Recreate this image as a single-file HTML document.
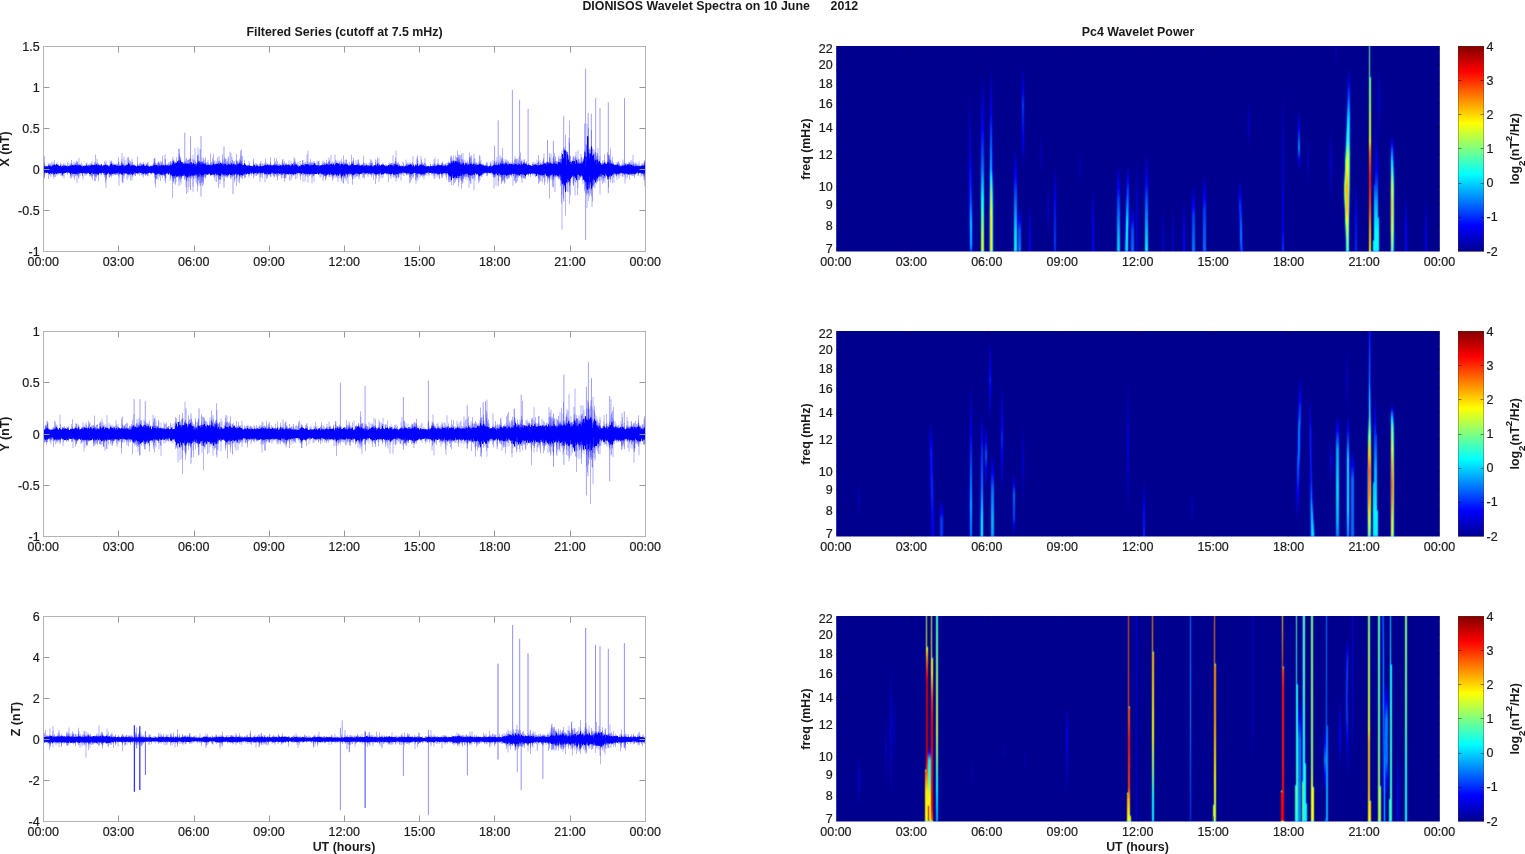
<!DOCTYPE html>
<html><head><meta charset="utf-8"><title>DIONISOS Wavelet Spectra</title>
<style>html,body{margin:0;padding:0;background:#fff;overflow:hidden}svg{display:block;opacity:0.999}text{font-family:"Liberation Sans", sans-serif;font-size:12.5px;fill:#1a1a1a;stroke:#1a1a1a;stroke-width:0.2px}.b{font-weight:bold;font-size:12.4px;stroke:none}</style>
</head><body>
<svg width="1525" height="854" viewBox="0 0 1525 854">
<defs>
<filter id="jet" x="0" y="0" width="1" height="1" color-interpolation-filters="sRGB"><feGaussianBlur stdDeviation="0 1.0"/><feComponentTransfer><feFuncR type="table" tableValues="0 0 0 0 0.5 1 1 1 0.5 0.5 0.5 0.5 0.5"/><feFuncG type="table" tableValues="0 0 0.5 1 1 1 0.5 0 0 0 0 0 0"/><feFuncB type="table" tableValues="0.56 1 1 1 0.5 0 0 0 0 0 0 0 0"/><feFuncA type="linear" slope="0" intercept="1"/></feComponentTransfer><feConvolveMatrix order="3 3" kernelMatrix="0.0200 0.0600 0.0200 0.1600 0.4800 0.1600 0.0200 0.0600 0.0200" divisor="1" edgeMode="duplicate" preserveAlpha="true"/></filter>
<linearGradient id="cb" x1="0" y1="0" x2="0" y2="1"><stop offset="0" stop-color="#800000"/><stop offset="0.125" stop-color="#ff0000"/><stop offset="0.375" stop-color="#ffff00"/><stop offset="0.625" stop-color="#00ffff"/><stop offset="0.875" stop-color="#0000ff"/><stop offset="1" stop-color="#00008f"/></linearGradient>
<clipPath id="cl0"><rect x="43.5" y="46.5" width="602.0" height="205.0"/></clipPath>
<clipPath id="cr0"><rect x="836.2" y="46.0" width="603.5999999999999" height="205.5"/></clipPath>
<clipPath id="cl1"><rect x="43.5" y="331.5" width="602.0" height="205.0"/></clipPath>
<clipPath id="cr1"><rect x="836.2" y="331.0" width="603.5999999999999" height="205.5"/></clipPath>
<clipPath id="cl2"><rect x="43.5" y="616.5" width="602.0" height="205.0"/></clipPath>
<clipPath id="cr2"><rect x="836.2" y="616.0" width="603.5999999999999" height="205.5"/></clipPath>
<linearGradient id="g0_0o" gradientUnits="userSpaceOnUse" x1="0" y1="92" x2="0" y2="252"><stop offset="0" stop-color="#fff" stop-opacity="0"/><stop offset="0.36" stop-color="#fff" stop-opacity="0"/><stop offset="0.68" stop-color="#fff" stop-opacity="0.022"/><stop offset="0.83" stop-color="#fff" stop-opacity="0.089"/><stop offset="0.96" stop-color="#fff" stop-opacity="0.067"/><stop offset="1" stop-color="#fff" stop-opacity="0"/></linearGradient><linearGradient id="g0_0" gradientUnits="userSpaceOnUse" x1="0" y1="92" x2="0" y2="252"><stop offset="0" stop-color="#fff" stop-opacity="0"/><stop offset="0.36" stop-color="#fff" stop-opacity="0.056"/><stop offset="0.68" stop-color="#fff" stop-opacity="0.136"/><stop offset="0.83" stop-color="#fff" stop-opacity="0.146"/><stop offset="0.96" stop-color="#fff" stop-opacity="0.143"/><stop offset="1" stop-color="#fff" stop-opacity="0.133"/></linearGradient><linearGradient id="g0_1" gradientUnits="userSpaceOnUse" x1="0" y1="74" x2="0" y2="252"><stop offset="0" stop-color="#fff" stop-opacity="0"/><stop offset="0.26" stop-color="#fff" stop-opacity="0.067"/><stop offset="0.53" stop-color="#fff" stop-opacity="0.156"/><stop offset="0.71" stop-color="#fff" stop-opacity="0.256"/><stop offset="0.9" stop-color="#fff" stop-opacity="0.356"/><stop offset="1" stop-color="#fff" stop-opacity="0.378"/></linearGradient><linearGradient id="g0_2o" gradientUnits="userSpaceOnUse" x1="0" y1="66" x2="0" y2="252"><stop offset="0" stop-color="#fff" stop-opacity="0"/><stop offset="0.24" stop-color="#fff" stop-opacity="0"/><stop offset="0.55" stop-color="#fff" stop-opacity="0.067"/><stop offset="0.66" stop-color="#fff" stop-opacity="0.2"/><stop offset="0.8" stop-color="#fff" stop-opacity="0.289"/><stop offset="1" stop-color="#fff" stop-opacity="0.289"/></linearGradient><linearGradient id="g0_2" gradientUnits="userSpaceOnUse" x1="0" y1="66" x2="0" y2="252"><stop offset="0" stop-color="#fff" stop-opacity="0"/><stop offset="0.24" stop-color="#fff" stop-opacity="0.078"/><stop offset="0.55" stop-color="#fff" stop-opacity="0.143"/><stop offset="0.66" stop-color="#fff" stop-opacity="0.167"/><stop offset="0.8" stop-color="#fff" stop-opacity="0.187"/><stop offset="1" stop-color="#fff" stop-opacity="0.187"/></linearGradient><linearGradient id="g0_3" gradientUnits="userSpaceOnUse" x1="0" y1="148" x2="0" y2="252"><stop offset="0" stop-color="#fff" stop-opacity="0"/><stop offset="0.4" stop-color="#fff" stop-opacity="0.122"/><stop offset="0.79" stop-color="#fff" stop-opacity="0.222"/><stop offset="1" stop-color="#fff" stop-opacity="0.244"/></linearGradient><linearGradient id="g0_4" gradientUnits="userSpaceOnUse" x1="0" y1="205" x2="0" y2="252"><stop offset="0" stop-color="#fff" stop-opacity="0"/><stop offset="0.53" stop-color="#fff" stop-opacity="0.133"/><stop offset="1" stop-color="#fff" stop-opacity="0.167"/></linearGradient><linearGradient id="g0_5" gradientUnits="userSpaceOnUse" x1="0" y1="66" x2="0" y2="169"><stop offset="0" stop-color="#fff" stop-opacity="0"/><stop offset="0.37" stop-color="#fff" stop-opacity="0.122"/><stop offset="0.72" stop-color="#fff" stop-opacity="0.078"/><stop offset="1" stop-color="#fff" stop-opacity="0"/></linearGradient><linearGradient id="g0_6" gradientUnits="userSpaceOnUse" x1="0" y1="200" x2="0" y2="252"><stop offset="0" stop-color="#fff" stop-opacity="0"/><stop offset="0.58" stop-color="#fff" stop-opacity="0.067"/><stop offset="1" stop-color="#fff" stop-opacity="0.078"/></linearGradient><linearGradient id="g0_7" gradientUnits="userSpaceOnUse" x1="0" y1="184" x2="0" y2="235"><stop offset="0" stop-color="#fff" stop-opacity="0"/><stop offset="0.51" stop-color="#fff" stop-opacity="0.044"/><stop offset="1" stop-color="#fff" stop-opacity="0"/></linearGradient><linearGradient id="g0_8" gradientUnits="userSpaceOnUse" x1="0" y1="166" x2="0" y2="252"><stop offset="0" stop-color="#fff" stop-opacity="0"/><stop offset="0.4" stop-color="#fff" stop-opacity="0.089"/><stop offset="0.86" stop-color="#fff" stop-opacity="0.122"/><stop offset="1" stop-color="#fff" stop-opacity="0.111"/></linearGradient><linearGradient id="g0_9" gradientUnits="userSpaceOnUse" x1="0" y1="130" x2="0" y2="179"><stop offset="0" stop-color="#fff" stop-opacity="0"/><stop offset="0.51" stop-color="#fff" stop-opacity="0.033"/><stop offset="1" stop-color="#fff" stop-opacity="0"/></linearGradient><linearGradient id="g0_10" gradientUnits="userSpaceOnUse" x1="0" y1="151" x2="0" y2="184"><stop offset="0" stop-color="#fff" stop-opacity="0"/><stop offset="0.52" stop-color="#fff" stop-opacity="0.033"/><stop offset="1" stop-color="#fff" stop-opacity="0"/></linearGradient><linearGradient id="g0_11" gradientUnits="userSpaceOnUse" x1="0" y1="189" x2="0" y2="252"><stop offset="0" stop-color="#fff" stop-opacity="0"/><stop offset="0.49" stop-color="#fff" stop-opacity="0.078"/><stop offset="1" stop-color="#fff" stop-opacity="0.089"/></linearGradient><linearGradient id="g0_12" gradientUnits="userSpaceOnUse" x1="0" y1="164" x2="0" y2="252"><stop offset="0" stop-color="#fff" stop-opacity="0"/><stop offset="0.41" stop-color="#fff" stop-opacity="0.122"/><stop offset="0.81" stop-color="#fff" stop-opacity="0.2"/><stop offset="1" stop-color="#fff" stop-opacity="0.222"/></linearGradient><linearGradient id="g0_13o" gradientUnits="userSpaceOnUse" x1="0" y1="164" x2="0" y2="252"><stop offset="0" stop-color="#fff" stop-opacity="0"/><stop offset="0.35" stop-color="#fff" stop-opacity="0.022"/><stop offset="0.69" stop-color="#fff" stop-opacity="0.122"/><stop offset="1" stop-color="#fff" stop-opacity="0.122"/></linearGradient><linearGradient id="g0_13" gradientUnits="userSpaceOnUse" x1="0" y1="164" x2="0" y2="252"><stop offset="0" stop-color="#fff" stop-opacity="0"/><stop offset="0.35" stop-color="#fff" stop-opacity="0.136"/><stop offset="0.69" stop-color="#fff" stop-opacity="0.152"/><stop offset="1" stop-color="#fff" stop-opacity="0.152"/></linearGradient><linearGradient id="g0_14" gradientUnits="userSpaceOnUse" x1="0" y1="205" x2="0" y2="252"><stop offset="0" stop-color="#fff" stop-opacity="0"/><stop offset="0.53" stop-color="#fff" stop-opacity="0.133"/><stop offset="1" stop-color="#fff" stop-opacity="0.156"/></linearGradient><linearGradient id="g0_15" gradientUnits="userSpaceOnUse" x1="0" y1="160" x2="0" y2="252"><stop offset="0" stop-color="#fff" stop-opacity="0"/><stop offset="0.43" stop-color="#fff" stop-opacity="0.056"/><stop offset="1" stop-color="#fff" stop-opacity="0.056"/></linearGradient><linearGradient id="g0_16" gradientUnits="userSpaceOnUse" x1="0" y1="153" x2="0" y2="252"><stop offset="0" stop-color="#fff" stop-opacity="0"/><stop offset="0.47" stop-color="#fff" stop-opacity="0.133"/><stop offset="0.83" stop-color="#fff" stop-opacity="0.211"/><stop offset="1" stop-color="#fff" stop-opacity="0.244"/></linearGradient><linearGradient id="g0_17" gradientUnits="userSpaceOnUse" x1="0" y1="205" x2="0" y2="252"><stop offset="0" stop-color="#fff" stop-opacity="0"/><stop offset="0.64" stop-color="#fff" stop-opacity="0.044"/><stop offset="1" stop-color="#fff" stop-opacity="0.044"/></linearGradient><linearGradient id="g0_18" gradientUnits="userSpaceOnUse" x1="0" y1="205" x2="0" y2="252"><stop offset="0" stop-color="#fff" stop-opacity="0"/><stop offset="0.64" stop-color="#fff" stop-opacity="0.044"/><stop offset="1" stop-color="#fff" stop-opacity="0.044"/></linearGradient><linearGradient id="g0_19" gradientUnits="userSpaceOnUse" x1="0" y1="200" x2="0" y2="252"><stop offset="0" stop-color="#fff" stop-opacity="0"/><stop offset="0.58" stop-color="#fff" stop-opacity="0.078"/><stop offset="1" stop-color="#fff" stop-opacity="0.089"/></linearGradient><linearGradient id="g0_20" gradientUnits="userSpaceOnUse" x1="0" y1="184" x2="0" y2="252"><stop offset="0" stop-color="#fff" stop-opacity="0"/><stop offset="0.46" stop-color="#fff" stop-opacity="0.122"/><stop offset="1" stop-color="#fff" stop-opacity="0.167"/></linearGradient><linearGradient id="g0_21" gradientUnits="userSpaceOnUse" x1="0" y1="174" x2="0" y2="252"><stop offset="0" stop-color="#fff" stop-opacity="0"/><stop offset="0.46" stop-color="#fff" stop-opacity="0.122"/><stop offset="1" stop-color="#fff" stop-opacity="0.156"/></linearGradient><linearGradient id="g0_22" gradientUnits="userSpaceOnUse" x1="0" y1="179" x2="0" y2="252"><stop offset="0" stop-color="#fff" stop-opacity="0"/><stop offset="0.36" stop-color="#fff" stop-opacity="0.122"/><stop offset="0.77" stop-color="#fff" stop-opacity="0.167"/><stop offset="1" stop-color="#fff" stop-opacity="0.144"/></linearGradient><linearGradient id="g0_23" gradientUnits="userSpaceOnUse" x1="0" y1="97" x2="0" y2="153"><stop offset="0" stop-color="#fff" stop-opacity="0"/><stop offset="0.5" stop-color="#fff" stop-opacity="0.044"/><stop offset="1" stop-color="#fff" stop-opacity="0"/></linearGradient><linearGradient id="g0_24" gradientUnits="userSpaceOnUse" x1="0" y1="86" x2="0" y2="252"><stop offset="0" stop-color="#fff" stop-opacity="0"/><stop offset="0.39" stop-color="#fff" stop-opacity="0.044"/><stop offset="0.81" stop-color="#fff" stop-opacity="0.067"/><stop offset="1" stop-color="#fff" stop-opacity="0.122"/></linearGradient><linearGradient id="g0_25" gradientUnits="userSpaceOnUse" x1="0" y1="110" x2="0" y2="171"><stop offset="0" stop-color="#fff" stop-opacity="0"/><stop offset="0.62" stop-color="#fff" stop-opacity="0.178"/><stop offset="1" stop-color="#fff" stop-opacity="0"/></linearGradient><linearGradient id="g0_26" gradientUnits="userSpaceOnUse" x1="0" y1="138" x2="0" y2="184"><stop offset="0" stop-color="#fff" stop-opacity="0"/><stop offset="0.48" stop-color="#fff" stop-opacity="0.044"/><stop offset="1" stop-color="#fff" stop-opacity="0"/></linearGradient><linearGradient id="g0_27" gradientUnits="userSpaceOnUse" x1="0" y1="125" x2="0" y2="205"><stop offset="0" stop-color="#fff" stop-opacity="0"/><stop offset="0.5" stop-color="#fff" stop-opacity="0.056"/><stop offset="1" stop-color="#fff" stop-opacity="0"/></linearGradient><linearGradient id="g0_28o" gradientUnits="userSpaceOnUse" x1="0" y1="66" x2="0" y2="252"><stop offset="0" stop-color="#fff" stop-opacity="0"/><stop offset="0.18" stop-color="#fff" stop-opacity="0.033"/><stop offset="0.27" stop-color="#fff" stop-opacity="0.1"/><stop offset="0.4" stop-color="#fff" stop-opacity="0.156"/><stop offset="0.49" stop-color="#fff" stop-opacity="0.256"/><stop offset="0.64" stop-color="#fff" stop-opacity="0.333"/><stop offset="0.77" stop-color="#fff" stop-opacity="0.322"/><stop offset="0.85" stop-color="#fff" stop-opacity="0.267"/><stop offset="0.94" stop-color="#fff" stop-opacity="0.222"/><stop offset="1" stop-color="#fff" stop-opacity="0.2"/></linearGradient><linearGradient id="g0_28" gradientUnits="userSpaceOnUse" x1="0" y1="66" x2="0" y2="252"><stop offset="0" stop-color="#fff" stop-opacity="0"/><stop offset="0.18" stop-color="#fff" stop-opacity="0.138"/><stop offset="0.27" stop-color="#fff" stop-opacity="0.148"/><stop offset="0.4" stop-color="#fff" stop-opacity="0.158"/><stop offset="0.49" stop-color="#fff" stop-opacity="0.179"/><stop offset="0.64" stop-color="#fff" stop-opacity="0.2"/><stop offset="0.77" stop-color="#fff" stop-opacity="0.197"/><stop offset="0.85" stop-color="#fff" stop-opacity="0.182"/><stop offset="0.94" stop-color="#fff" stop-opacity="0.171"/><stop offset="1" stop-color="#fff" stop-opacity="0.167"/></linearGradient><linearGradient id="g0_29" gradientUnits="userSpaceOnUse" x1="0" y1="184" x2="0" y2="252"><stop offset="0" stop-color="#fff" stop-opacity="0"/><stop offset="0.46" stop-color="#fff" stop-opacity="0.089"/><stop offset="1" stop-color="#fff" stop-opacity="0.111"/></linearGradient><linearGradient id="g0_30" gradientUnits="userSpaceOnUse" x1="0" y1="125" x2="0" y2="252"><stop offset="0" stop-color="#fff" stop-opacity="0"/><stop offset="0.35" stop-color="#fff" stop-opacity="0.078"/><stop offset="0.63" stop-color="#fff" stop-opacity="0.2"/><stop offset="0.87" stop-color="#fff" stop-opacity="0.256"/><stop offset="1" stop-color="#fff" stop-opacity="0.256"/></linearGradient><linearGradient id="g0_31" gradientUnits="userSpaceOnUse" x1="0" y1="44" x2="0" y2="252"><stop offset="0" stop-color="#fff" stop-opacity="0.311"/><stop offset="0.27" stop-color="#fff" stop-opacity="0.344"/><stop offset="0.46" stop-color="#fff" stop-opacity="0.4"/><stop offset="0.52" stop-color="#fff" stop-opacity="0.5"/><stop offset="0.65" stop-color="#fff" stop-opacity="0.567"/><stop offset="0.77" stop-color="#fff" stop-opacity="0.533"/><stop offset="0.89" stop-color="#fff" stop-opacity="0.467"/><stop offset="1" stop-color="#fff" stop-opacity="0.433"/></linearGradient><linearGradient id="g0_32o" gradientUnits="userSpaceOnUse" x1="0" y1="135" x2="0" y2="252"><stop offset="0" stop-color="#fff" stop-opacity="0"/><stop offset="0.18" stop-color="#fff" stop-opacity="0.067"/><stop offset="0.42" stop-color="#fff" stop-opacity="0.267"/><stop offset="0.6" stop-color="#fff" stop-opacity="0.311"/><stop offset="0.78" stop-color="#fff" stop-opacity="0.289"/><stop offset="1" stop-color="#fff" stop-opacity="0.211"/></linearGradient><linearGradient id="g0_32" gradientUnits="userSpaceOnUse" x1="0" y1="135" x2="0" y2="252"><stop offset="0" stop-color="#fff" stop-opacity="0"/><stop offset="0.18" stop-color="#fff" stop-opacity="0.143"/><stop offset="0.42" stop-color="#fff" stop-opacity="0.182"/><stop offset="0.6" stop-color="#fff" stop-opacity="0.194"/><stop offset="0.78" stop-color="#fff" stop-opacity="0.187"/><stop offset="1" stop-color="#fff" stop-opacity="0.169"/></linearGradient><linearGradient id="g0_33" gradientUnits="userSpaceOnUse" x1="0" y1="195" x2="0" y2="252"><stop offset="0" stop-color="#fff" stop-opacity="0"/><stop offset="0.53" stop-color="#fff" stop-opacity="0.078"/><stop offset="1" stop-color="#fff" stop-opacity="0.078"/></linearGradient><linearGradient id="g0_34" gradientUnits="userSpaceOnUse" x1="0" y1="200" x2="0" y2="252"><stop offset="0" stop-color="#fff" stop-opacity="0"/><stop offset="0.58" stop-color="#fff" stop-opacity="0.067"/><stop offset="1" stop-color="#fff" stop-opacity="0.067"/></linearGradient><linearGradient id="g0_35" gradientUnits="userSpaceOnUse" x1="0" y1="66" x2="0" y2="143"><stop offset="0" stop-color="#fff" stop-opacity="0"/><stop offset="0.44" stop-color="#fff" stop-opacity="0.056"/><stop offset="1" stop-color="#fff" stop-opacity="0"/></linearGradient><linearGradient id="g0_36" gradientUnits="userSpaceOnUse" x1="0" y1="44" x2="0" y2="70"><stop offset="0" stop-color="#fff" stop-opacity="0.033"/><stop offset="1" stop-color="#fff" stop-opacity="0"/></linearGradient><linearGradient id="g1_0" gradientUnits="userSpaceOnUse" x1="0" y1="480" x2="0" y2="518"><stop offset="0" stop-color="#fff" stop-opacity="0"/><stop offset="0.53" stop-color="#fff" stop-opacity="0.033"/><stop offset="1" stop-color="#fff" stop-opacity="0"/></linearGradient><linearGradient id="g1_1" gradientUnits="userSpaceOnUse" x1="0" y1="420" x2="0" y2="537"><stop offset="0" stop-color="#fff" stop-opacity="0"/><stop offset="0.26" stop-color="#fff" stop-opacity="0.1"/><stop offset="0.6" stop-color="#fff" stop-opacity="0.111"/><stop offset="1" stop-color="#fff" stop-opacity="0.078"/></linearGradient><linearGradient id="g1_2" gradientUnits="userSpaceOnUse" x1="0" y1="500" x2="0" y2="537"><stop offset="0" stop-color="#fff" stop-opacity="0"/><stop offset="0.54" stop-color="#fff" stop-opacity="0.122"/><stop offset="1" stop-color="#fff" stop-opacity="0.122"/></linearGradient><linearGradient id="g1_3o" gradientUnits="userSpaceOnUse" x1="0" y1="384" x2="0" y2="537"><stop offset="0" stop-color="#fff" stop-opacity="0"/><stop offset="0.3" stop-color="#fff" stop-opacity="0"/><stop offset="0.56" stop-color="#fff" stop-opacity="0.011"/><stop offset="0.79" stop-color="#fff" stop-opacity="0.067"/><stop offset="1" stop-color="#fff" stop-opacity="0.033"/></linearGradient><linearGradient id="g1_3" gradientUnits="userSpaceOnUse" x1="0" y1="384" x2="0" y2="537"><stop offset="0" stop-color="#fff" stop-opacity="0"/><stop offset="0.3" stop-color="#fff" stop-opacity="0.078"/><stop offset="0.56" stop-color="#fff" stop-opacity="0.135"/><stop offset="0.79" stop-color="#fff" stop-opacity="0.143"/><stop offset="1" stop-color="#fff" stop-opacity="0.138"/></linearGradient><linearGradient id="g1_4o" gradientUnits="userSpaceOnUse" x1="0" y1="410" x2="0" y2="537"><stop offset="0" stop-color="#fff" stop-opacity="0"/><stop offset="0.31" stop-color="#fff" stop-opacity="0"/><stop offset="0.63" stop-color="#fff" stop-opacity="0.033"/><stop offset="0.83" stop-color="#fff" stop-opacity="0.111"/><stop offset="1" stop-color="#fff" stop-opacity="0.133"/></linearGradient><linearGradient id="g1_4" gradientUnits="userSpaceOnUse" x1="0" y1="410" x2="0" y2="537"><stop offset="0" stop-color="#fff" stop-opacity="0"/><stop offset="0.31" stop-color="#fff" stop-opacity="0.111"/><stop offset="0.63" stop-color="#fff" stop-opacity="0.138"/><stop offset="0.83" stop-color="#fff" stop-opacity="0.15"/><stop offset="1" stop-color="#fff" stop-opacity="0.154"/></linearGradient><linearGradient id="g1_5" gradientUnits="userSpaceOnUse" x1="0" y1="425" x2="0" y2="490"><stop offset="0" stop-color="#fff" stop-opacity="0"/><stop offset="0.46" stop-color="#fff" stop-opacity="0.144"/><stop offset="1" stop-color="#fff" stop-opacity="0"/></linearGradient><linearGradient id="g1_6" gradientUnits="userSpaceOnUse" x1="0" y1="340" x2="0" y2="423"><stop offset="0" stop-color="#fff" stop-opacity="0"/><stop offset="0.48" stop-color="#fff" stop-opacity="0.1"/><stop offset="1" stop-color="#fff" stop-opacity="0"/></linearGradient><linearGradient id="g1_7" gradientUnits="userSpaceOnUse" x1="0" y1="454" x2="0" y2="537"><stop offset="0" stop-color="#fff" stop-opacity="0"/><stop offset="0.43" stop-color="#fff" stop-opacity="0.156"/><stop offset="0.8" stop-color="#fff" stop-opacity="0.2"/><stop offset="1" stop-color="#fff" stop-opacity="0.189"/></linearGradient><linearGradient id="g1_8" gradientUnits="userSpaceOnUse" x1="0" y1="384" x2="0" y2="495"><stop offset="0" stop-color="#fff" stop-opacity="0"/><stop offset="0.5" stop-color="#fff" stop-opacity="0.111"/><stop offset="1" stop-color="#fff" stop-opacity="0"/></linearGradient><linearGradient id="g1_9" gradientUnits="userSpaceOnUse" x1="0" y1="472" x2="0" y2="534"><stop offset="0" stop-color="#fff" stop-opacity="0"/><stop offset="0.37" stop-color="#fff" stop-opacity="0.156"/><stop offset="0.77" stop-color="#fff" stop-opacity="0.122"/><stop offset="1" stop-color="#fff" stop-opacity="0"/></linearGradient><linearGradient id="g1_10" gradientUnits="userSpaceOnUse" x1="0" y1="423" x2="0" y2="505"><stop offset="0" stop-color="#fff" stop-opacity="0"/><stop offset="0.45" stop-color="#fff" stop-opacity="0.056"/><stop offset="1" stop-color="#fff" stop-opacity="0"/></linearGradient><linearGradient id="g1_11" gradientUnits="userSpaceOnUse" x1="0" y1="376" x2="0" y2="518"><stop offset="0" stop-color="#fff" stop-opacity="0"/><stop offset="0.52" stop-color="#fff" stop-opacity="0.067"/><stop offset="1" stop-color="#fff" stop-opacity="0"/></linearGradient><linearGradient id="g1_12" gradientUnits="userSpaceOnUse" x1="0" y1="480" x2="0" y2="537"><stop offset="0" stop-color="#fff" stop-opacity="0"/><stop offset="0.53" stop-color="#fff" stop-opacity="0.089"/><stop offset="1" stop-color="#fff" stop-opacity="0.111"/></linearGradient><linearGradient id="g1_13" gradientUnits="userSpaceOnUse" x1="0" y1="490" x2="0" y2="526"><stop offset="0" stop-color="#fff" stop-opacity="0"/><stop offset="0.5" stop-color="#fff" stop-opacity="0.044"/><stop offset="1" stop-color="#fff" stop-opacity="0"/></linearGradient><linearGradient id="g1_14" gradientUnits="userSpaceOnUse" x1="0" y1="376" x2="0" y2="521"><stop offset="0" stop-color="#fff" stop-opacity="0"/><stop offset="0.32" stop-color="#fff" stop-opacity="0.167"/><stop offset="0.57" stop-color="#fff" stop-opacity="0.167"/><stop offset="0.79" stop-color="#fff" stop-opacity="0.089"/><stop offset="1" stop-color="#fff" stop-opacity="0"/></linearGradient><linearGradient id="g1_15o" gradientUnits="userSpaceOnUse" x1="0" y1="397" x2="0" y2="537"><stop offset="0" stop-color="#fff" stop-opacity="0"/><stop offset="0.24" stop-color="#fff" stop-opacity="0"/><stop offset="0.59" stop-color="#fff" stop-opacity="0"/><stop offset="0.77" stop-color="#fff" stop-opacity="0.067"/><stop offset="1" stop-color="#fff" stop-opacity="0.111"/></linearGradient><linearGradient id="g1_15" gradientUnits="userSpaceOnUse" x1="0" y1="397" x2="0" y2="537"><stop offset="0" stop-color="#fff" stop-opacity="0"/><stop offset="0.24" stop-color="#fff" stop-opacity="0.111"/><stop offset="0.59" stop-color="#fff" stop-opacity="0.111"/><stop offset="0.77" stop-color="#fff" stop-opacity="0.143"/><stop offset="1" stop-color="#fff" stop-opacity="0.15"/></linearGradient><linearGradient id="g1_16" gradientUnits="userSpaceOnUse" x1="0" y1="415" x2="0" y2="537"><stop offset="0" stop-color="#fff" stop-opacity="0"/><stop offset="0.28" stop-color="#fff" stop-opacity="0.189"/><stop offset="0.61" stop-color="#fff" stop-opacity="0.222"/><stop offset="0.86" stop-color="#fff" stop-opacity="0.2"/><stop offset="1" stop-color="#fff" stop-opacity="0.167"/></linearGradient><linearGradient id="g1_17o" gradientUnits="userSpaceOnUse" x1="0" y1="413" x2="0" y2="537"><stop offset="0" stop-color="#fff" stop-opacity="0"/><stop offset="0.22" stop-color="#fff" stop-opacity="0"/><stop offset="0.37" stop-color="#fff" stop-opacity="0.1"/><stop offset="0.78" stop-color="#fff" stop-opacity="0.111"/><stop offset="1" stop-color="#fff" stop-opacity="0.044"/></linearGradient><linearGradient id="g1_17" gradientUnits="userSpaceOnUse" x1="0" y1="413" x2="0" y2="537"><stop offset="0" stop-color="#fff" stop-opacity="0"/><stop offset="0.22" stop-color="#fff" stop-opacity="0.133"/><stop offset="0.37" stop-color="#fff" stop-opacity="0.148"/><stop offset="0.78" stop-color="#fff" stop-opacity="0.15"/><stop offset="1" stop-color="#fff" stop-opacity="0.14"/></linearGradient><linearGradient id="g1_18" gradientUnits="userSpaceOnUse" x1="0" y1="449" x2="0" y2="537"><stop offset="0" stop-color="#fff" stop-opacity="0"/><stop offset="0.35" stop-color="#fff" stop-opacity="0.156"/><stop offset="1" stop-color="#fff" stop-opacity="0.156"/></linearGradient><linearGradient id="g1_19" gradientUnits="userSpaceOnUse" x1="0" y1="395" x2="0" y2="537"><stop offset="0" stop-color="#fff" stop-opacity="0"/><stop offset="0.25" stop-color="#fff" stop-opacity="0.111"/><stop offset="0.52" stop-color="#fff" stop-opacity="0.2"/><stop offset="0.81" stop-color="#fff" stop-opacity="0.244"/><stop offset="1" stop-color="#fff" stop-opacity="0.244"/></linearGradient><linearGradient id="g1_20o" gradientUnits="userSpaceOnUse" x1="0" y1="329" x2="0" y2="537"><stop offset="0" stop-color="#fff" stop-opacity="0.033"/><stop offset="0.25" stop-color="#fff" stop-opacity="0.078"/><stop offset="0.41" stop-color="#fff" stop-opacity="0.189"/><stop offset="0.58" stop-color="#fff" stop-opacity="0.333"/><stop offset="0.68" stop-color="#fff" stop-opacity="0.4"/><stop offset="0.8" stop-color="#fff" stop-opacity="0.378"/><stop offset="0.89" stop-color="#fff" stop-opacity="0.311"/><stop offset="1" stop-color="#fff" stop-opacity="0.233"/></linearGradient><linearGradient id="g1_20" gradientUnits="userSpaceOnUse" x1="0" y1="329" x2="0" y2="537"><stop offset="0" stop-color="#fff" stop-opacity="0.138"/><stop offset="0.25" stop-color="#fff" stop-opacity="0.145"/><stop offset="0.41" stop-color="#fff" stop-opacity="0.164"/><stop offset="0.58" stop-color="#fff" stop-opacity="0.2"/><stop offset="0.68" stop-color="#fff" stop-opacity="0.222"/><stop offset="0.8" stop-color="#fff" stop-opacity="0.214"/><stop offset="0.89" stop-color="#fff" stop-opacity="0.194"/><stop offset="1" stop-color="#fff" stop-opacity="0.174"/></linearGradient><linearGradient id="g1_21o" gradientUnits="userSpaceOnUse" x1="0" y1="405" x2="0" y2="537"><stop offset="0" stop-color="#fff" stop-opacity="0"/><stop offset="0.08" stop-color="#fff" stop-opacity="0.067"/><stop offset="0.17" stop-color="#fff" stop-opacity="0.211"/><stop offset="0.45" stop-color="#fff" stop-opacity="0.333"/><stop offset="0.61" stop-color="#fff" stop-opacity="0.378"/><stop offset="0.72" stop-color="#fff" stop-opacity="0.356"/><stop offset="0.87" stop-color="#fff" stop-opacity="0.3"/><stop offset="1" stop-color="#fff" stop-opacity="0.278"/></linearGradient><linearGradient id="g1_21" gradientUnits="userSpaceOnUse" x1="0" y1="405" x2="0" y2="537"><stop offset="0" stop-color="#fff" stop-opacity="0"/><stop offset="0.08" stop-color="#fff" stop-opacity="0.143"/><stop offset="0.17" stop-color="#fff" stop-opacity="0.169"/><stop offset="0.45" stop-color="#fff" stop-opacity="0.2"/><stop offset="0.61" stop-color="#fff" stop-opacity="0.214"/><stop offset="0.72" stop-color="#fff" stop-opacity="0.207"/><stop offset="0.87" stop-color="#fff" stop-opacity="0.19"/><stop offset="1" stop-color="#fff" stop-opacity="0.185"/></linearGradient><linearGradient id="g1_22" gradientUnits="userSpaceOnUse" x1="0" y1="346" x2="0" y2="412"><stop offset="0" stop-color="#fff" stop-opacity="0"/><stop offset="0.52" stop-color="#fff" stop-opacity="0.044"/><stop offset="1" stop-color="#fff" stop-opacity="0"/></linearGradient><linearGradient id="g1_23" gradientUnits="userSpaceOnUse" x1="0" y1="438" x2="0" y2="485"><stop offset="0" stop-color="#fff" stop-opacity="0"/><stop offset="0.47" stop-color="#fff" stop-opacity="0.056"/><stop offset="1" stop-color="#fff" stop-opacity="0"/></linearGradient><linearGradient id="g2_0" gradientUnits="userSpaceOnUse" x1="0" y1="754" x2="0" y2="806"><stop offset="0" stop-color="#fff" stop-opacity="0"/><stop offset="0.5" stop-color="#fff" stop-opacity="0.056"/><stop offset="1" stop-color="#fff" stop-opacity="0"/></linearGradient><linearGradient id="g2_1" gradientUnits="userSpaceOnUse" x1="0" y1="713" x2="0" y2="790"><stop offset="0" stop-color="#fff" stop-opacity="0"/><stop offset="0.48" stop-color="#fff" stop-opacity="0.033"/><stop offset="1" stop-color="#fff" stop-opacity="0"/></linearGradient><linearGradient id="g2_2" gradientUnits="userSpaceOnUse" x1="0" y1="661" x2="0" y2="803"><stop offset="0" stop-color="#fff" stop-opacity="0"/><stop offset="0.49" stop-color="#fff" stop-opacity="0.056"/><stop offset="1" stop-color="#fff" stop-opacity="0"/></linearGradient><linearGradient id="g2_3" gradientUnits="userSpaceOnUse" x1="0" y1="692" x2="0" y2="765"><stop offset="0" stop-color="#fff" stop-opacity="0"/><stop offset="0.52" stop-color="#fff" stop-opacity="0.033"/><stop offset="1" stop-color="#fff" stop-opacity="0"/></linearGradient><linearGradient id="g2_4" gradientUnits="userSpaceOnUse" x1="0" y1="748" x2="0" y2="822"><stop offset="0" stop-color="#fff" stop-opacity="0"/><stop offset="0.16" stop-color="#fff" stop-opacity="0.244"/><stop offset="0.41" stop-color="#fff" stop-opacity="0.289"/><stop offset="0.66" stop-color="#fff" stop-opacity="0.4"/><stop offset="1" stop-color="#fff" stop-opacity="0.411"/></linearGradient><linearGradient id="g2_5" gradientUnits="userSpaceOnUse" x1="0" y1="614" x2="0" y2="822"><stop offset="0" stop-color="#fff" stop-opacity="0.356"/><stop offset="0.17" stop-color="#fff" stop-opacity="0.422"/><stop offset="0.22" stop-color="#fff" stop-opacity="0.5"/><stop offset="0.33" stop-color="#fff" stop-opacity="0.611"/><stop offset="0.66" stop-color="#fff" stop-opacity="0.622"/><stop offset="0.77" stop-color="#fff" stop-opacity="0.511"/><stop offset="0.85" stop-color="#fff" stop-opacity="0.433"/><stop offset="1" stop-color="#fff" stop-opacity="0.422"/></linearGradient><linearGradient id="g2_6" gradientUnits="userSpaceOnUse" x1="0" y1="614" x2="0" y2="822"><stop offset="0" stop-color="#fff" stop-opacity="0.4"/><stop offset="0.29" stop-color="#fff" stop-opacity="0.422"/><stop offset="0.41" stop-color="#fff" stop-opacity="0.544"/><stop offset="0.53" stop-color="#fff" stop-opacity="0.589"/><stop offset="0.93" stop-color="#fff" stop-opacity="0.589"/><stop offset="1" stop-color="#fff" stop-opacity="0.511"/></linearGradient><linearGradient id="g2_7" gradientUnits="userSpaceOnUse" x1="0" y1="614" x2="0" y2="822"><stop offset="0" stop-color="#fff" stop-opacity="0.289"/><stop offset="0.35" stop-color="#fff" stop-opacity="0.356"/><stop offset="0.57" stop-color="#fff" stop-opacity="0.378"/><stop offset="0.71" stop-color="#fff" stop-opacity="0.322"/><stop offset="0.83" stop-color="#fff" stop-opacity="0.256"/><stop offset="1" stop-color="#fff" stop-opacity="0.189"/></linearGradient><linearGradient id="g2_8" gradientUnits="userSpaceOnUse" x1="0" y1="759" x2="0" y2="790"><stop offset="0" stop-color="#fff" stop-opacity="0"/><stop offset="0.52" stop-color="#fff" stop-opacity="0.022"/><stop offset="1" stop-color="#fff" stop-opacity="0"/></linearGradient><linearGradient id="g2_9" gradientUnits="userSpaceOnUse" x1="0" y1="744" x2="0" y2="759"><stop offset="0" stop-color="#fff" stop-opacity="0"/><stop offset="0.53" stop-color="#fff" stop-opacity="0.022"/><stop offset="1" stop-color="#fff" stop-opacity="0"/></linearGradient><linearGradient id="g2_10" gradientUnits="userSpaceOnUse" x1="0" y1="744" x2="0" y2="777"><stop offset="0" stop-color="#fff" stop-opacity="0"/><stop offset="0.48" stop-color="#fff" stop-opacity="0.022"/><stop offset="1" stop-color="#fff" stop-opacity="0"/></linearGradient><linearGradient id="g2_11" gradientUnits="userSpaceOnUse" x1="0" y1="705" x2="0" y2="796"><stop offset="0" stop-color="#fff" stop-opacity="0"/><stop offset="0.32" stop-color="#fff" stop-opacity="0.078"/><stop offset="1" stop-color="#fff" stop-opacity="0"/></linearGradient><linearGradient id="g2_12" gradientUnits="userSpaceOnUse" x1="0" y1="614" x2="0" y2="822"><stop offset="0" stop-color="#fff" stop-opacity="0.522"/><stop offset="0.51" stop-color="#fff" stop-opacity="0.533"/><stop offset="0.61" stop-color="#fff" stop-opacity="0.567"/><stop offset="0.83" stop-color="#fff" stop-opacity="0.544"/><stop offset="0.89" stop-color="#fff" stop-opacity="0.467"/><stop offset="1" stop-color="#fff" stop-opacity="0.411"/></linearGradient><linearGradient id="g2_13" gradientUnits="userSpaceOnUse" x1="0" y1="614" x2="0" y2="822"><stop offset="0" stop-color="#fff" stop-opacity="0.078"/><stop offset="1" stop-color="#fff" stop-opacity="0.067"/></linearGradient><linearGradient id="g2_14" gradientUnits="userSpaceOnUse" x1="0" y1="614" x2="0" y2="822"><stop offset="0" stop-color="#fff" stop-opacity="0.489"/><stop offset="0.35" stop-color="#fff" stop-opacity="0.444"/><stop offset="0.59" stop-color="#fff" stop-opacity="0.411"/><stop offset="0.77" stop-color="#fff" stop-opacity="0.333"/><stop offset="0.89" stop-color="#fff" stop-opacity="0.256"/><stop offset="1" stop-color="#fff" stop-opacity="0.244"/></linearGradient><linearGradient id="g2_15" gradientUnits="userSpaceOnUse" x1="0" y1="614" x2="0" y2="822"><stop offset="0" stop-color="#fff" stop-opacity="0.167"/><stop offset="0.51" stop-color="#fff" stop-opacity="0.178"/><stop offset="0.8" stop-color="#fff" stop-opacity="0.144"/><stop offset="1" stop-color="#fff" stop-opacity="0.122"/></linearGradient><linearGradient id="g2_16" gradientUnits="userSpaceOnUse" x1="0" y1="614" x2="0" y2="822"><stop offset="0" stop-color="#fff" stop-opacity="0.5"/><stop offset="0.51" stop-color="#fff" stop-opacity="0.478"/><stop offset="0.77" stop-color="#fff" stop-opacity="0.422"/><stop offset="1" stop-color="#fff" stop-opacity="0.378"/></linearGradient><linearGradient id="g2_17" gradientUnits="userSpaceOnUse" x1="0" y1="614" x2="0" y2="770"><stop offset="0" stop-color="#fff" stop-opacity="0.056"/><stop offset="0.68" stop-color="#fff" stop-opacity="0.056"/><stop offset="1" stop-color="#fff" stop-opacity="0"/></linearGradient><linearGradient id="g2_18" gradientUnits="userSpaceOnUse" x1="0" y1="614" x2="0" y2="822"><stop offset="0" stop-color="#fff" stop-opacity="0.433"/><stop offset="0.17" stop-color="#fff" stop-opacity="0.489"/><stop offset="0.35" stop-color="#fff" stop-opacity="0.567"/><stop offset="0.7" stop-color="#fff" stop-opacity="0.567"/><stop offset="1" stop-color="#fff" stop-opacity="0.589"/></linearGradient><linearGradient id="g2_19" gradientUnits="userSpaceOnUse" x1="0" y1="697" x2="0" y2="822"><stop offset="0" stop-color="#fff" stop-opacity="0"/><stop offset="0.34" stop-color="#fff" stop-opacity="0.156"/><stop offset="1" stop-color="#fff" stop-opacity="0.178"/></linearGradient><linearGradient id="g2_20" gradientUnits="userSpaceOnUse" x1="0" y1="614" x2="0" y2="822"><stop offset="0" stop-color="#fff" stop-opacity="0.322"/><stop offset="0.22" stop-color="#fff" stop-opacity="0.289"/><stop offset="0.35" stop-color="#fff" stop-opacity="0.267"/><stop offset="0.71" stop-color="#fff" stop-opacity="0.278"/><stop offset="0.85" stop-color="#fff" stop-opacity="0.3"/><stop offset="1" stop-color="#fff" stop-opacity="0.278"/></linearGradient><linearGradient id="g2_21" gradientUnits="userSpaceOnUse" x1="0" y1="614" x2="0" y2="822"><stop offset="0" stop-color="#fff" stop-opacity="0.111"/><stop offset="1" stop-color="#fff" stop-opacity="0.122"/></linearGradient><linearGradient id="g2_22" gradientUnits="userSpaceOnUse" x1="0" y1="614" x2="0" y2="822"><stop offset="0" stop-color="#fff" stop-opacity="0.322"/><stop offset="0.41" stop-color="#fff" stop-opacity="0.3"/><stop offset="0.66" stop-color="#fff" stop-opacity="0.267"/><stop offset="1" stop-color="#fff" stop-opacity="0.256"/></linearGradient><linearGradient id="g2_23" gradientUnits="userSpaceOnUse" x1="0" y1="614" x2="0" y2="822"><stop offset="0" stop-color="#fff" stop-opacity="0.333"/><stop offset="0.75" stop-color="#fff" stop-opacity="0.356"/><stop offset="0.85" stop-color="#fff" stop-opacity="0.411"/><stop offset="1" stop-color="#fff" stop-opacity="0.411"/></linearGradient><linearGradient id="g2_24" gradientUnits="userSpaceOnUse" x1="0" y1="725" x2="0" y2="790"><stop offset="0" stop-color="#fff" stop-opacity="0"/><stop offset="0.54" stop-color="#fff" stop-opacity="0.167"/><stop offset="1" stop-color="#fff" stop-opacity="0"/></linearGradient><linearGradient id="g2_25" gradientUnits="userSpaceOnUse" x1="0" y1="614" x2="0" y2="822"><stop offset="0" stop-color="#fff" stop-opacity="0.167"/><stop offset="0.51" stop-color="#fff" stop-opacity="0.156"/><stop offset="0.77" stop-color="#fff" stop-opacity="0.189"/><stop offset="1" stop-color="#fff" stop-opacity="0.2"/></linearGradient><linearGradient id="g2_26" gradientUnits="userSpaceOnUse" x1="0" y1="695" x2="0" y2="772"><stop offset="0" stop-color="#fff" stop-opacity="0"/><stop offset="0.52" stop-color="#fff" stop-opacity="0.078"/><stop offset="1" stop-color="#fff" stop-opacity="0"/></linearGradient><linearGradient id="g2_27" gradientUnits="userSpaceOnUse" x1="0" y1="637" x2="0" y2="775"><stop offset="0" stop-color="#fff" stop-opacity="0"/><stop offset="0.17" stop-color="#fff" stop-opacity="0.133"/><stop offset="0.6" stop-color="#fff" stop-opacity="0.133"/><stop offset="1" stop-color="#fff" stop-opacity="0"/></linearGradient><linearGradient id="g2_28" gradientUnits="userSpaceOnUse" x1="0" y1="614" x2="0" y2="762"><stop offset="0" stop-color="#fff" stop-opacity="0.067"/><stop offset="0.72" stop-color="#fff" stop-opacity="0.056"/><stop offset="1" stop-color="#fff" stop-opacity="0"/></linearGradient><linearGradient id="g2_29" gradientUnits="userSpaceOnUse" x1="0" y1="614" x2="0" y2="822"><stop offset="0" stop-color="#fff" stop-opacity="0.333"/><stop offset="0.53" stop-color="#fff" stop-opacity="0.4"/><stop offset="0.62" stop-color="#fff" stop-opacity="0.456"/><stop offset="0.83" stop-color="#fff" stop-opacity="0.456"/><stop offset="1" stop-color="#fff" stop-opacity="0.422"/></linearGradient><linearGradient id="g2_30" gradientUnits="userSpaceOnUse" x1="0" y1="614" x2="0" y2="822"><stop offset="0" stop-color="#fff" stop-opacity="0.311"/><stop offset="0.51" stop-color="#fff" stop-opacity="0.311"/><stop offset="0.77" stop-color="#fff" stop-opacity="0.344"/><stop offset="1" stop-color="#fff" stop-opacity="0.367"/></linearGradient><linearGradient id="g2_31" gradientUnits="userSpaceOnUse" x1="0" y1="682" x2="0" y2="800"><stop offset="0" stop-color="#fff" stop-opacity="0"/><stop offset="0.32" stop-color="#fff" stop-opacity="0.167"/><stop offset="0.68" stop-color="#fff" stop-opacity="0.156"/><stop offset="1" stop-color="#fff" stop-opacity="0"/></linearGradient><linearGradient id="g2_32" gradientUnits="userSpaceOnUse" x1="0" y1="614" x2="0" y2="822"><stop offset="0" stop-color="#fff" stop-opacity="0.189"/><stop offset="0.51" stop-color="#fff" stop-opacity="0.2"/><stop offset="1" stop-color="#fff" stop-opacity="0.244"/></linearGradient><linearGradient id="g2_33" gradientUnits="userSpaceOnUse" x1="0" y1="614" x2="0" y2="822"><stop offset="0" stop-color="#fff" stop-opacity="0.222"/><stop offset="0.51" stop-color="#fff" stop-opacity="0.278"/><stop offset="1" stop-color="#fff" stop-opacity="0.289"/></linearGradient><linearGradient id="g2_34" gradientUnits="userSpaceOnUse" x1="0" y1="752" x2="0" y2="822"><stop offset="0" stop-color="#fff" stop-opacity="0"/><stop offset="0.54" stop-color="#fff" stop-opacity="0.067"/><stop offset="1" stop-color="#fff" stop-opacity="0.067"/></linearGradient><linearGradient id="g2_35" gradientUnits="userSpaceOnUse" x1="0" y1="614" x2="0" y2="822"><stop offset="0" stop-color="#fff" stop-opacity="0.344"/><stop offset="0.51" stop-color="#fff" stop-opacity="0.311"/><stop offset="0.77" stop-color="#fff" stop-opacity="0.267"/><stop offset="1" stop-color="#fff" stop-opacity="0.256"/></linearGradient>
</defs>
<text class="b" x="582.4" y="9.6" xml:space="preserve">DIONISOS Wavelet Spectra on 10 June</text>
<text class="b" x="830.6" y="9.6">2012</text>
<text class="b" x="344.5" y="36" text-anchor="middle">Filtered Series (cutoff at 7.5 mHz)</text>
<text class="b" x="1138" y="36" text-anchor="middle">Pc4 Wavelet Power</text>
<text class="b" x="344" y="851" text-anchor="middle">UT (hours)</text>
<text class="b" x="1137.5" y="851" text-anchor="middle">UT (hours)</text>
<g clip-path="url(#cl0)">
<path d="M44.5 156.1V178.6M45 169.5V173.9M45.5 165.4V169.5M48.5 169.5V178.9M50 169.5V175.7M52 161.6V169.5M54 169.5V178.8M54.5 160.2V169.5M55.5 169.5V177.0M56.5 164.7V169.5M60.5 162.7V169.5M61 169.5V175.9M61.5 164.2V174.7M62 169.5V176.2M62.5 169.5V176.5M64 169.5V178.4M64.5 165.1V169.5M65 163.4V169.5M65.5 165.2V169.5M66 165.9V169.5M66.5 165.2V169.5M67.5 162.6V169.5M68 165.9V169.5M69 163.2V169.5M70.5 169.5V178.0M71 163.4V169.5M71.5 159.8V178.6M73 169.5V177.5M74 161.7V169.5M74.5 169.5V179.5M76.5 160.6V169.5M77 162.0V183.1M77.5 161.5V169.5M78.5 169.5V178.6M79 157.8V169.5M80 169.5V175.7M81.5 162.8V169.5M82.5 169.5V176.2M83 169.5V179.6M85 169.5V175.9M87.5 169.5V174.1M88 165.5V169.5M88.5 164.8V169.5M89.5 169.5V176.3M91.5 169.5V177.6M92 161.1V169.5M92.5 169.5V179.9M94.5 169.5V181.0M95 163.7V169.5M95.5 154.6V181.1M96.5 169.5V177.7M97 158.7V169.5M97.5 162.5V169.5M98.5 169.5V181.2M100.5 169.5V174.3M101.5 169.5V174.9M102 169.5V173.5M103 165.4V169.5M103.5 169.5V174.6M104 169.5V173.4M105 164.8V169.5M105.5 169.5V182.6M106 169.5V188.1M106.5 169.5V178.5M109 169.5V177.0M109.5 169.5V178.0M112 161.6V169.5M116.5 163.5V174.6M118.5 157.1V169.5M119 169.5V185.6M121.5 161.3V169.5M122 152.9V169.5M122.5 169.5V182.8M123 169.5V182.7M124 156.9V178.4M124.5 169.5V174.9M125 160.2V169.5M126 164.5V169.5M128 156.6V178.2M128.5 157.9V169.5M129.5 160.3V169.5M130 169.5V174.3M130.5 161.0V180.4M131 163.4V169.5M132 158.6V180.6M133 169.5V176.4M135 169.5V175.9M135.5 169.5V175.8M137.5 156.6V169.5M141 163.3V169.5M145 169.5V174.6M145.5 169.5V176.0M148 162.0V176.0M148.5 169.5V174.2M151 169.5V174.5M153 164.3V169.5M153.5 163.0V169.5M154 158.8V169.5M154.5 158.3V169.5M155.5 169.5V187.2M156.5 169.5V179.2M157 169.5V178.4M158 161.5V179.8M158.5 162.3V169.5M159 161.4V169.5M162 161.2V169.5M162.5 155.7V177.8M163 169.5V175.1M164 169.5V176.5M164.5 169.5V176.2M165 154.1V181.0M165.5 169.5V183.3M167 164.9V169.5M167.5 165.0V169.5M168 162.5V169.5M169 162.3V169.5M170 161.4V181.1M170.5 161.0V178.4M172.5 169.5V198.1M173 156.5V169.5M173.5 169.5V182.2M174 169.5V183.8M174.5 169.5V178.4M175 169.5V178.9M175.5 169.5V184.7M176.5 157.4V169.5M178.5 160.1V169.5M179 148.5V169.5M179.5 154.2V169.5M180 157.1V169.5M181 159.5V184.6M181.5 169.5V179.0M184 169.5V175.7M184.5 162.1V179.8M185 160.7V169.5M186 169.5V187.6M186.5 169.5V194.0M188 169.5V192.4M189 169.5V186.9M189.5 158.6V169.5M190 159.2V169.5M190.5 157.7V178.0M191.5 169.5V178.8M192 158.9V169.5M193 169.5V191.8M195 148.0V169.5M196 169.5V182.3M197 169.5V183.7M197.5 155.6V191.4M198 147.3V185.5M198.5 154.7V181.0M199.5 169.5V183.2M201 169.5V183.2M201.5 169.5V182.9M202.5 169.5V186.2M203 169.5V182.6M203.5 157.6V184.8M205 159.5V169.5M205.5 157.3V178.6M206 163.3V177.0M208 160.0V169.5M210.5 153.3V169.5M212.5 157.9V169.5M213.5 153.8V169.5M214 160.5V169.5M215 160.6V181.1M216.5 169.5V181.9M217 169.5V174.9M217.5 157.5V169.5M218.5 169.5V188.3M219 156.0V169.5M220 169.5V184.3M221 169.5V179.8M222.5 154.0V169.5M223 159.4V169.5M224 169.5V181.0M224.5 157.5V169.5M225 159.7V169.5M226 158.8V169.5M228 158.5V169.5M228.5 156.4V169.5M230 151.7V169.5M230.5 169.5V178.5M231 153.1V169.5M232 156.7V169.5M233 169.5V176.2M234.5 169.5V182.4M236.5 153.9V186.2M237.5 160.8V169.5M238 169.5V181.8M238.5 164.0V169.5M239 160.4V169.5M239.5 169.5V183.1M240.5 150.6V169.5M241 155.6V169.5M241.5 149.5V169.5M244.5 159.8V169.5M245 163.5V177.8M245.5 169.5V177.2M246.5 169.5V174.9M251 165.4V174.3M251.5 169.5V175.6M253.5 158.6V169.5M256.5 163.6V176.1M258.5 169.5V173.8M259.5 163.9V169.5M260 169.5V182.0M260.5 162.7V174.4M261 160.9V177.5M262.5 169.5V178.4M263 163.6V169.5M263.5 169.5V173.5M264.5 163.2V169.5M265 169.5V182.2M265.5 158.7V169.5M266.5 169.5V178.9M267.5 169.5V178.2M270.5 157.4V169.5M271 164.0V176.8M272 164.5V169.5M273 169.5V175.9M274 169.5V177.3M274.5 157.8V169.5M275.5 161.4V169.5M276.5 158.3V169.5M277 163.8V177.3M277.5 161.2V180.1M278.5 163.8V176.0M279 165.9V169.5M279.5 163.6V174.0M281.5 169.5V178.0M282.5 159.6V169.5M283 158.9V169.5M284.5 169.5V181.9M285.5 169.5V178.5M286 169.5V177.9M287 169.5V175.6M289 160.3V169.5M289.5 169.5V180.6M293 163.4V169.5M294 157.2V169.5M294.5 160.6V169.5M295 158.7V169.5M297 169.5V178.6M298 162.1V169.5M300 161.0V176.5M300.5 169.5V179.6M302.5 160.0V169.5M303 160.0V181.6M305 169.5V181.5M307 154.3V169.5M308 150.7V182.9M310.5 158.9V169.5M311.5 162.0V169.5M312 169.5V183.4M314 161.0V181.5M317 160.9V169.5M318 161.9V169.5M318.5 161.1V169.5M319 160.7V169.5M320 169.5V177.6M320.5 166.4V169.5M321 169.5V177.0M322 163.5V169.5M323 160.4V181.2M323.5 169.5V177.3M325 162.6V169.5M325.5 169.5V180.4M326 169.5V179.0M328 162.1V169.5M328.5 161.3V169.5M329 157.5V169.5M329.5 159.8V169.5M331 155.1V169.5M332.5 169.5V180.9M334 161.8V169.5M335 154.5V177.8M335.5 159.7V169.5M336 162.3V169.5M338 169.5V181.6M339.5 161.9V169.5M340 160.4V178.4M340.5 169.5V175.6M341 169.5V178.6M341.5 169.5V181.4M343 169.5V183.0M343.5 155.3V183.5M345 169.5V178.8M346 159.2V181.1M346.5 159.9V169.5M347 163.0V178.7M347.5 169.5V177.2M348 169.5V183.8M349.5 162.2V176.4M350 169.5V174.8M351.5 154.9V169.5M352.5 169.5V184.7M353 159.9V179.3M353.5 157.9V169.5M355 169.5V178.6M356 160.1V177.1M357 169.5V176.6M358 159.5V169.5M358.5 159.7V169.5M359 169.5V179.2M359.5 169.5V175.8M360 164.2V169.5M363 169.5V177.9M363.5 156.1V169.5M364 169.5V173.4M364.5 163.5V178.6M368 169.5V176.9M369.5 162.3V174.3M370.5 159.2V169.5M371 162.9V169.5M371.5 160.1V177.1M372 163.3V169.5M373.5 169.5V179.8M374 169.5V175.5M375 169.5V175.0M375.5 159.4V184.0M376.5 169.5V178.5M377 159.8V169.5M377.5 157.8V169.5M379 158.0V182.0M380 169.5V178.1M382 169.5V178.3M383 169.5V177.5M386.5 169.5V174.4M388.5 169.5V181.8M389 162.7V169.5M391 169.5V179.0M392 163.2V169.5M393 155.2V169.5M394 163.4V177.8M395.5 157.6V169.5M396 150.6V181.6M397 169.5V178.9M398.5 169.5V178.2M399 169.5V177.0M399.5 163.9V172.7M400.5 169.5V174.2M401 169.5V180.5M403 161.7V175.5M403.5 163.7V169.5M404 169.5V176.0M406 159.6V169.5M406.5 163.5V175.4M407.5 162.8V169.5M408 165.1V174.7M409.5 169.5V183.5M410 164.2V169.5M410.5 169.5V182.0M411.5 169.5V179.7M413 156.3V169.5M413.5 164.0V177.7M415 164.6V169.5M415.5 169.5V179.9M416 169.5V183.7M416.5 169.5V176.7M417 157.4V180.7M417.5 155.1V169.5M418 160.4V179.5M420 169.5V177.8M421 156.0V169.5M421.5 159.5V169.5M424 169.5V179.3M425 158.0V169.5M425.5 169.5V175.4M426 163.3V169.5M427 169.5V175.5M428.5 169.5V174.2M429 169.5V176.3M430.5 163.8V169.5M431 169.5V172.6M431.5 169.5V174.1M432 169.5V175.5M434 159.4V178.7M435 157.5V178.6M435.5 163.9V169.5M437 169.5V176.8M438 159.0V169.5M439 169.5V177.9M439.5 169.5V179.3M441.5 169.5V177.9M442.5 161.5V177.9M443 169.5V175.5M443.5 163.9V174.0M444 164.7V169.5M445.5 163.7V169.5M446 169.5V176.7M446.5 169.5V179.4M447.5 162.7V169.5M448.5 169.5V181.9M449 169.5V180.4M449.5 169.5V182.5M450.5 157.2V181.9M451.5 169.5V185.3M453.5 169.5V185.2M454.5 169.5V183.2M456 169.5V180.4M456.5 157.2V169.5M457 158.1V169.5M457.5 150.6V169.5M458 157.8V169.5M458.5 154.6V186.7M459 157.0V182.5M459.5 154.7V169.5M460.5 155.1V180.3M461.5 153.6V188.4M462 169.5V180.7M462.5 169.5V183.9M463 153.1V169.5M463.5 161.2V179.4M465 159.8V179.1M467 169.5V180.4M467.5 160.6V169.5M468.5 169.5V178.2M469 169.5V187.8M469.5 152.7V169.5M470 157.8V180.0M471.5 155.3V169.5M472 163.6V177.7M472.5 169.5V179.2M473.5 163.4V169.5M474 153.7V190.4M475 158.7V180.5M476 162.8V169.5M478.5 169.5V182.9M481 159.8V169.5M481.5 169.5V176.7M482 169.5V177.0M484.5 165.5V169.5M485 169.5V174.1M486 163.5V169.5M487.5 162.5V176.5M489 169.5V173.7M490.5 163.6V169.5M491 161.4V169.5M492 169.5V174.4M494 169.5V188.4M494.5 162.0V169.5M496 169.5V185.5M496.5 161.8V169.5M497 157.0V169.5M498.5 169.5V181.1M499 160.4V169.5M499.5 169.5V175.8M500 155.1V169.5M501 157.3V169.5M501.5 169.5V183.9M502 157.6V169.5M502.5 148.1V182.3M503.5 161.3V180.3M504 169.5V181.3M504.5 169.5V183.8M506 159.3V169.5M506.5 161.8V169.5M507 159.8V179.4M508.5 161.1V178.6M509.5 169.5V178.2M513 169.5V185.8M515.5 169.5V183.5M516 158.6V169.5M517.5 159.0V181.5M518.5 160.4V177.8M519 156.5V169.5M519.5 169.5V176.1M520.5 152.5V169.5M521 161.8V177.3M521.5 159.6V169.5M522 169.5V182.9M523 160.7V178.1M523.5 163.3V177.9M524 159.6V169.5M525.5 169.5V179.0M526 163.2V169.5M526.5 161.3V169.5M528.5 163.6V176.3M529 163.3V169.5M529.5 165.0V169.5M530.5 169.5V176.9M531.5 169.5V173.7M532.5 169.5V175.3M533 161.9V169.5M534 169.5V175.4M535.5 169.5V177.0M538.5 155.0V183.8M539 162.1V179.0M539.5 169.5V182.4M541 169.5V181.3M543.5 158.1V169.5M544 153.3V169.5M544.5 169.5V185.1M545 169.5V181.8M547 162.9V169.5M547.5 169.5V183.3M548 169.5V179.7M549.5 153.0V198.5M551 153.8V169.5M552 169.5V179.1M552.5 169.5V186.7M553.5 156.5V169.5M554.5 153.2V169.5M555 169.5V192.1M555.5 156.2V169.5M558 161.5V169.5M559 155.7V169.5M560.5 169.5V186.0M561 155.8V169.5M561.5 169.5V203.5M562 169.5V229.6M562.5 169.5V183.4M563.5 169.5V198.3M565.5 134.7V215.7M567.5 169.5V191.9M569 138.0V192.1M569.5 120.8V204.0M570.5 169.5V195.3M573 156.5V183.3M573.5 169.5V186.1M574 155.7V169.5M575 169.5V195.5M575.5 156.4V169.5M576 151.6V169.5M577.5 169.5V195.0M578 150.3V169.5M579.5 169.5V179.8M581 154.0V169.5M581.5 157.0V169.5M582.5 169.5V180.6M583 169.5V184.4M583.5 157.7V169.5M584.5 123.5V169.5M586.5 144.9V195.8M587 123.9V208.0M588.5 128.2V169.5M589.5 169.5V196.5M590 147.6V169.5M591.5 130.0V169.5M592 169.5V207.0M592.5 169.5V201.4M598 148.1V169.5M600 169.5V194.6M601.5 169.5V180.3M602.5 169.5V183.7M603.5 169.5V182.3M604 169.5V180.1M604.5 154.4V169.5M605 169.5V182.9M607 169.5V177.1M607.5 152.3V169.5M609 156.0V169.5M609.5 154.8V169.5M610 159.7V169.5M610.5 148.5V182.6M613 162.0V169.5M613.5 169.5V177.6M614 169.5V182.7M616.5 169.5V176.4M617.5 162.6V169.5M619 161.3V178.5M620.5 165.2V169.5M621 169.5V176.2M622 163.7V169.5M622.5 169.5V176.6M623 159.6V176.7M623.5 164.3V169.5M625 169.5V183.6M626 163.3V179.3M626.5 163.3V169.5M627.5 169.5V177.2M629 162.0V169.5M631 160.0V169.5M631.5 169.5V175.2M633 154.8V175.8M633.5 163.2V169.5M634.5 169.5V177.8M636 162.0V169.5M637 163.7V169.5M637.5 164.9V169.5M638 169.5V175.8M638.5 169.5V175.8M639 161.4V169.5M639.5 165.9V169.5M641 169.5V176.8M642 169.5V176.1M642.5 164.2V169.5M644 169.5V179.9M644.5 160.2V169.5M645 161.8V181.7" fill="none" stroke="#0000ff" stroke-width="0.6" stroke-opacity="0.5"/>
<path d="M43.5 165.8V173.2M44 164.8V175.2M44.5 162.4V177.1M45 166.7V172.6M45.5 165.9V172.7M46 166.1V172.7M46.5 165.9V172.5M47 166.0V173.2M47.5 165.8V172.4M48 166.4V173.1M48.5 163.8V174.3M49 162.7V173.9M49.5 164.6V173.6M50 165.0V173.4M50.5 164.0V174.3M51 162.9V177.5M51.5 166.2V173.0M52 164.9V173.4M52.5 165.5V174.7M53 164.7V173.8M53.5 162.5V176.8M54 164.4V176.6M54.5 164.8V174.4M55 164.3V174.6M55.5 165.7V173.8M56 166.5V172.7M56.5 166.0V173.4M57 161.9V175.7M57.5 164.3V173.3M58 164.2V174.9M58.5 164.4V173.6M59 166.5V173.2M59.5 165.8V172.5M60 167.0V173.1M60.5 164.9V173.5M61 166.5V173.8M61.5 166.3V172.0M62 166.6V173.4M62.5 166.6V174.3M63 164.4V173.3M63.5 163.4V175.6M64 165.7V173.8M64.5 166.0V172.5M65 165.5V173.3M65.5 166.3V172.3M66 167.1V171.7M66.5 167.7V171.7M67 166.1V173.7M67.5 164.7V174.8M68 167.6V172.3M68.5 167.2V171.8M69 166.7V172.5M69.5 166.3V171.8M70 164.4V174.5M70.5 164.5V175.9M71 165.4V173.5M71.5 163.5V174.6M72 163.0V176.2M72.5 165.3V174.2M73 164.3V175.2M73.5 165.9V172.4M74 165.4V174.3M74.5 165.3V173.4M75 163.6V176.4M75.5 162.6V176.3M76 166.1V173.2M76.5 165.6V175.5M77 162.6V175.0M77.5 164.4V175.3M78 163.9V176.1M78.5 165.3V173.4M79 163.8V177.7M79.5 164.4V173.9M80 165.4V173.1M80.5 163.9V173.5M81 167.0V173.6M81.5 165.7V173.4M82 165.4V173.4M82.5 164.5V175.3M83 165.8V172.8M83.5 166.3V172.4M84 166.0V172.3M84.5 167.0V171.6M85 165.1V173.7M85.5 166.3V172.5M86 163.8V173.7M86.5 163.1V175.5M87 162.5V174.4M87.5 166.0V173.1M88 166.6V172.3M88.5 165.7V172.9M89 163.9V173.9M89.5 166.4V173.4M90 165.3V172.0M90.5 163.5V176.3M91 163.4V175.1M91.5 163.5V175.9M92 166.2V173.2M92.5 164.0V176.1M93 166.5V173.6M93.5 165.4V174.5M94 163.6V176.3M94.5 161.9V175.5M95 165.1V173.3M95.5 163.5V176.3M96 162.4V176.8M96.5 163.6V174.6M97 165.0V176.0M97.5 164.3V174.7M98 164.2V175.5M98.5 163.4V175.0M99 164.9V174.1M99.5 166.1V172.9M100 165.6V173.1M100.5 166.9V172.6M101 164.0V175.6M101.5 165.6V172.8M102 166.2V172.7M102.5 167.4V171.8M103 166.4V172.4M103.5 166.7V172.1M104 166.4V172.9M104.5 161.2V177.2M105 166.5V173.1M105.5 162.5V176.0M106 160.3V179.8M106.5 164.3V175.0M107 164.5V174.5M107.5 164.6V174.4M108 165.8V173.1M108.5 165.5V173.8M109 165.0V174.0M109.5 166.2V172.9M110 160.2V175.9M110.5 162.1V176.6M111 161.7V175.7M111.5 160.5V177.4M112 163.7V172.6M112.5 165.0V172.9M113 163.6V175.9M113.5 163.3V174.4M114 164.6V173.6M114.5 165.0V173.9M115 163.6V174.1M115.5 165.1V174.9M116 165.1V173.2M116.5 165.9V173.3M117 164.1V174.5M117.5 163.8V175.0M118 166.1V173.3M118.5 161.9V175.8M119 161.7V177.4M119.5 164.8V174.5M120 164.5V173.0M120.5 165.1V173.2M121 163.3V175.2M121.5 163.2V174.4M122 159.0V181.1M122.5 162.9V175.2M123 162.8V175.2M123.5 165.6V175.0M124 163.5V175.8M124.5 166.4V174.0M125 165.6V173.7M125.5 166.6V172.8M126 166.3V173.3M126.5 166.5V172.5M127 158.2V180.2M127.5 164.4V174.5M128 164.8V175.4M128.5 163.7V173.9M129 162.4V176.5M129.5 163.5V175.2M130 165.6V172.2M130.5 164.4V175.4M131 164.9V173.9M131.5 164.8V173.5M132 161.7V176.8M132.5 162.0V175.1M133 165.6V173.5M133.5 164.5V174.4M134 164.4V175.2M134.5 164.6V173.4M135 164.7V174.6M135.5 166.6V172.0M136 165.5V173.4M136.5 166.4V172.2M137 166.5V173.3M137.5 164.3V174.5M138 163.3V173.4M138.5 166.1V174.2M139 164.7V173.7M139.5 163.1V175.6M140 167.7V172.3M140.5 162.4V173.1M141 164.5V174.7M141.5 164.3V173.7M142 163.3V176.4M142.5 163.9V174.6M143 164.1V173.9M143.5 162.1V177.5M144 164.1V174.6M144.5 164.3V174.0M145 165.7V172.8M145.5 165.7V173.9M146 163.4V175.0M146.5 164.1V174.8M147 163.3V174.8M147.5 162.9V176.5M148 165.1V173.4M148.5 166.4V171.7M149 164.2V173.0M149.5 166.8V172.1M150 167.8V171.3M150.5 166.6V172.2M151 165.7V172.8M151.5 165.9V171.6M152 166.4V172.6M152.5 165.5V172.8M153 166.5V173.4M153.5 164.8V172.9M154 163.9V173.6M154.5 161.1V177.4M155 157.7V183.6M155.5 162.8V177.9M156 163.0V179.4M156.5 165.2V174.2M157 164.3V175.1M157.5 164.1V174.7M158 163.1V174.2M158.5 165.4V173.6M159 163.4V175.8M159.5 163.2V177.1M160 163.6V175.5M160.5 161.2V181.2M161 166.5V174.8M161.5 162.2V175.7M162 163.4V175.2M162.5 165.0V175.3M163 165.7V174.3M163.5 163.7V174.5M164 164.5V175.4M164.5 165.0V175.0M165 159.1V176.0M165.5 159.1V178.4M166 163.8V178.1M166.5 166.4V173.4M167 166.4V172.5M167.5 166.7V172.0M168 164.2V175.2M168.5 164.4V174.5M169 164.8V174.2M169.5 165.1V172.4M170 164.2V173.7M170.5 164.3V175.3M171 162.5V176.1M171.5 162.7V175.7M172 160.9V178.5M172.5 159.1V180.5M173 161.2V177.1M173.5 160.0V180.8M174 160.3V178.5M174.5 161.6V174.6M175 161.9V176.2M175.5 161.9V178.3M176 161.8V182.2M176.5 163.6V176.7M177 163.0V175.5M177.5 162.8V176.2M178 160.5V175.7M178.5 161.1V176.2M179 156.2V180.5M179.5 162.8V178.1M180 159.4V179.2M180.5 157.1V181.7M181 162.1V177.6M181.5 162.6V176.6M182 161.3V178.2M182.5 162.3V175.8M183 162.1V175.3M183.5 162.8V176.2M184 164.8V174.6M184.5 163.5V174.6M185 163.0V174.3M185.5 161.4V178.2M186 159.2V180.1M186.5 157.7V181.3M187 162.7V180.8M187.5 159.8V178.3M188 159.9V176.0M188.5 159.9V177.7M189 159.6V181.0M189.5 163.3V177.8M190 162.7V176.0M190.5 163.5V175.0M191 162.0V177.3M191.5 162.1V175.6M192 162.6V175.8M192.5 163.9V177.0M193 154.9V186.6M193.5 159.9V178.4M194 159.3V179.7M194.5 164.1V174.7M195 159.9V177.9M195.5 161.7V174.5M196 161.9V178.2M196.5 164.2V175.1M197 165.5V174.4M197.5 155.2V179.0M198 159.7V177.9M198.5 161.5V174.4M199 160.3V179.7M199.5 162.8V177.0M200 161.2V178.3M200.5 161.9V174.8M201 161.6V177.4M201.5 164.4V175.4M202 157.8V181.2M202.5 162.1V175.5M203 161.0V181.0M203.5 162.9V177.7M204 160.4V178.0M204.5 163.2V176.4M205 163.1V177.5M205.5 162.2V175.7M206 165.8V173.6M206.5 162.6V175.1M207 165.3V173.5M207.5 162.3V174.3M208 165.9V173.5M208.5 163.1V174.8M209 164.7V173.6M209.5 164.7V174.1M210 164.0V175.0M210.5 163.9V174.6M211 161.9V176.2M211.5 162.8V174.7M212 161.8V175.7M212.5 164.3V174.9M213 163.6V174.1M213.5 161.1V174.0M214 163.7V177.6M214.5 163.6V177.3M215 164.4V175.8M215.5 166.1V172.9M216 163.7V176.3M216.5 161.3V174.7M217 166.4V174.5M217.5 164.0V175.1M218 162.7V177.5M218.5 160.7V180.3M219 161.6V178.8M219.5 161.4V179.6M220 160.5V179.5M220.5 162.1V179.3M221 165.3V175.7M221.5 163.6V173.8M222 161.8V176.9M222.5 162.9V177.3M223 162.1V175.6M223.5 163.9V174.5M224 162.6V173.5M224.5 164.6V173.8M225 163.8V176.3M225.5 158.7V177.0M226 162.9V176.7M226.5 161.7V177.2M227 163.5V175.4M227.5 161.1V178.2M228 162.8V177.5M228.5 164.2V174.9M229 166.0V172.7M229.5 163.1V175.3M230 162.3V176.6M230.5 164.7V175.0M231 161.4V179.5M231.5 162.8V177.2M232 162.9V176.7M232.5 159.9V176.6M233 165.4V173.3M233.5 164.6V174.8M234 161.0V176.0M234.5 161.6V179.8M235 163.7V174.6M235.5 164.5V174.0M236 159.8V179.5M236.5 160.7V177.8M237 161.3V178.0M237.5 164.5V173.6M238 162.1V176.2M238.5 165.5V174.6M239 162.2V174.4M239.5 159.0V179.7M240 161.5V177.9M240.5 159.8V176.7M241 160.9V176.5M241.5 161.9V178.2M242 160.4V176.9M242.5 156.3V179.2M243 163.2V176.1M243.5 165.5V173.7M244 164.4V175.5M244.5 163.4V178.4M245 164.6V174.9M245.5 164.2V174.1M246 165.9V172.6M246.5 165.5V173.2M247 165.1V173.6M247.5 165.7V173.0M248 166.6V173.9M248.5 165.6V175.7M249 161.1V177.8M249.5 162.7V175.5M250 165.4V174.0M250.5 166.2V172.5M251 166.1V173.0M251.5 165.7V173.9M252 166.3V173.4M252.5 165.7V173.5M253 166.0V172.1M253.5 161.3V178.4M254 164.4V176.6M254.5 163.6V174.5M255 165.3V173.1M255.5 163.2V175.7M256 167.2V172.2M256.5 165.3V174.2M257 163.6V174.5M257.5 164.6V173.8M258 164.6V175.1M258.5 166.1V172.0M259 165.8V174.2M259.5 165.9V173.3M260 163.6V177.2M260.5 166.0V172.7M261 164.6V175.2M261.5 166.0V173.3M262 165.8V173.4M262.5 163.8V174.4M263 165.8V172.7M263.5 166.3V172.9M264 164.3V173.6M264.5 165.0V173.1M265 166.2V175.5M265.5 162.7V174.6M266 165.2V174.4M266.5 162.8V175.3M267 165.8V172.6M267.5 163.7V176.1M268 164.4V174.3M268.5 165.9V173.0M269 163.0V175.1M269.5 166.5V173.2M270 164.2V176.4M270.5 162.1V177.0M271 166.5V173.3M271.5 165.2V173.4M272 165.8V173.3M272.5 166.6V172.4M273 165.7V173.8M273.5 164.5V175.1M274 164.5V175.2M274.5 163.3V176.9M275 163.8V173.8M275.5 164.3V174.4M276 164.5V176.2M276.5 164.2V175.1M277 165.7V174.3M277.5 165.8V174.5M278 165.6V173.1M278.5 165.0V174.5M279 167.3V172.6M279.5 165.9V172.2M280 163.4V176.1M280.5 165.9V174.7M281 165.9V174.2M281.5 164.8V173.8M282 161.8V178.7M282.5 164.0V175.1M283 164.1V175.3M283.5 164.9V174.0M284 162.9V178.0M284.5 161.0V178.0M285 164.9V175.8M285.5 163.5V174.1M286 163.9V175.0M286.5 163.1V174.4M287 164.4V173.4M287.5 164.3V174.0M288 164.6V174.0M288.5 166.4V174.9M289 164.3V174.2M289.5 164.7V173.2M290 165.6V173.4M290.5 164.3V173.2M291 160.9V180.4M291.5 163.0V176.0M292 164.0V177.8M292.5 164.2V174.7M293 164.8V173.1M293.5 162.4V175.8M294 162.7V175.2M294.5 163.8V175.2M295 163.1V174.9M295.5 161.8V179.1M296 163.6V174.2M296.5 165.0V174.1M297 162.9V172.9M297.5 164.7V175.0M298 166.2V173.3M298.5 165.1V173.5M299 165.1V173.3M299.5 166.8V172.2M300 165.9V174.6M300.5 165.6V173.4M301 163.4V175.5M301.5 165.4V173.1M302 163.5V174.9M302.5 165.0V173.6M303 163.9V176.2M303.5 162.8V174.6M304 165.1V173.5M304.5 162.6V174.6M305 165.2V174.2M305.5 162.2V176.7M306 164.1V175.4M306.5 165.8V174.5M307 161.3V176.3M307.5 164.3V174.6M308 162.1V176.9M308.5 164.1V174.4M309 164.0V173.3M309.5 161.8V175.8M310 162.9V175.5M310.5 163.4V174.7M311 164.7V174.3M311.5 163.9V174.6M312 163.0V177.8M312.5 163.0V174.4M313 161.5V176.3M313.5 164.7V175.8M314 161.8V176.1M314.5 164.8V174.4M315 163.1V174.7M315.5 163.2V173.0M316 166.7V172.6M316.5 166.0V173.1M317 164.9V173.2M317.5 165.3V172.5M318 165.1V174.3M318.5 165.2V174.7M319 163.5V174.2M319.5 166.4V172.7M320 166.6V172.7M320.5 167.0V171.9M321 165.0V173.1M321.5 165.0V174.9M322 166.6V173.4M322.5 165.6V173.0M323 162.3V174.8M323.5 166.2V174.2M324 162.7V176.2M324.5 162.0V174.9M325 166.0V173.1M325.5 163.1V176.5M326 163.7V176.2M326.5 159.6V177.1M327 162.8V175.4M327.5 164.5V173.2M328 164.1V175.5M328.5 164.4V174.0M329 162.3V177.5M329.5 162.6V175.8M330 161.7V177.0M330.5 164.8V174.5M331 164.2V175.3M331.5 162.9V176.6M332 164.4V174.8M332.5 161.4V177.4M333 165.1V175.2M333.5 163.2V178.8M334 165.3V175.2M334.5 164.5V175.6M335 163.6V175.0M335.5 163.6V174.6M336 164.2V176.8M336.5 160.6V176.5M337 165.1V178.1M337.5 164.6V175.3M338 160.3V178.1M338.5 165.2V173.4M339 163.7V176.2M339.5 164.6V174.6M340 164.8V174.1M340.5 166.3V173.8M341 162.6V175.0M341.5 158.7V179.0M342 161.5V178.0M342.5 164.5V176.1M343 163.7V175.5M343.5 162.6V176.5M344 162.2V176.7M344.5 163.0V178.3M345 160.1V176.4M345.5 162.9V177.0M346 164.1V174.8M346.5 164.8V174.8M347 164.6V174.2M347.5 164.1V175.2M348 163.1V176.6M348.5 164.9V173.4M349 166.5V172.3M349.5 165.9V173.6M350 166.2V172.2M350.5 164.1V174.5M351 164.6V172.7M351.5 162.2V176.7M352 163.0V175.9M352.5 161.7V179.1M353 163.5V174.3M353.5 161.0V176.4M354 162.7V176.6M354.5 165.3V174.2M355 165.1V173.6M355.5 165.1V174.6M356 164.7V173.6M356.5 163.8V175.6M357 165.9V172.8M357.5 163.6V176.0M358 163.4V173.6M358.5 164.6V174.4M359 162.5V177.3M359.5 163.7V173.6M360 166.3V174.4M360.5 166.9V172.1M361 167.0V171.4M361.5 165.2V172.4M362 163.7V175.1M362.5 164.6V174.4M363 165.1V173.8M363.5 162.3V177.2M364 166.6V172.1M364.5 165.0V174.0M365 162.8V174.9M365.5 165.3V173.5M366 163.0V175.1M366.5 166.0V174.0M367 165.2V173.1M367.5 167.2V173.2M368 163.2V174.9M368.5 164.9V174.2M369 165.0V173.9M369.5 166.7V173.7M370 165.1V174.5M370.5 163.7V175.4M371 165.6V173.2M371.5 163.3V175.1M372 164.6V174.1M372.5 161.8V175.2M373 166.0V172.9M373.5 164.8V173.9M374 166.3V172.5M374.5 166.1V172.7M375 166.0V172.6M375.5 162.0V176.0M376 163.7V175.5M376.5 165.2V175.5M377 165.8V174.5M377.5 163.6V174.3M378 162.3V174.8M378.5 162.9V175.7M379 163.6V175.6M379.5 163.7V175.3M380 164.9V173.9M380.5 164.8V174.3M381 166.2V173.9M381.5 165.2V173.7M382 166.3V174.2M382.5 163.6V174.6M383 162.9V174.3M383.5 164.7V174.9M384 165.0V174.2M384.5 166.7V172.7M385 165.0V173.8M385.5 165.9V172.8M386 164.2V173.9M386.5 165.6V174.3M387 166.1V173.7M387.5 165.0V175.2M388 166.2V173.3M388.5 165.1V174.7M389 165.6V173.7M389.5 163.8V173.3M390 164.5V175.0M390.5 163.0V176.4M391 163.6V175.9M391.5 163.0V174.7M392 164.9V173.7M392.5 165.2V173.0M393 163.1V177.2M393.5 166.9V172.1M394 165.7V174.1M394.5 164.3V175.4M395 161.0V176.8M395.5 163.2V176.1M396 160.9V178.3M396.5 165.8V173.7M397 162.4V177.3M397.5 162.9V174.4M398 164.0V174.5M398.5 161.8V177.0M399 164.7V175.3M399.5 167.2V171.7M400 165.5V173.3M400.5 166.0V173.5M401 165.4V175.0M401.5 165.0V173.3M402 166.3V174.0M402.5 166.1V172.5M403 165.8V174.0M403.5 166.8V173.0M404 166.6V172.4M404.5 166.4V172.9M405 165.6V172.6M405.5 165.0V173.8M406 166.0V173.7M406.5 164.1V173.3M407 165.1V175.4M407.5 164.5V174.2M408 165.5V173.1M408.5 163.6V174.6M409 162.3V174.4M409.5 163.8V176.9M410 166.2V173.1M410.5 162.4V177.6M411 164.1V174.6M411.5 163.4V175.9M412 164.7V174.1M412.5 161.8V177.8M413 163.6V176.0M413.5 167.0V173.3M414 166.8V173.6M414.5 166.7V172.8M415 166.0V172.7M415.5 163.9V174.8M416 163.7V175.4M416.5 164.9V173.7M417 159.3V178.1M417.5 163.2V177.0M418 166.2V173.6M418.5 167.1V174.6M419 163.9V174.1M419.5 166.3V172.6M420 162.5V175.4M420.5 164.4V175.1M421 164.0V175.9M421.5 163.5V175.9M422 163.4V175.2M422.5 162.3V177.2M423 164.7V173.9M423.5 164.1V175.9M424 162.4V176.3M424.5 163.2V175.5M425 163.5V175.0M425.5 164.8V173.5M426 165.9V173.2M426.5 166.8V172.8M427 165.8V172.4M427.5 166.4V173.3M428 166.5V173.6M428.5 166.8V172.4M429 166.9V171.6M429.5 167.0V173.6M430 167.2V171.3M430.5 164.2V172.2M431 167.4V170.8M431.5 167.4V172.3M432 167.0V172.9M432.5 164.3V172.7M433 166.1V172.4M433.5 165.4V173.6M434 162.9V176.1M434.5 163.5V174.8M435 165.9V174.0M435.5 166.4V173.4M436 165.0V173.4M436.5 165.9V172.9M437 164.5V174.9M437.5 163.6V175.1M438 163.0V175.2M438.5 164.5V174.7M439 163.9V175.4M439.5 166.0V174.0M440 164.5V173.7M440.5 165.4V173.6M441 164.9V174.2M441.5 162.8V174.2M442 162.9V175.7M442.5 163.3V174.4M443 165.7V173.4M443.5 166.0V172.6M444 165.7V173.1M444.5 164.4V173.6M445 165.0V175.4M445.5 164.5V174.5M446 165.3V173.0M446.5 163.0V174.3M447 165.9V172.9M447.5 165.3V173.3M448 165.4V175.3M448.5 161.4V176.5M449 162.4V173.8M449.5 163.0V175.2M450 162.5V178.2M450.5 162.1V176.6M451 155.1V179.7M451.5 156.5V178.5M452 158.4V177.8M452.5 162.6V176.0M453 160.4V176.3M453.5 155.1V178.0M454 162.3V178.3M454.5 162.3V179.4M455 161.3V176.7M455.5 155.7V181.8M456 161.5V176.7M456.5 161.0V178.2M457 161.3V175.6M457.5 157.4V179.8M458 162.0V176.4M458.5 159.7V178.0M459 160.8V178.1M459.5 159.2V178.4M460 162.2V178.0M460.5 162.0V176.3M461 162.8V178.0M461.5 159.4V180.9M462 163.0V176.1M462.5 159.2V178.8M463 159.4V182.4M463.5 163.4V177.6M464 164.2V177.0M464.5 164.3V174.2M465 162.9V177.1M465.5 162.6V176.9M466 162.6V176.6M466.5 161.9V176.8M467 162.9V175.4M467.5 163.8V176.8M468 162.7V175.7M468.5 164.0V177.2M469 162.1V177.7M469.5 157.3V181.0M470 160.6V176.3M470.5 156.0V183.6M471 157.8V183.7M471.5 162.1V176.4M472 165.3V174.7M472.5 163.6V174.6M473 161.4V179.1M473.5 164.7V174.4M474 157.9V178.0M474.5 164.5V174.6M475 162.3V176.8M475.5 163.6V174.0M476 164.5V173.2M476.5 162.5V175.5M477 165.6V174.1M477.5 163.5V174.7M478 164.7V174.8M478.5 161.6V179.0M479 162.9V176.0M479.5 155.1V181.6M480 156.0V180.0M480.5 162.4V175.3M481 165.1V173.3M481.5 164.4V175.7M482 164.4V174.9M482.5 163.6V174.5M483 164.6V175.2M483.5 163.9V174.4M484 165.4V173.1M484.5 166.8V173.1M485 166.2V172.8M485.5 165.8V173.5M486 165.8V172.1M486.5 161.9V176.0M487 166.5V172.7M487.5 165.4V174.2M488 165.5V173.1M488.5 166.7V172.1M489 167.0V172.1M489.5 166.2V173.2M490 162.6V172.8M490.5 165.4V172.5M491 164.1V174.4M491.5 166.6V172.1M492 165.7V173.2M492.5 165.6V172.9M493 159.7V177.1M493.5 163.9V176.9M494 161.0V176.6M494.5 164.1V175.1M495 162.5V177.4M495.5 163.5V175.4M496 160.3V176.5M496.5 165.5V173.9M497 162.5V174.6M497.5 165.1V174.4M498 164.0V173.7M498.5 163.2V175.8M499 162.8V175.6M499.5 165.4V173.4M500 161.8V177.0M500.5 162.6V177.0M501 162.3V176.6M501.5 159.4V181.0M502 159.8V177.6M502.5 161.3V180.2M503 158.6V178.6M503.5 163.0V175.6M504 164.4V174.3M504.5 162.7V178.2M505 159.4V182.3M505.5 161.6V177.3M506 163.2V175.2M506.5 164.4V177.8M507 163.4V174.8M507.5 161.3V178.9M508 164.3V176.1M508.5 163.2V177.3M509 162.4V175.1M509.5 163.0V174.9M510 163.9V175.3M510.5 162.3V174.9M511 163.7V174.3M511.5 162.4V177.0M512 164.7V173.1M512.5 164.0V174.0M513 161.4V175.4M513.5 163.1V176.2M514 164.1V176.5M514.5 159.5V180.7M515 156.2V180.9M515.5 159.5V177.6M516 164.1V177.8M516.5 158.6V182.9M517 161.8V176.6M517.5 164.6V175.7M518 163.3V175.9M518.5 163.1V174.0M519 163.7V175.8M519.5 165.4V175.5M520 164.4V175.4M520.5 161.5V175.5M521 164.7V173.6M521.5 162.3V178.8M522 161.0V177.0M522.5 164.9V175.6M523 162.8V174.6M523.5 165.4V174.4M524 162.4V177.9M524.5 159.2V178.8M525 162.2V178.3M525.5 164.1V177.0M526 164.9V173.2M526.5 163.2V174.6M527 165.9V172.7M527.5 164.6V174.0M528 164.9V174.1M528.5 166.2V173.7M529 165.2V174.0M529.5 166.6V172.0M530 165.9V174.1M530.5 165.1V175.2M531 167.0V172.3M531.5 166.7V172.5M532 166.9V173.2M532.5 164.5V173.6M533 162.7V174.7M533.5 166.2V172.2M534 165.4V174.1M534.5 166.0V172.4M535 162.6V176.3M535.5 164.7V173.7M536 163.5V175.8M536.5 163.8V174.0M537 159.9V176.8M537.5 162.7V175.6M538 163.1V175.1M538.5 161.3V178.0M539 165.3V175.4M539.5 165.0V174.5M540 160.1V180.9M540.5 163.5V175.4M541 162.5V176.8M541.5 163.5V173.8M542 164.3V175.8M542.5 162.2V182.6M543 160.5V177.1M543.5 160.5V178.4M544 162.8V177.4M544.5 163.1V175.2M545 162.8V176.9M545.5 163.4V174.9M546 164.5V173.5M546.5 163.4V176.5M547 164.9V174.4M547.5 161.9V176.6M548 163.5V176.7M548.5 162.9V178.4M549 163.6V175.4M549.5 157.7V181.5M550 157.5V178.4M550.5 162.1V173.7M551 160.7V180.2M551.5 164.3V175.2M552 165.2V174.6M552.5 162.4V176.9M553 157.7V180.8M553.5 161.7V178.6M554 161.0V179.4M554.5 161.6V176.9M555 158.2V177.4M555.5 162.1V177.1M556 160.7V175.4M556.5 161.2V176.9M557 160.9V176.4M557.5 162.1V177.9M558 162.5V175.2M558.5 158.1V179.4M559 163.1V175.3M559.5 158.9V179.4M560 163.1V176.8M560.5 162.1V177.0M561 162.4V180.2M561.5 153.0V184.2M562 150.7V194.7M562.5 160.3V183.5M563 154.4V185.7M563.5 147.8V190.3M564 149.5V186.0M564.5 148.5V187.7M565 146.7V188.9M565.5 154.8V188.7M566 154.6V181.8M566.5 149.8V190.8M567 151.3V183.3M567.5 154.3V184.1M568 154.6V181.1M568.5 156.5V182.2M569 154.8V183.1M569.5 142.6V186.5M570 155.8V185.0M570.5 156.0V183.2M571 161.2V179.3M571.5 163.7V176.6M572 160.3V178.2M572.5 162.6V177.1M573 161.4V176.8M573.5 157.3V184.9M574 159.0V181.3M574.5 162.8V179.2M575 158.3V182.0M575.5 160.2V177.3M576 157.2V182.6M576.5 160.8V177.9M577 158.2V177.3M577.5 160.7V180.9M578 160.1V188.1M578.5 158.9V180.0M579 159.7V179.9M579.5 161.9V176.8M580 159.1V178.8M580.5 163.3V177.6M581 162.2V177.3M581.5 163.8V174.9M582 157.4V177.2M582.5 162.1V177.1M583 160.0V178.3M583.5 161.7V176.5M584 160.6V179.0M584.5 151.3V191.4M585 149.8V189.2M585.5 156.4V185.6M586 144.1V192.7M586.5 157.3V185.1M587 145.7V193.6M587.5 146.0V188.4M588 138.2V193.0M588.5 136.3V201.0M589 151.6V183.8M589.5 149.3V187.5M590 154.0V186.7M590.5 149.8V194.1M591 149.2V191.2M591.5 146.8V196.2M592 147.0V188.3M592.5 148.6V186.8M593 149.4V184.5M593.5 155.8V182.8M594 149.6V188.2M594.5 153.5V184.1M595 152.3V187.9M595.5 151.7V181.9M596 155.3V177.7M596.5 156.4V184.2M597 152.6V182.7M597.5 153.4V181.7M598 155.8V180.4M598.5 162.8V177.3M599 159.3V181.1M599.5 162.5V175.5M600 156.3V180.8M600.5 162.5V175.7M601 162.7V176.1M601.5 164.7V176.7M602 163.6V174.1M602.5 160.5V178.2M603 163.3V175.0M603.5 162.9V178.4M604 160.1V175.1M604.5 162.1V178.0M605 161.4V177.5M605.5 163.1V178.1M606 162.2V175.7M606.5 164.4V175.2M607 163.6V175.5M607.5 161.3V179.8M608 153.9V179.3M608.5 155.3V187.5M609 158.3V177.7M609.5 159.8V179.6M610 162.9V175.7M610.5 160.1V178.9M611 159.4V179.9M611.5 165.6V174.2M612 160.7V174.6M612.5 156.7V183.4M613 164.7V173.9M613.5 162.8V173.8M614 165.4V174.9M614.5 164.4V175.2M615 164.9V173.8M615.5 164.6V174.5M616 163.5V176.5M616.5 165.0V175.8M617 161.7V180.0M617.5 165.0V174.2M618 163.7V175.0M618.5 161.5V175.2M619 163.5V176.1M619.5 163.9V174.4M620 166.6V173.4M620.5 166.6V172.2M621 166.0V174.2M621.5 166.8V172.1M622 165.4V172.9M622.5 165.3V173.4M623 165.7V174.3M623.5 165.4V174.1M624 162.7V174.6M624.5 165.2V174.9M625 162.5V176.6M625.5 165.5V173.5M626 166.6V174.6M626.5 165.8V173.5M627 164.1V174.3M627.5 166.3V173.7M628 163.3V175.0M628.5 164.6V173.6M629 164.8V174.5M629.5 162.7V179.7M630 162.2V175.1M630.5 163.4V174.3M631 163.8V175.3M631.5 166.4V173.1M632 161.2V175.8M632.5 164.8V173.6M633 164.0V176.2M633.5 164.9V174.4M634 162.6V173.9M634.5 164.4V175.5M635 164.8V175.0M635.5 163.6V174.4M636 164.0V174.6M636.5 165.4V173.6M637 166.0V173.4M637.5 165.9V172.5M638 165.7V174.1M638.5 165.0V173.0M639 164.1V174.1M639.5 166.9V172.7M640 165.8V172.8M640.5 166.5V171.9M641 165.5V173.4M641.5 165.1V174.0M642 163.2V174.6M642.5 165.7V174.0M643 164.5V174.6M643.5 162.6V176.0M644 164.1V177.8M644.5 162.6V175.8M645 163.3V175.7M645.5 166.9V172.1" fill="none" stroke="#0000ff" stroke-width="0.5" stroke-opacity="0.55"/>
<path d="M43.5 166.1V172.6M44 166.4V172.8M44.5 166.4V172.3M45 166.8V172.5M45.5 166.9V172.0M46 167.0V172.6M46.5 166.3V173.0M47 167.0V172.2M47.5 166.4V172.4M48 167.1V172.7M48.5 165.7V173.0M49 165.6V173.0M49.5 165.7V174.1M50 166.0V172.4M50.5 166.5V172.7M51 166.2V173.2M51.5 166.8V173.7M52 166.5V172.9M52.5 166.2V172.8M53 164.6V173.8M53.5 165.7V172.8M54 164.9V174.4M54.5 165.3V173.7M55 164.5V173.4M55.5 165.5V172.5M56 166.4V172.9M56.5 164.2V174.1M57 166.0V172.2M57.5 164.9V172.8M58 166.3V173.7M58.5 165.5V172.5M59 165.9V173.1M59.5 166.1V173.3M60 166.5V172.6M60.5 165.6V172.9M61 167.4V172.7M61.5 167.0V172.4M62 165.9V172.9M62.5 165.8V174.5M63 165.6V172.7M63.5 166.4V173.1M64 165.7V173.2M64.5 166.4V172.9M65 165.7V172.9M65.5 166.2V173.0M66 166.4V171.8M66.5 166.1V172.4M67 167.1V172.4M67.5 166.9V172.0M68 166.8V172.6M68.5 166.0V172.2M69 166.8V172.3M69.5 165.8V172.9M70 166.3V172.8M70.5 166.0V174.2M71 165.2V173.2M71.5 166.1V172.6M72 166.3V173.1M72.5 165.0V173.3M73 165.4V173.6M73.5 165.5V173.9M74 165.8V173.4M74.5 166.0V173.4M75 164.4V173.9M75.5 165.3V173.9M76 165.0V173.8M76.5 165.3V173.3M77 166.2V174.1M77.5 166.3V172.9M78 165.0V173.6M78.5 165.9V172.5M79 165.5V173.6M79.5 165.5V172.9M80 165.2V172.6M80.5 165.5V172.5M81 166.2V173.1M81.5 166.1V173.0M82 166.3V172.4M82.5 166.9V173.2M83 166.9V173.1M83.5 165.9V172.9M84 165.9V173.3M84.5 165.8V172.8M85 166.1V173.4M85.5 165.7V172.2M86 167.1V173.9M86.5 165.4V172.7M87 165.3V172.8M87.5 166.0V172.5M88 166.3V173.1M88.5 166.8V172.6M89 165.3V172.4M89.5 165.8V173.9M90 165.7V173.0M90.5 165.8V174.4M91 165.9V172.4M91.5 164.9V172.9M92 166.4V172.6M92.5 165.2V172.5M93 165.0V173.5M93.5 165.3V173.7M94 165.1V173.6M94.5 165.3V173.4M95 165.0V173.8M95.5 165.7V173.5M96 165.0V173.1M96.5 164.3V173.4M97 165.7V174.0M97.5 166.2V174.2M98 165.1V174.0M98.5 164.9V174.6M99 164.7V173.2M99.5 165.8V172.9M100 165.8V173.3M100.5 165.4V172.6M101 165.6V172.6M101.5 164.4V173.1M102 166.6V172.4M102.5 166.5V172.7M103 165.6V172.3M103.5 165.4V173.3M104 165.3V172.6M104.5 165.3V172.9M105 165.8V174.9M105.5 164.6V173.8M106 165.7V173.0M106.5 165.4V174.6M107 165.9V173.7M107.5 165.4V173.5M108 165.9V172.3M108.5 166.4V172.5M109 167.2V173.0M109.5 166.3V173.9M110 165.3V173.6M110.5 164.4V174.2M111 165.3V174.6M111.5 163.6V173.6M112 164.3V174.3M112.5 165.7V173.9M113 165.2V173.3M113.5 166.2V173.4M114 165.3V173.4M114.5 164.7V173.1M115 165.9V174.6M115.5 164.8V172.9M116 165.9V172.4M116.5 166.0V173.5M117 165.5V172.9M117.5 165.8V173.2M118 165.8V172.0M118.5 166.1V172.2M119 165.8V173.7M119.5 165.9V172.8M120 165.9V174.0M120.5 165.9V172.9M121 166.3V173.2M121.5 165.5V174.4M122 164.8V173.6M122.5 164.8V174.2M123 164.8V172.9M123.5 165.9V173.1M124 165.8V172.7M124.5 166.9V173.0M125 165.7V171.9M125.5 165.7V173.4M126 166.1V172.6M126.5 165.2V173.6M127 164.6V173.4M127.5 165.2V173.4M128 164.9V174.3M128.5 163.1V173.9M129 164.0V174.6M129.5 165.0V174.1M130 165.6V173.1M130.5 166.4V173.2M131 166.2V173.2M131.5 165.8V174.0M132 165.3V174.3M132.5 165.2V174.8M133 166.0V173.4M133.5 165.8V173.6M134 165.0V172.6M134.5 165.9V172.2M135 166.5V173.4M135.5 165.9V172.7M136 166.9V172.3M136.5 166.6V173.0M137 166.9V173.4M137.5 165.6V173.4M138 166.0V172.4M138.5 165.9V172.7M139 165.6V172.6M139.5 166.3V172.4M140 166.1V172.1M140.5 166.2V172.8M141 165.7V173.0M141.5 166.1V172.6M142 165.3V173.2M142.5 165.7V172.5M143 165.5V174.1M143.5 164.3V173.6M144 165.5V173.0M144.5 166.2V173.0M145 166.4V172.4M145.5 166.3V173.6M146 165.8V173.8M146.5 165.3V173.4M147 165.5V173.0M147.5 166.0V173.3M148 166.5V172.8M148.5 166.8V172.8M149 166.4V171.4M149.5 167.2V172.7M150 166.5V172.3M150.5 166.6V173.2M151 165.8V172.7M151.5 166.5V173.3M152 165.7V173.3M152.5 166.9V171.7M153 166.0V172.4M153.5 165.5V172.9M154 165.3V173.0M154.5 165.5V173.5M155 165.0V174.1M155.5 165.5V174.4M156 164.9V173.8M156.5 165.2V174.5M157 165.6V174.0M157.5 166.2V172.8M158 165.7V173.1M158.5 166.7V173.6M159 166.7V173.2M159.5 165.4V173.8M160 166.2V172.7M160.5 165.9V174.3M161 165.3V174.4M161.5 165.2V174.9M162 165.4V173.4M162.5 166.6V174.4M163 165.2V173.6M163.5 165.4V172.2M164 165.8V174.7M164.5 165.8V173.7M165 166.0V173.3M165.5 164.9V173.9M166 165.4V174.1M166.5 165.4V173.0M167 166.2V173.3M167.5 165.8V172.5M168 165.3V173.6M168.5 166.1V174.3M169 166.0V172.6M169.5 165.8V173.3M170 166.4V173.2M170.5 164.9V174.8M171 165.5V174.9M171.5 165.2V174.4M172 165.2V175.5M172.5 163.5V176.4M173 164.1V174.6M173.5 161.5V176.2M174 163.7V175.9M174.5 164.2V176.4M175 163.1V175.3M175.5 163.5V174.8M176 164.5V175.6M176.5 163.1V176.4M177 162.7V177.2M177.5 161.3V175.9M178 162.2V174.6M178.5 163.5V175.7M179 160.5V176.8M179.5 163.1V174.8M180 165.0V176.0M180.5 160.5V175.3M181 162.3V176.7M181.5 162.5V175.7M182 162.0V174.8M182.5 163.7V175.8M183 163.7V176.1M183.5 163.6V174.5M184 166.0V173.6M184.5 164.0V174.1M185 164.5V175.6M185.5 163.5V176.1M186 164.8V174.6M186.5 163.9V175.8M187 163.3V177.4M187.5 163.7V177.0M188 165.6V175.8M188.5 163.9V174.8M189 163.5V176.7M189.5 164.2V173.7M190 165.0V175.8M190.5 165.2V176.1M191 162.1V174.5M191.5 163.8V175.2M192 163.4V175.5M192.5 164.8V174.9M193 164.7V175.9M193.5 163.0V175.2M194 164.2V174.9M194.5 164.5V175.5M195 164.2V173.7M195.5 165.8V173.8M196 164.5V175.7M196.5 166.5V174.1M197 163.3V174.7M197.5 164.0V174.3M198 162.2V176.8M198.5 164.5V174.4M199 161.2V176.0M199.5 162.8V173.3M200 164.3V173.2M200.5 164.8V174.3M201 162.8V174.9M201.5 164.6V175.2M202 161.7V176.7M202.5 164.7V175.1M203 163.4V174.6M203.5 163.9V174.8M204 164.2V174.6M204.5 164.3V174.0M205 163.8V173.8M205.5 164.6V173.5M206 165.1V173.5M206.5 165.3V174.4M207 164.9V173.0M207.5 165.0V174.6M208 164.8V174.6M208.5 164.9V173.6M209 165.4V172.6M209.5 165.2V173.1M210 165.3V173.9M210.5 165.8V175.2M211 165.3V173.1M211.5 165.5V174.7M212 165.4V174.8M212.5 164.8V173.8M213 164.9V174.3M213.5 163.7V174.6M214 165.4V173.5M214.5 164.6V174.7M215 166.4V173.9M215.5 164.6V173.5M216 163.8V173.4M216.5 164.1V173.9M217 166.3V175.3M217.5 163.8V173.6M218 164.4V173.3M218.5 163.4V175.0M219 164.5V173.8M219.5 164.3V175.8M220 164.2V172.7M220.5 163.0V175.6M221 163.7V175.1M221.5 163.6V173.3M222 164.8V172.6M222.5 164.6V173.9M223 165.5V174.4M223.5 165.5V174.6M224 164.1V175.4M224.5 164.1V174.1M225 165.2V175.4M225.5 164.1V174.0M226 166.1V174.2M226.5 165.3V175.0M227 164.8V175.6M227.5 165.0V174.9M228 165.5V175.6M228.5 164.1V174.6M229 166.0V173.7M229.5 164.7V174.0M230 164.8V173.7M230.5 165.0V174.9M231 164.7V173.1M231.5 163.6V175.0M232 165.4V175.1M232.5 164.8V173.1M233 164.6V174.4M233.5 163.7V174.0M234 164.3V174.6M234.5 165.1V174.8M235 164.5V174.3M235.5 164.9V174.0M236 165.1V173.1M236.5 166.2V173.4M237 164.2V175.2M237.5 164.7V174.4M238 163.5V173.6M238.5 164.6V174.2M239 164.9V173.4M239.5 163.2V175.6M240 163.3V174.4M240.5 164.3V174.8M241 165.1V174.9M241.5 163.8V175.1M242 164.9V174.5M242.5 165.4V175.3M243 165.1V175.4M243.5 165.0V174.0M244 165.5V174.2M244.5 163.5V173.8M245 165.0V173.5M245.5 164.9V173.1M246 165.8V173.7M246.5 166.0V174.3M247 165.7V172.4M247.5 166.1V173.6M248 165.4V171.8M248.5 166.0V173.9M249 165.5V173.2M249.5 165.8V173.7M250 166.4V173.5M250.5 166.0V171.6M251 166.8V172.6M251.5 166.2V173.0M252 166.7V172.5M252.5 166.6V171.9M253 166.2V173.5M253.5 165.6V173.6M254 165.7V173.6M254.5 165.0V173.2M255 166.4V172.9M255.5 166.9V173.0M256 165.9V172.7M256.5 165.8V172.2M257 166.4V172.7M257.5 165.7V173.5M258 166.9V172.8M258.5 166.5V172.6M259 166.9V172.7M259.5 166.9V172.4M260 166.0V171.8M260.5 165.7V172.7M261 166.3V173.1M261.5 166.7V173.0M262 166.5V172.9M262.5 166.2V172.9M263 166.9V172.5M263.5 165.9V171.8M264 166.8V172.6M264.5 165.5V173.7M265 166.2V174.1M265.5 165.1V173.7M266 165.0V172.9M266.5 165.4V173.4M267 165.8V173.9M267.5 164.5V172.7M268 166.0V173.1M268.5 165.3V174.4M269 165.5V173.0M269.5 165.3V173.8M270 165.3V174.2M270.5 165.0V174.1M271 165.4V173.6M271.5 166.0V172.4M272 165.6V172.9M272.5 166.2V171.9M273 165.1V173.6M273.5 165.1V172.7M274 165.2V172.6M274.5 165.1V173.3M275 166.1V173.7M275.5 165.6V173.5M276 165.7V173.2M276.5 165.4V173.0M277 166.7V173.5M277.5 165.6V173.6M278 165.8V172.7M278.5 166.1V173.0M279 166.0V172.4M279.5 165.8V173.9M280 166.3V173.4M280.5 165.1V173.2M281 166.0V173.7M281.5 165.6V172.7M282 166.1V174.7M282.5 165.3V173.1M283 165.6V173.7M283.5 164.6V173.3M284 165.7V172.7M284.5 166.1V173.1M285 165.4V173.7M285.5 164.8V174.0M286 164.8V174.0M286.5 165.3V172.8M287 164.8V173.6M287.5 166.7V174.0M288 165.0V174.0M288.5 164.6V174.4M289 165.1V173.4M289.5 165.1V173.4M290 166.0V173.2M290.5 165.9V174.2M291 165.8V174.1M291.5 165.5V173.5M292 164.7V173.7M292.5 164.3V174.1M293 165.9V174.3M293.5 165.6V174.6M294 165.6V173.9M294.5 165.6V173.7M295 164.9V173.6M295.5 165.9V174.0M296 164.0V173.9M296.5 165.1V172.4M297 166.5V172.6M297.5 165.7V172.7M298 166.7V172.9M298.5 167.0V172.9M299 166.8V171.8M299.5 166.1V172.9M300 166.1V173.2M300.5 167.0V172.8M301 165.3V173.7M301.5 165.0V173.7M302 164.9V173.2M302.5 165.3V172.4M303 165.4V173.0M303.5 165.3V173.4M304 165.7V172.9M304.5 166.2V174.0M305 164.0V173.4M305.5 164.6V173.2M306 165.1V174.2M306.5 164.7V173.2M307 164.0V174.1M307.5 164.7V173.4M308 164.5V174.1M308.5 165.5V173.1M309 164.6V173.7M309.5 166.3V174.4M310 165.6V173.7M310.5 165.7V174.0M311 165.1V173.9M311.5 165.5V173.3M312 165.3V173.9M312.5 165.4V173.4M313 165.3V174.4M313.5 165.1V173.4M314 163.9V173.9M314.5 163.3V173.4M315 165.7V173.7M315.5 164.9V173.9M316 165.1V173.4M316.5 165.6V174.0M317 165.6V173.4M317.5 165.9V172.6M318 165.2V173.7M318.5 166.4V174.4M319 165.7V174.2M319.5 166.4V173.1M320 165.4V173.4M320.5 165.7V172.8M321 165.5V173.7M321.5 165.7V173.6M322 165.0V173.7M322.5 165.4V174.3M323 164.7V173.5M323.5 165.2V174.5M324 164.8V174.3M324.5 164.5V173.7M325 165.7V176.1M325.5 165.2V172.9M326 165.0V174.7M326.5 163.8V175.2M327 164.1V174.4M327.5 164.6V174.4M328 166.0V174.0M328.5 165.1V173.0M329 166.1V174.6M329.5 165.0V174.3M330 165.0V174.7M330.5 164.4V173.3M331 164.1V172.8M331.5 163.9V174.3M332 165.0V173.8M332.5 165.0V174.1M333 164.2V175.7M333.5 163.7V174.6M334 165.8V174.9M334.5 165.7V173.1M335 165.5V173.5M335.5 164.4V174.2M336 164.2V173.7M336.5 163.2V175.4M337 163.7V174.0M337.5 163.1V174.5M338 164.1V174.1M338.5 163.9V175.8M339 163.3V173.9M339.5 165.0V173.3M340 165.1V174.0M340.5 165.4V172.1M341 164.0V174.9M341.5 163.9V176.9M342 163.6V175.3M342.5 164.5V175.6M343 165.2V173.9M343.5 165.2V174.4M344 164.8V173.7M344.5 165.2V175.7M345 164.0V173.2M345.5 164.2V173.4M346 164.6V173.5M346.5 164.8V173.3M347 164.3V174.0M347.5 164.9V174.7M348 165.1V173.5M348.5 165.8V174.0M349 166.1V174.1M349.5 166.4V172.5M350 165.0V173.8M350.5 165.8V173.1M351 165.3V174.4M351.5 164.2V173.6M352 164.6V173.6M352.5 163.7V174.9M353 164.5V173.8M353.5 165.2V174.8M354 165.5V174.6M354.5 165.2V174.2M355 165.4V173.5M355.5 165.4V173.5M356 165.4V173.3M356.5 165.4V172.8M357 165.0V173.4M357.5 164.8V173.3M358 165.8V174.0M358.5 165.9V173.3M359 165.2V174.4M359.5 166.0V173.9M360 165.3V173.5M360.5 166.0V173.9M361 165.7V173.2M361.5 165.8V173.6M362 164.7V173.0M362.5 166.0V172.8M363 165.0V172.2M363.5 166.9V172.5M364 166.4V172.3M364.5 166.0V173.0M365 166.4V173.4M365.5 165.6V173.2M366 166.3V173.4M366.5 164.8V173.1M367 166.5V172.9M367.5 165.8V172.7M368 165.3V173.4M368.5 166.6V173.3M369 166.7V172.6M369.5 166.0V172.6M370 166.6V173.4M370.5 165.7V173.5M371 166.0V173.5M371.5 165.5V173.3M372 166.9V171.7M372.5 166.5V173.1M373 167.0V171.5M373.5 166.5V172.7M374 165.6V173.0M374.5 165.2V173.9M375 165.9V173.3M375.5 165.2V174.0M376 166.0V173.5M376.5 166.5V174.3M377 164.6V173.2M377.5 164.1V174.1M378 166.3V173.7M378.5 166.1V173.7M379 165.2V173.2M379.5 165.3V173.3M380 166.0V173.0M380.5 165.9V172.5M381 165.9V173.2M381.5 164.6V174.7M382 165.0V173.3M382.5 164.8V173.9M383 164.6V173.8M383.5 164.8V173.8M384 165.0V173.2M384.5 165.9V173.3M385 166.4V172.9M385.5 166.6V173.2M386 165.7V173.0M386.5 166.5V173.5M387 165.9V172.4M387.5 166.3V173.4M388 166.2V173.2M388.5 165.1V173.5M389 165.5V173.0M389.5 166.1V174.0M390 164.5V174.2M390.5 165.1V174.0M391 165.2V173.8M391.5 164.8V174.1M392 165.4V173.2M392.5 165.8V173.0M393 166.0V174.0M393.5 166.5V174.6M394 164.5V174.9M394.5 165.3V174.1M395 163.7V174.5M395.5 165.4V173.3M396 164.7V173.8M396.5 164.7V174.2M397 165.0V173.9M397.5 164.8V174.2M398 166.9V173.7M398.5 166.7V172.6M399 165.5V173.2M399.5 166.0V173.3M400 166.8V172.2M400.5 166.4V172.4M401 166.2V172.5M401.5 166.8V173.2M402 166.4V172.2M402.5 166.0V172.5M403 166.4V172.2M403.5 167.1V172.2M404 166.8V172.3M404.5 166.9V172.3M405 165.8V172.9M405.5 166.6V172.8M406 166.3V172.5M406.5 166.4V173.3M407 165.5V173.6M407.5 166.3V172.7M408 166.3V172.5M408.5 165.2V173.1M409 165.6V172.9M409.5 164.9V173.4M410 165.8V172.7M410.5 164.3V174.3M411 164.5V173.2M411.5 165.5V173.7M412 165.8V174.0M412.5 166.3V173.9M413 166.4V173.0M413.5 165.2V172.9M414 166.1V172.8M414.5 166.6V173.0M415 166.9V172.8M415.5 165.3V172.8M416 166.7V173.0M416.5 165.6V173.5M417 165.7V172.8M417.5 164.1V173.3M418 166.2V174.1M418.5 166.0V172.9M419 166.1V173.2M419.5 165.4V173.4M420 165.0V173.9M420.5 165.6V174.0M421 164.9V173.8M421.5 164.9V174.1M422 164.7V174.8M422.5 165.7V173.3M423 165.2V174.0M423.5 165.6V174.2M424 166.3V174.1M424.5 166.2V173.3M425 166.1V173.7M425.5 166.7V172.2M426 166.9V172.7M426.5 166.6V172.8M427 166.4V173.0M427.5 166.6V172.0M428 166.9V171.4M428.5 165.9V172.2M429 167.0V172.2M429.5 167.3V172.7M430 165.9V172.9M430.5 166.2V172.6M431 166.8V172.9M431.5 166.1V172.6M432 166.4V172.7M432.5 166.8V173.2M433 165.6V173.6M433.5 166.3V172.8M434 165.9V172.6M434.5 165.8V172.6M435 166.4V173.6M435.5 166.6V173.1M436 165.9V172.5M436.5 166.0V173.5M437 165.3V173.0M437.5 166.0V173.4M438 164.8V173.4M438.5 165.1V173.9M439 165.5V172.7M439.5 165.6V174.0M440 165.4V173.4M440.5 165.9V172.6M441 165.1V173.6M441.5 165.4V173.9M442 165.0V173.7M442.5 165.9V172.9M443 166.3V173.4M443.5 166.1V172.9M444 166.0V171.8M444.5 166.3V173.0M445 165.4V172.6M445.5 166.2V172.8M446 165.6V173.3M446.5 167.0V173.4M447 165.7V172.2M447.5 166.4V173.1M448 165.0V173.4M448.5 164.9V174.7M449 163.2V174.2M449.5 163.5V175.7M450 164.1V176.6M450.5 164.2V176.2M451 164.1V175.1M451.5 162.4V180.1M452 160.9V176.1M452.5 163.5V174.1M453 162.7V178.0M453.5 161.4V178.2M454 160.4V177.7M454.5 163.0V176.9M455 162.4V174.6M455.5 161.2V176.4M456 161.3V178.3M456.5 162.4V178.0M457 161.8V175.2M457.5 162.2V175.7M458 164.2V177.9M458.5 163.5V175.8M459 161.8V172.7M459.5 163.4V175.9M460 163.9V175.5M460.5 164.9V174.3M461 164.6V175.8M461.5 164.7V175.5M462 163.9V173.0M462.5 164.2V174.0M463 163.0V174.1M463.5 162.8V174.6M464 165.8V175.5M464.5 165.3V174.2M465 165.3V174.1M465.5 164.1V173.5M466 163.2V174.1M466.5 164.5V173.3M467 165.2V172.3M467.5 165.3V173.9M468 164.8V172.4M468.5 164.4V175.0M469 164.8V175.1M469.5 164.8V174.9M470 164.2V173.8M470.5 163.7V175.2M471 163.7V175.4M471.5 164.2V174.2M472 165.4V175.4M472.5 164.6V174.5M473 167.0V174.2M473.5 164.0V174.2M474 163.6V174.4M474.5 166.0V174.8M475 164.5V173.1M475.5 165.2V172.9M476 165.1V173.0M476.5 164.7V174.2M477 165.5V173.7M477.5 164.8V173.9M478 165.4V173.1M478.5 164.9V175.0M479 165.3V176.3M479.5 163.9V176.2M480 163.9V175.6M480.5 164.2V175.4M481 166.0V174.6M481.5 164.5V174.3M482 165.3V173.6M482.5 165.5V173.5M483 165.8V173.4M483.5 165.6V172.9M484 165.4V171.9M484.5 166.2V172.7M485 166.5V172.7M485.5 166.3V172.2M486 165.4V172.3M486.5 165.7V172.8M487 166.3V172.9M487.5 167.5V172.5M488 166.5V172.4M488.5 167.0V172.1M489 166.2V173.2M489.5 166.0V172.7M490 165.8V172.8M490.5 166.4V173.1M491 167.2V172.8M491.5 166.7V172.1M492 166.4V172.0M492.5 166.5V172.9M493 165.6V174.1M493.5 165.3V173.8M494 166.4V174.0M494.5 165.1V175.0M495 165.3V173.4M495.5 165.3V173.7M496 164.8V173.2M496.5 165.7V173.4M497 165.3V173.5M497.5 165.5V175.2M498 166.0V173.4M498.5 164.4V173.5M499 165.6V172.9M499.5 165.2V172.7M500 164.6V174.8M500.5 164.6V173.9M501 163.4V175.0M501.5 163.8V174.8M502 164.1V174.8M502.5 163.7V175.3M503 166.5V174.3M503.5 164.3V174.1M504 164.5V174.5M504.5 164.8V173.6M505 163.7V175.2M505.5 163.5V174.8M506 163.3V174.7M506.5 163.7V175.8M507 164.5V174.0M507.5 165.0V175.3M508 164.6V174.7M508.5 165.7V174.3M509 164.2V174.6M509.5 163.9V173.7M510 164.5V174.5M510.5 164.7V173.7M511 164.4V175.3M511.5 164.0V174.1M512 164.4V173.2M512.5 164.8V172.7M513 165.5V174.0M513.5 165.2V174.1M514 163.6V174.0M514.5 164.7V172.6M515 164.3V174.0M515.5 163.9V174.1M516 163.8V173.7M516.5 164.8V174.6M517 165.1V175.1M517.5 165.3V173.1M518 164.5V175.1M518.5 165.0V174.3M519 166.1V174.4M519.5 164.2V175.3M520 165.6V173.7M520.5 165.4V174.3M521 164.9V173.6M521.5 163.6V174.2M522 164.9V173.6M522.5 164.7V174.2M523 164.3V173.1M523.5 164.2V173.8M524 162.5V174.8M524.5 163.9V175.0M525 164.3V174.6M525.5 164.0V176.0M526 163.5V174.6M526.5 165.1V174.4M527 164.8V174.6M527.5 165.5V173.5M528 165.2V173.7M528.5 164.8V174.3M529 166.1V173.6M529.5 165.5V173.2M530 165.2V173.5M530.5 165.7V174.0M531 165.8V173.8M531.5 165.8V173.2M532 166.7V173.0M532.5 166.0V172.9M533 164.4V173.6M533.5 165.7V173.2M534 165.4V172.7M534.5 164.6V173.6M535 166.0V172.5M535.5 164.5V173.8M536 166.3V173.4M536.5 165.2V175.9M537 165.1V174.1M537.5 166.4V173.8M538 165.1V172.9M538.5 166.3V174.0M539 165.9V174.1M539.5 165.2V174.7M540 165.1V174.4M540.5 164.7V175.2M541 164.8V174.1M541.5 165.1V174.5M542 165.3V175.7M542.5 164.7V174.9M543 164.4V174.6M543.5 164.4V175.2M544 164.6V175.0M544.5 163.6V173.5M545 163.6V173.8M545.5 163.5V173.3M546 165.2V174.2M546.5 164.6V175.8M547 161.9V173.0M547.5 164.5V175.2M548 161.8V175.9M548.5 163.6V175.8M549 163.7V177.5M549.5 163.8V174.8M550 163.3V176.2M550.5 162.7V174.5M551 164.3V175.2M551.5 163.5V174.7M552 164.8V174.5M552.5 164.1V174.0M553 164.0V174.0M553.5 165.3V176.2M554 162.9V175.1M554.5 163.7V174.7M555 163.5V175.2M555.5 164.4V175.4M556 164.2V175.3M556.5 163.9V174.9M557 163.9V173.9M557.5 164.8V175.8M558 165.0V175.5M558.5 162.3V175.9M559 162.0V177.5M559.5 163.1V174.8M560 161.8V175.1M560.5 163.5V175.7M561 158.9V180.2M561.5 163.6V175.0M562 163.0V181.6M562.5 154.0V183.6M563 163.6V184.2M563.5 157.9V182.8M564 161.9V173.8M564.5 150.2V185.2M565 154.4V183.8M565.5 150.7V192.1M566 159.7V178.9M566.5 164.8V182.6M567 152.0V178.4M567.5 154.5V179.3M568 159.2V182.0M568.5 159.7V179.9M569 160.3V177.4M569.5 163.4V181.4M570 162.0V177.7M570.5 164.2V178.9M571 161.8V176.0M571.5 164.3V177.4M572 162.1V175.4M572.5 161.0V175.2M573 161.2V175.9M573.5 161.7V175.6M574 163.0V176.4M574.5 161.1V176.4M575 166.4V176.2M575.5 163.9V177.9M576 165.1V176.6M576.5 160.2V180.1M577 165.8V175.0M577.5 163.3V173.7M578 162.6V174.9M578.5 163.9V174.6M579 165.9V174.8M579.5 163.6V175.5M580 164.3V174.2M580.5 163.1V176.4M581 165.0V176.1M581.5 164.2V175.1M582 161.6V174.9M582.5 163.4V176.2M583 164.0V175.4M583.5 161.4V179.6M584 159.3V179.6M584.5 155.9V180.1M585 152.2V182.1M585.5 166.4V181.5M586 156.5V180.4M586.5 161.7V182.1M587 156.9V188.6M587.5 136.2V189.8M588 149.2V184.9M588.5 152.8V181.1M589 156.7V188.7M589.5 158.5V176.3M590 153.4V183.6M590.5 153.7V182.1M591 156.9V179.0M591.5 146.3V188.8M592 164.3V180.1M592.5 155.5V180.4M593 164.1V185.8M593.5 154.4V177.8M594 158.5V178.7M594.5 161.7V180.3M595 159.9V179.9M595.5 160.6V182.4M596 160.1V181.1M596.5 164.5V177.2M597 159.3V179.1M597.5 160.2V178.2M598 162.3V174.4M598.5 162.9V176.7M599 161.4V176.5M599.5 161.1V175.4M600 163.4V174.1M600.5 163.4V174.3M601 165.4V176.5M601.5 165.0V173.3M602 163.5V173.7M602.5 164.9V174.8M603 165.7V173.5M603.5 164.1V174.9M604 163.6V174.4M604.5 162.5V175.8M605 165.7V174.2M605.5 163.7V173.1M606 165.0V174.4M606.5 164.0V175.5M607 163.7V175.4M607.5 163.1V176.6M608 162.2V179.1M608.5 162.5V177.0M609 163.6V174.6M609.5 166.3V176.3M610 162.4V174.8M610.5 164.1V174.3M611 164.7V176.5M611.5 163.5V175.8M612 165.1V175.4M612.5 163.8V174.7M613 166.0V173.9M613.5 164.3V173.6M614 165.5V172.5M614.5 165.3V173.2M615 164.8V172.6M615.5 165.8V173.6M616 165.1V173.8M616.5 165.1V173.6M617 164.8V174.4M617.5 164.3V173.6M618 165.6V173.3M618.5 165.7V173.5M619 165.6V173.5M619.5 166.5V173.2M620 165.7V173.3M620.5 166.8V172.8M621 166.3V173.1M621.5 166.5V172.7M622 165.4V173.1M622.5 165.8V173.0M623 166.1V173.1M623.5 166.2V173.2M624 165.9V173.4M624.5 165.8V173.8M625 165.3V172.9M625.5 164.3V173.4M626 165.8V173.5M626.5 165.8V173.3M627 165.9V173.6M627.5 164.5V173.6M628 165.8V173.9M628.5 164.6V174.6M629 163.9V173.9M629.5 166.1V173.2M630 164.8V174.5M630.5 165.2V173.0M631 165.9V173.9M631.5 164.8V173.9M632 165.8V173.4M632.5 165.7V173.5M633 166.1V174.0M633.5 166.1V173.2M634 166.8V173.8M634.5 166.7V174.0M635 165.7V173.7M635.5 166.2V173.4M636 166.2V173.1M636.5 166.1V172.7M637 166.7V172.4M637.5 166.4V172.3M638 166.2V171.6M638.5 166.5V173.0M639 167.1V172.7M639.5 166.0V172.9M640 166.4V172.5M640.5 166.4V172.6M641 166.8V173.2M641.5 165.9V173.3M642 165.4V173.1M642.5 165.9V172.9M643 166.4V173.6M643.5 165.8V172.5M644 165.8V174.1M644.5 165.2V173.1M645 166.2V172.8M645.5 165.8V174.0" fill="none" stroke="#0000ff" stroke-width="1.0" stroke-opacity="1.0"/>
<g stroke="#0000ff" fill="none"><path d="M184.8 132.6V177.7" stroke-width="0.7" stroke-opacity="0.55"/><path d="M190.5 136.7V190" stroke-width="0.7" stroke-opacity="0.55"/><path d="M201 135.88V196.56" stroke-width="0.7" stroke-opacity="0.55"/><path d="M200.2 149V185.9" stroke-width="0.7" stroke-opacity="0.55"/><path d="M179 149V185.9" stroke-width="0.7" stroke-opacity="0.55"/><path d="M233 161.3V194.1" stroke-width="0.7" stroke-opacity="0.55"/><path d="M224 146.54V187.54" stroke-width="0.7" stroke-opacity="0.55"/><path d="M494.6 145.72V177.7" stroke-width="0.7" stroke-opacity="0.55"/><path d="M498.2 120.3V185.9" stroke-width="0.7" stroke-opacity="0.55"/><path d="M512.4 89.96V173.6" stroke-width="0.7" stroke-opacity="0.55"/><path d="M519.6 99.8V173.6" stroke-width="0.7" stroke-opacity="0.55"/><path d="M528.1 108.82V169.5" stroke-width="0.7" stroke-opacity="0.55"/><path d="M547.5 139.98V177.7" stroke-width="0.7" stroke-opacity="0.55"/><path d="M553.4 140.8V187.54" stroke-width="0.7" stroke-opacity="0.55"/><path d="M563.7 116.2V201.48" stroke-width="0.7" stroke-opacity="0.55"/><path d="M585.6 68.64V240.02" stroke-width="0.7" stroke-opacity="0.55"/><path d="M588.2 112.92V194.1" stroke-width="0.7" stroke-opacity="0.55"/><path d="M591.3 113.74V185.9" stroke-width="0.7" stroke-opacity="0.55"/><path d="M595.7 98.16V177.7" stroke-width="0.7" stroke-opacity="0.55"/><path d="M600 108V177.7" stroke-width="0.7" stroke-opacity="0.55"/><path d="M608.3 102.26V193.28" stroke-width="0.7" stroke-opacity="0.55"/><path d="M624.5 98.16V169.5" stroke-width="0.7" stroke-opacity="0.55"/><path d="M645 161.3V185.9" stroke-width="0.7" stroke-opacity="0.55"/></g>
</g>
<rect x="43.5" y="46.5" width="602.0" height="205.0" fill="none" stroke="#b4b4b4" stroke-width="1"/>
<path d="M118.5 251.5v-6M118.5 46.5v6M194.5 251.5v-6M194.5 46.5v6M269.5 251.5v-6M269.5 46.5v6M344.5 251.5v-6M344.5 46.5v6M419.5 251.5v-6M419.5 46.5v6M494.5 251.5v-6M494.5 46.5v6M570.5 251.5v-6M570.5 46.5v6M43.5 210.5h6M645.5 210.5h-6M43.5 169.5h6M645.5 169.5h-6M43.5 128.5h6M645.5 128.5h-6M43.5 87.5h6M645.5 87.5h-6" stroke="#999" stroke-width="1" fill="none"/>
<text x="43.2" y="265.7" text-anchor="middle">00:00</text>
<text x="118.45" y="265.7" text-anchor="middle">03:00</text>
<text x="193.7" y="265.7" text-anchor="middle">06:00</text>
<text x="268.95" y="265.7" text-anchor="middle">09:00</text>
<text x="344.2" y="265.7" text-anchor="middle">12:00</text>
<text x="419.45" y="265.7" text-anchor="middle">15:00</text>
<text x="494.7" y="265.7" text-anchor="middle">18:00</text>
<text x="569.95" y="265.7" text-anchor="middle">21:00</text>
<text x="645.2" y="265.7" text-anchor="middle">00:00</text>
<text x="39.6" y="256" text-anchor="end">-1</text>
<text x="39.6" y="215" text-anchor="end">-0.5</text>
<text x="39.6" y="174" text-anchor="end">0</text>
<text x="39.6" y="133" text-anchor="end">0.5</text>
<text x="39.6" y="92" text-anchor="end">1</text>
<text x="39.6" y="51" text-anchor="end">1.5</text>
<text class="b" transform="translate(9.4 149) rotate(-90)" text-anchor="middle">X (nT)</text>
<g clip-path="url(#cl1)">
<path d="M43.5 422.9V434.0M44 434.0V441.6M44.5 434.0V443.0M45.5 424.7V434.0M46.5 434.0V444.9M47 420.6V434.0M47.5 421.8V434.0M48 422.2V434.0M50 434.0V441.8M51 434.0V443.8M53.5 434.0V447.3M54.5 420.9V434.0M55 426.8V434.0M56 424.9V434.0M57 424.6V443.3M58 434.0V440.2M59 434.0V441.9M60 414.8V444.0M60.5 424.1V443.0M62 426.6V438.4M63 434.0V446.3M64 426.0V434.0M66.5 434.0V441.7M67 427.1V441.5M68.5 426.1V441.3M70.5 428.9V434.0M71.5 424.2V434.0M72.5 418.9V434.0M73 434.0V448.1M75.5 434.0V446.8M76 423.0V434.0M76.5 424.1V444.2M77 434.0V442.5M78 423.6V434.0M79 426.0V434.0M79.5 427.8V434.0M81 434.0V444.1M81.5 427.5V442.5M82 434.0V443.2M83 422.4V434.0M83.5 427.2V434.0M84 434.0V451.3M86.5 434.0V445.0M87 434.0V446.2M87.5 434.0V445.2M88.5 420.8V434.0M89 424.2V434.0M90 422.5V434.0M91.5 425.3V434.0M92.5 426.1V434.0M93 424.7V434.0M93.5 434.0V446.2M94.5 415.6V446.1M95 434.0V441.0M95.5 434.0V444.5M96 434.0V442.0M96.5 434.0V443.8M97 424.9V434.0M97.5 434.0V445.0M99.5 422.8V444.4M100.5 421.2V444.3M102 418.4V434.0M103 422.4V434.0M103.5 434.0V446.6M104 434.0V446.8M105 434.0V450.7M106.5 434.0V448.8M107 415.3V449.1M108.5 434.0V444.6M109 422.8V434.0M110.5 424.6V444.3M112 434.0V445.9M112.5 434.0V445.2M113 426.1V434.0M113.5 427.1V443.0M116 420.2V434.0M117 434.0V446.7M118.5 434.0V440.5M120 428.2V441.7M121.5 434.0V453.6M122 434.0V442.5M122.5 424.6V442.7M123 424.9V434.0M124.5 425.1V434.0M125.5 424.0V434.0M126.5 422.7V434.0M127 434.0V445.5M127.5 423.2V441.5M128.5 434.0V446.6M129.5 426.0V434.0M131.5 424.0V434.0M132 434.0V441.3M132.5 419.5V454.5M134 414.2V434.0M135 434.0V446.1M137 419.1V434.0M138 434.0V451.8M138.5 434.0V447.0M139 418.1V434.0M139.5 434.0V455.1M140.5 420.3V434.0M143 434.0V443.9M147 423.8V434.0M149.5 434.0V451.7M150 426.6V434.0M150.5 425.5V434.0M151.5 434.0V441.1M152 425.2V443.1M153 414.8V434.0M153.5 422.0V448.9M154 418.5V434.0M154.5 418.9V452.7M155 416.7V445.5M155.5 426.4V434.0M156 420.7V447.4M157 426.2V434.0M158.5 419.9V434.0M159 434.0V449.1M159.5 434.0V440.4M160.5 434.0V445.2M161 434.0V455.9M164 422.2V443.8M164.5 424.5V434.0M165 434.0V440.0M165.5 423.8V442.6M166.5 422.7V434.0M168.5 425.9V441.5M169 426.1V441.4M172 434.0V441.9M172.5 427.0V434.0M175 422.3V434.0M175.5 417.2V434.0M176.5 418.3V447.4M177.5 434.0V444.0M178 434.0V462.6M179.5 414.6V434.0M180 434.0V460.0M182 434.0V459.1M182.5 412.9V474.3M183.5 434.0V444.4M185 401.8V452.7M185.5 434.0V459.7M186 434.0V451.9M188.5 415.3V449.8M190 419.5V434.0M190.5 434.0V447.4M191.5 418.5V457.4M193 434.0V450.5M193.5 434.0V457.1M195 434.0V442.0M195.5 418.1V449.4M196.5 434.0V444.0M197 422.3V434.0M198 434.0V447.4M198.5 418.7V455.4M201.5 414.0V434.0M202 416.2V452.7M203 417.1V434.0M203.5 434.0V470.3M204.5 417.8V434.0M205 434.0V449.3M206 420.6V434.0M207 421.9V434.0M207.5 434.0V454.2M209 434.0V453.1M211.5 410.4V434.0M213 415.0V455.7M216 420.0V434.0M216.5 403.2V434.0M217 410.2V457.5M217.5 434.0V444.5M218 434.0V450.4M218.5 423.9V443.9M219 423.7V434.0M219.5 421.9V434.0M220 422.6V434.0M221 418.4V451.3M222 421.3V434.0M222.5 429.2V439.3M223 434.0V439.9M224 425.5V434.0M225 422.4V434.0M225.5 417.9V450.5M226 414.8V434.0M227 415.7V434.0M227.5 434.0V458.5M229 423.6V434.0M229.5 421.6V434.0M230 434.0V445.2M230.5 416.4V452.1M232 434.0V443.4M236 434.0V450.5M236.5 420.9V434.0M238 434.0V450.2M238.5 422.0V434.0M241.5 434.0V440.7M242 420.9V447.0M244 434.0V437.0M244.5 425.9V434.0M245.5 434.0V442.3M247.5 434.0V447.5M248 424.6V434.0M248.5 434.0V441.3M252 426.8V434.0M253.5 434.0V441.2M257.5 434.0V441.0M259.5 425.5V434.0M260 426.4V434.0M262 434.0V452.6M263 422.2V434.0M263.5 434.0V444.3M264 426.0V434.0M264.5 434.0V450.6M265 426.2V434.0M265.5 434.0V450.5M266.5 420.7V434.0M267 427.5V441.3M268 424.8V434.0M269.5 421.9V443.0M270 428.0V442.5M271.5 425.4V434.0M272 434.0V443.5M275 428.7V434.0M275.5 423.7V434.0M277 434.0V443.5M277.5 421.6V434.0M278 434.0V444.4M279 434.0V443.5M279.5 428.2V434.0M282 434.0V442.0M283 419.3V434.0M283.5 434.0V443.3M284 423.4V443.3M284.5 434.0V442.5M285 434.0V444.7M285.5 422.0V434.0M286 421.4V447.4M286.5 434.0V445.3M287 434.0V442.7M288 434.0V441.4M289.5 434.0V448.1M293 434.0V443.6M293.5 424.0V434.0M294.5 434.0V441.5M295 434.0V442.8M296.5 425.5V434.0M297.5 426.2V434.0M298.5 421.9V434.0M299.5 420.8V434.0M300 434.0V442.8M301.5 434.0V448.0M302 434.0V448.1M306.5 424.5V446.3M307 423.0V434.0M307.5 426.0V434.0M309 434.0V444.0M310 426.4V434.0M311 426.3V434.0M313 434.0V442.9M314.5 427.2V434.0M315.5 421.7V434.0M317 426.1V434.0M317.5 434.0V439.9M318.5 434.0V442.5M320.5 434.0V444.0M321.5 421.9V434.0M323.5 425.2V434.0M325 434.0V442.8M326.5 434.0V443.1M327 423.9V441.4M328.5 434.0V442.7M329 421.7V434.0M329.5 426.1V434.0M330.5 425.6V434.0M331 428.0V440.6M331.5 434.0V439.5M333.5 424.8V434.0M334 427.5V446.3M335.5 420.8V434.0M336 421.6V446.0M336.5 434.0V456.0M337 434.0V442.5M337.5 426.1V434.0M338 434.0V445.4M338.5 434.0V443.7M340.5 426.3V434.0M341 426.5V441.6M342 434.0V441.6M342.5 428.6V434.0M345.5 434.0V445.4M346 428.3V434.0M346.5 420.0V434.0M347 424.9V434.0M347.5 434.0V442.6M348 425.0V434.0M349 421.3V434.0M349.5 423.3V445.6M350.5 434.0V445.5M351 425.4V441.7M352.5 422.6V434.0M353 434.0V442.9M354 420.5V434.0M355 429.6V434.0M355.5 434.0V444.6M358 426.2V447.5M358.5 422.8V434.0M359.5 434.0V444.5M360 434.0V448.9M360.5 411.2V434.0M361 416.6V447.3M362 434.0V453.8M362.5 423.4V434.0M363 422.9V434.0M365 434.0V444.8M365.5 434.0V451.0M366 423.7V434.0M366.5 425.3V434.0M368 427.0V434.0M369 422.0V434.0M369.5 426.9V434.0M371 423.3V441.5M371.5 426.9V434.0M373 434.0V442.1M373.5 425.2V434.0M374 417.7V434.0M375.5 419.3V446.9M377.5 428.8V434.0M378.5 434.0V446.2M379 419.7V434.0M379.5 422.2V434.0M381 422.3V434.0M382 423.6V434.0M382.5 424.1V444.2M383 417.8V434.0M385.5 434.0V447.0M386 424.0V443.6M387.5 420.9V434.0M388 434.0V448.5M390 434.0V453.6M393 434.0V453.7M394 434.0V444.4M394.5 424.9V434.0M395.5 434.0V445.4M396 424.1V444.5M397 434.0V442.9M397.5 425.7V434.0M399 434.0V441.9M399.5 428.6V434.0M400 434.0V444.3M400.5 434.0V443.7M402 416.7V434.0M403 434.0V445.4M404.5 420.7V434.0M406.5 434.0V445.6M407.5 434.0V442.2M408.5 434.0V442.9M411.5 434.0V444.0M412 423.5V434.0M413 424.0V434.0M414 434.0V448.2M414.5 422.4V434.0M415.5 423.5V434.0M416 422.7V434.0M416.5 418.8V434.0M417.5 427.5V434.0M419 425.9V434.0M420.5 434.0V440.9M421.5 434.0V440.0M423.5 427.3V434.0M424.5 427.9V434.0M425 434.0V441.0M425.5 434.0V443.5M426 434.0V441.3M427 434.0V442.1M428.5 421.3V434.0M429.5 434.0V442.9M430 434.0V439.1M431 434.0V441.2M432 421.9V450.5M432.5 422.4V445.9M433 414.5V434.0M433.5 422.7V434.0M434 434.0V455.5M435 434.0V442.7M435.5 426.2V434.0M436.5 434.0V444.8M437 424.1V434.0M438 422.8V434.0M438.5 427.9V434.0M441 424.6V446.3M442 422.0V443.7M444 422.5V434.0M445.5 434.0V449.4M446 434.0V454.7M447 415.3V445.7M448 434.0V442.1M448.5 423.3V434.0M449 434.0V440.4M449.5 434.0V443.7M450.5 434.0V447.3M453.5 420.3V434.0M455 434.0V442.9M456 434.0V442.9M456.5 434.0V440.7M457 420.7V434.0M458 423.5V434.0M458.5 434.0V446.8M460 422.2V434.0M461 420.7V443.8M461.5 426.7V434.0M462 434.0V443.1M464 416.5V434.0M465.5 419.9V434.0M467 418.9V448.6M467.5 434.0V448.5M468.5 416.5V434.0M469.5 425.0V434.0M471 421.1V434.0M471.5 434.0V451.1M472.5 417.1V434.0M475 434.0V446.9M475.5 434.0V456.7M477.5 434.0V450.5M478.5 434.0V447.3M479 434.0V448.2M480 420.3V446.3M480.5 407.5V456.1M481.5 434.0V457.1M482 417.3V434.0M483.5 414.9V434.0M486.5 410.4V434.0M487 399.6V434.0M488 434.0V448.2M488.5 419.4V434.0M489 423.4V443.9M489.5 434.0V441.8M491 434.0V441.5M491.5 428.3V434.0M492.5 434.0V444.6M493 413.2V434.0M493.5 434.0V447.4M495.5 421.0V434.0M496 425.1V434.0M497 434.0V449.2M497.5 434.0V446.7M498.5 424.8V440.2M499.5 424.1V434.0M500 434.0V444.2M500.5 418.3V434.0M501 418.3V434.0M502 434.0V450.7M503 426.3V434.0M504 434.0V447.3M504.5 426.8V434.0M505.5 434.0V453.6M506.5 416.2V434.0M507.5 413.9V434.0M508 425.5V434.0M508.5 412.0V434.0M509 424.9V446.4M509.5 420.9V434.0M510 423.6V434.0M511 422.2V434.0M512 434.0V457.2M512.5 416.6V434.0M514 408.6V434.0M514.5 408.8V434.0M515 417.6V434.0M516.5 434.0V452.5M517 434.0V450.3M517.5 419.7V434.0M519.5 434.0V449.0M520 419.7V452.2M521.5 415.9V434.0M522.5 400.9V434.0M525.5 425.0V449.9M526.5 425.9V434.0M527 419.4V434.0M528 434.0V442.6M529 421.4V434.0M531 434.0V447.4M531.5 434.0V465.3M532 420.1V434.0M532.5 417.7V445.2M533.5 434.0V446.4M534 407.2V434.0M534.5 434.0V448.2M535.5 417.2V434.0M537 434.0V451.9M538.5 416.3V434.0M539 415.8V434.0M540 434.0V449.4M540.5 434.0V453.6M542 419.0V434.0M542.5 434.0V445.7M543.5 434.0V453.3M544 434.0V448.0M544.5 434.0V450.3M545 434.0V446.1M548 434.0V452.9M549 407.2V434.0M549.5 434.0V451.9M550 412.2V434.0M551 409.6V453.7M552 416.4V446.0M552.5 418.2V451.8M553.5 434.0V455.7M554 419.1V434.0M554.5 418.1V434.0M556.5 434.0V454.3M557 434.0V455.9M558 434.0V450.6M558.5 416.0V434.0M559.5 434.0V449.7M560 412.2V434.0M561.5 407.8V434.0M563 413.5V454.4M563.5 402.1V434.0M565 420.2V434.0M566 416.8V434.0M566.5 414.1V455.0M567 409.0V434.0M567.5 434.0V445.9M568 411.0V455.9M569 394.2V461.3M569.5 434.0V458.3M571 416.1V455.5M571.5 425.0V442.5M572.5 434.0V452.7M573 434.0V445.6M574 406.8V434.0M575 388.5V434.0M575.5 434.0V456.4M576.5 434.0V471.9M577 434.0V457.2M578 418.3V434.0M579 434.0V459.3M579.5 434.0V450.0M580 434.0V449.1M581 405.1V434.0M581.5 434.0V463.9M583 405.7V434.0M586.5 434.0V466.2M587.5 400.4V472.4M588 434.0V476.3M588.5 402.8V434.0M590.5 434.0V503.8M591 399.8V434.0M592.5 434.0V467.7M593 396.9V484.1M594.5 405.5V434.0M595 434.0V460.6M597.5 434.0V451.5M598.5 434.0V454.0M599 434.0V446.5M600 417.0V454.2M601 434.0V446.0M602 434.0V442.7M604 415.0V434.0M605 424.1V444.3M605.5 427.4V444.0M606.5 413.7V434.0M608.5 425.7V443.9M609.5 434.0V448.4M611 399.3V434.0M612 421.8V447.6M612.5 410.9V434.0M613 434.0V457.3M613.5 407.0V434.0M614.5 434.0V444.2M615 421.0V434.0M615.5 425.9V434.0M616 423.5V434.0M619 424.7V434.0M619.5 434.0V440.3M621 420.7V434.0M621.5 434.0V450.2M622 412.8V434.0M623 434.0V444.8M624 423.1V447.1M624.5 434.0V449.3M626.5 425.3V434.0M627 417.1V434.0M628 421.1V448.2M628.5 427.0V434.0M629 434.0V451.6M629.5 434.0V443.3M630 434.0V442.1M632 424.3V445.2M633 434.0V448.7M633.5 423.4V434.0M634 434.0V462.8M634.5 434.0V451.4M635 434.0V448.4M635.5 421.0V434.0M637 424.0V434.0M637.5 434.0V443.7M638.5 415.3V434.0M639 434.0V455.2M640 434.0V444.6M640.5 426.1V441.2M641 424.8V434.0M641.5 434.0V441.0M643 424.1V434.0M643.5 434.0V444.8M644 419.6V444.7M644.5 426.7V434.0M645.5 434.0V441.9" fill="none" stroke="#0000ff" stroke-width="0.6" stroke-opacity="0.5"/>
<path d="M43.5 428.2V438.6M44 429.1V439.1M44.5 429.9V439.4M45 426.2V441.3M45.5 426.5V441.6M46 425.1V442.1M46.5 426.5V441.9M47 425.2V442.3M47.5 423.9V442.2M48 427.5V439.9M48.5 430.4V438.6M49 431.3V438.1M49.5 428.9V438.9M50 428.6V441.3M50.5 429.6V438.6M51 429.4V439.4M51.5 430.7V437.4M52 428.7V439.7M52.5 429.3V438.6M53 427.1V441.2M53.5 428.1V439.6M54 426.6V441.4M54.5 429.1V440.6M55 430.1V439.6M55.5 421.7V444.4M56 428.2V440.8M56.5 426.5V441.8M57 427.1V440.5M57.5 428.1V441.4M58 430.3V439.6M58.5 430.0V438.5M59 428.3V441.3M59.5 428.5V438.9M60 428.5V439.5M60.5 429.0V438.5M61 429.8V438.9M61.5 430.1V437.1M62 430.8V437.2M62.5 427.4V439.9M63 427.5V440.1M63.5 427.7V442.3M64 427.8V440.1M64.5 426.8V440.1M65 428.7V438.8M65.5 429.9V439.0M66 428.7V440.3M66.5 429.6V438.9M67 428.8V439.3M67.5 427.7V439.8M68 427.0V440.5M68.5 429.2V439.7M69 430.8V439.9M69.5 431.8V437.2M70 430.1V437.7M70.5 429.6V437.6M71 428.2V438.9M71.5 428.8V442.1M72 427.4V441.3M72.5 426.9V441.8M73 428.5V440.1M73.5 430.2V437.6M74 429.3V438.8M74.5 429.6V438.0M75 426.4V441.5M75.5 426.9V439.7M76 424.4V444.1M76.5 428.0V441.3M77 428.5V436.9M77.5 427.8V440.9M78 427.4V438.6M78.5 425.4V440.4M79 429.3V438.7M79.5 430.0V438.3M80 430.4V437.6M80.5 429.2V439.5M81 429.2V439.1M81.5 428.5V438.4M82 427.2V439.1M82.5 427.2V440.7M83 426.0V442.1M83.5 430.5V438.7M84 427.3V441.5M84.5 428.8V439.5M85 424.5V447.5M85.5 430.1V439.6M86 422.7V441.6M86.5 424.8V444.4M87 428.8V440.2M87.5 427.7V440.5M88 427.5V442.2M88.5 426.1V440.9M89 429.2V441.2M89.5 423.3V440.7M90 428.1V439.3M90.5 428.8V439.9M91 427.3V439.6M91.5 427.1V440.3M92 427.3V439.4M92.5 429.8V438.8M93 430.3V439.9M93.5 425.5V442.9M94 424.8V444.1M94.5 427.3V441.6M95 428.1V439.2M95.5 426.3V440.2M96 429.7V438.9M96.5 425.1V440.4M97 428.1V439.9M97.5 424.0V442.8M98 429.1V438.0M98.5 428.3V439.6M99 429.4V440.0M99.5 426.9V439.2M100 424.0V443.4M100.5 428.6V440.1M101 422.0V445.1M101.5 427.7V441.6M102 425.1V444.3M102.5 426.8V440.0M103 426.7V440.2M103.5 425.3V446.6M104 425.5V441.0M104.5 426.9V442.7M105 424.2V441.7M105.5 428.3V440.4M106 427.2V441.1M106.5 427.3V441.1M107 424.7V441.8M107.5 427.7V440.5M108 429.1V437.8M108.5 430.1V438.9M109 428.8V438.9M109.5 429.4V439.0M110 427.6V440.1M110.5 427.7V440.1M111 427.3V439.1M111.5 426.2V441.1M112 424.6V442.9M112.5 428.8V441.5M113 427.4V440.6M113.5 428.9V438.5M114 425.6V440.2M114.5 427.6V440.9M115 427.5V439.1M115.5 425.9V439.6M116 430.7V439.2M116.5 424.4V443.3M117 425.8V440.4M117.5 429.1V438.4M118 424.1V444.1M118.5 429.3V438.7M119 427.1V442.2M119.5 429.1V439.5M120 430.8V439.1M120.5 430.2V439.3M121 428.0V439.4M121.5 419.1V448.0M122 427.8V440.8M122.5 430.3V438.5M123 428.5V439.5M123.5 427.3V439.7M124 426.1V442.5M124.5 426.6V439.3M125 426.3V441.5M125.5 428.7V439.9M126 427.7V440.1M126.5 427.5V442.3M127 427.8V440.0M127.5 428.5V439.2M128 429.5V439.5M128.5 427.8V440.4M129 427.7V442.4M129.5 428.3V439.1M130 426.3V441.7M130.5 426.2V442.3M131 425.8V440.1M131.5 426.7V440.1M132 426.5V440.4M132.5 424.9V441.9M133 425.4V442.3M133.5 425.6V439.7M134 425.9V442.9M134.5 425.2V442.4M135 426.6V443.9M135.5 426.0V442.2M136 424.0V443.7M136.5 423.1V446.7M137 423.7V444.3M137.5 424.9V446.1M138 422.6V444.3M138.5 426.7V440.2M139 427.8V443.2M139.5 422.4V442.7M140 426.7V440.2M140.5 424.5V443.4M141 424.5V442.8M141.5 420.0V445.8M142 421.9V442.3M142.5 427.6V441.1M143 427.5V441.2M143.5 426.2V442.5M144 419.3V446.5M144.5 421.2V449.3M145 427.0V444.5M145.5 422.0V444.3M146 425.5V443.8M146.5 422.8V442.4M147 427.1V443.7M147.5 424.1V444.3M148 422.7V440.7M148.5 424.6V440.4M149 424.0V445.9M149.5 420.6V445.8M150 428.0V439.1M150.5 428.1V440.0M151 428.7V439.6M151.5 429.2V439.1M152 428.0V439.5M152.5 426.9V441.8M153 426.1V441.2M153.5 426.2V445.3M154 425.5V442.6M154.5 426.4V442.5M155 425.4V440.9M155.5 429.8V438.3M156 426.1V440.7M156.5 425.7V439.8M157 428.1V439.7M157.5 425.8V440.2M158 426.1V440.7M158.5 426.5V443.0M159 421.7V442.9M159.5 429.7V438.0M160 430.4V437.5M160.5 427.3V437.9M161 422.3V446.0M161.5 430.8V437.7M162 427.3V439.9M162.5 430.1V437.4M163 427.9V440.6M163.5 428.2V439.3M164 429.0V440.1M164.5 430.4V439.0M165 429.8V437.7M165.5 428.6V438.3M166 428.8V439.0M166.5 428.7V441.0M167 427.0V441.4M167.5 426.8V439.6M168 427.5V440.8M168.5 429.1V438.0M169 429.2V439.3M169.5 430.7V438.4M170 429.5V438.2M170.5 422.9V441.1M171 425.0V442.4M171.5 427.8V440.1M172 429.1V437.9M172.5 429.1V439.2M173 423.6V443.7M173.5 429.4V440.0M174 430.1V437.4M174.5 430.2V439.0M175 424.5V441.0M175.5 421.8V449.2M176 423.2V446.9M176.5 425.7V441.9M177 421.8V448.2M177.5 427.3V442.1M178 422.0V448.9M178.5 424.9V442.7M179 421.5V443.6M179.5 421.7V443.4M180 422.5V445.7M180.5 421.4V448.2M181 424.1V446.2M181.5 419.6V446.9M182 418.2V447.2M182.5 419.0V449.8M183 417.9V450.2M183.5 426.5V441.7M184 425.8V443.0M184.5 422.8V444.3M185 419.9V450.6M185.5 420.3V444.6M186 424.7V445.9M186.5 424.3V445.4M187 427.9V444.2M187.5 426.6V442.9M188 423.5V443.3M188.5 420.8V446.1M189 422.8V445.4M189.5 419.5V445.5M190 423.9V442.0M190.5 423.7V446.5M191 420.2V447.2M191.5 422.0V444.5M192 426.7V441.7M192.5 421.9V442.9M193 423.8V443.2M193.5 424.4V440.3M194 426.8V441.8M194.5 424.6V444.8M195 428.3V440.0M195.5 421.2V440.7M196 427.2V440.7M196.5 426.7V441.3M197 426.4V440.8M197.5 421.7V444.3M198 424.7V443.6M198.5 419.0V446.9M199 427.9V442.6M199.5 425.5V442.1M200 425.4V443.7M200.5 426.6V442.0M201 424.6V444.9M201.5 422.6V446.0M202 424.9V443.3M202.5 424.4V443.1M203 424.8V443.0M203.5 417.0V446.2M204 421.7V446.7M204.5 420.5V447.6M205 424.4V447.0M205.5 421.4V445.5M206 425.1V443.0M206.5 425.6V444.3M207 423.7V444.6M207.5 424.5V442.4M208 424.8V443.4M208.5 427.3V440.4M209 425.9V441.8M209.5 421.6V443.7M210 417.3V446.9M210.5 424.1V442.0M211 420.1V443.6M211.5 420.0V444.9M212 417.3V445.3M212.5 423.1V444.2M213 424.3V448.4M213.5 418.9V445.8M214 425.7V443.2M214.5 422.8V449.8M215 422.2V448.0M215.5 420.8V447.8M216 423.6V444.1M216.5 419.8V455.2M217 422.3V449.5M217.5 428.4V440.9M218 425.9V441.6M218.5 427.2V441.6M219 429.3V437.9M219.5 425.1V440.2M220 429.0V438.7M220.5 426.6V440.8M221 426.8V440.1M221.5 427.3V440.2M222 427.3V440.7M222.5 430.7V437.5M223 430.0V438.0M223.5 431.3V439.0M224 428.0V440.3M224.5 426.3V439.5M225 425.6V440.6M225.5 424.7V445.0M226 422.8V447.7M226.5 421.9V444.6M227 427.8V439.8M227.5 421.5V443.2M228 422.5V444.1M228.5 423.0V444.6M229 429.2V438.6M229.5 425.5V444.7M230 425.1V442.0M230.5 423.1V442.0M231 424.1V447.1M231.5 428.5V439.7M232 429.0V440.5M232.5 425.2V443.2M233 428.1V439.8M233.5 422.9V443.1M234 425.7V443.5M234.5 425.7V440.8M235 424.8V447.3M235.5 427.0V439.9M236 427.9V440.7M236.5 427.4V442.3M237 428.0V438.8M237.5 425.9V443.4M238 427.7V438.3M238.5 425.5V442.5M239 428.3V443.1M239.5 425.3V444.2M240 426.1V442.6M240.5 425.5V442.1M241 429.0V441.6M241.5 428.7V438.9M242 424.9V442.9M242.5 430.4V437.2M243 427.7V441.8M243.5 429.7V438.6M244 431.8V436.5M244.5 428.0V439.6M245 427.2V442.9M245.5 429.6V439.0M246 425.9V443.5M246.5 429.7V439.3M247 425.7V441.9M247.5 425.8V443.7M248 426.5V440.8M248.5 428.4V438.6M249 430.8V439.1M249.5 426.6V440.1M250 427.3V439.6M250.5 425.5V439.8M251 426.1V444.4M251.5 427.2V442.0M252 429.6V436.8M252.5 429.4V436.9M253 428.4V440.2M253.5 429.8V438.1M254 424.9V441.2M254.5 426.3V442.5M255 428.3V439.8M255.5 430.0V437.2M256 426.4V440.3M256.5 425.1V441.7M257 428.0V440.6M257.5 428.9V439.3M258 427.7V438.3M258.5 426.6V441.1M259 429.4V439.3M259.5 430.5V437.1M260 427.1V439.7M260.5 429.4V439.2M261 424.7V444.6M261.5 426.8V440.5M262 421.6V444.6M262.5 426.1V442.7M263 426.6V441.1M263.5 427.9V440.3M264 427.7V440.2M264.5 425.6V442.6M265 428.8V438.8M265.5 427.0V440.8M266 428.0V441.5M266.5 426.2V443.2M267 430.5V438.0M267.5 428.7V439.7M268 427.0V441.4M268.5 423.4V442.2M269 430.9V438.9M269.5 425.2V441.7M270 428.4V439.4M270.5 429.2V438.4M271 427.5V439.1M271.5 428.7V438.6M272 429.3V440.7M272.5 429.3V438.7M273 426.1V440.7M273.5 429.1V437.8M274 428.2V440.6M274.5 428.8V439.6M275 431.5V436.4M275.5 428.4V439.1M276 430.4V438.2M276.5 429.4V439.2M277 427.9V441.6M277.5 426.7V440.0M278 426.9V441.2M278.5 429.5V439.8M279 427.2V440.4M279.5 430.0V438.3M280 428.2V440.8M280.5 422.5V444.1M281 425.1V441.7M281.5 428.6V440.9M282 428.5V439.7M282.5 426.9V441.8M283 427.4V440.9M283.5 427.6V439.2M284 427.8V441.5M284.5 429.4V438.0M285 429.0V439.9M285.5 428.4V440.5M286 425.0V443.5M286.5 425.7V442.5M287 426.3V440.2M287.5 426.8V440.9M288 428.9V438.9M288.5 429.5V438.5M289 428.0V441.0M289.5 424.0V443.0M290 427.7V439.6M290.5 427.9V438.8M291 426.5V444.8M291.5 427.1V441.1M292 426.2V439.1M292.5 429.3V438.2M293 426.3V441.4M293.5 427.9V440.5M294 427.4V441.0M294.5 428.5V439.7M295 429.2V438.0M295.5 425.7V442.4M296 430.1V438.1M296.5 429.2V437.6M297 429.8V437.1M297.5 429.7V436.7M298 429.4V440.2M298.5 425.4V440.5M299 430.3V437.8M299.5 428.4V439.3M300 428.9V439.6M300.5 427.6V442.5M301 423.4V443.7M301.5 424.7V442.2M302 425.1V443.8M302.5 425.6V441.9M303 426.7V439.9M303.5 429.0V440.1M304 428.1V439.5M304.5 430.2V438.1M305 429.0V439.1M305.5 425.0V441.6M306 428.0V440.4M306.5 427.8V440.2M307 427.9V439.3M307.5 428.6V439.4M308 431.2V437.5M308.5 430.1V438.1M309 429.3V438.7M309.5 430.4V439.6M310 429.1V439.7M310.5 430.0V440.7M311 429.3V437.0M311.5 429.7V439.0M312 428.7V438.1M312.5 431.6V436.9M313 429.2V438.5M313.5 429.5V439.0M314 425.5V442.8M314.5 428.2V439.4M315 429.9V439.2M315.5 426.9V440.5M316 427.2V441.3M316.5 429.2V439.7M317 429.8V438.6M317.5 428.6V438.2M318 429.2V439.2M318.5 428.3V441.5M319 429.4V437.6M319.5 428.2V439.8M320 427.4V440.9M320.5 426.7V440.3M321 426.3V439.2M321.5 427.7V440.2M322 425.0V442.5M322.5 428.8V440.9M323 429.2V438.3M323.5 428.8V437.9M324 429.3V437.6M324.5 426.7V440.6M325 429.9V438.1M325.5 428.3V440.2M326 428.9V439.2M326.5 426.8V440.6M327 429.2V439.6M327.5 427.1V440.6M328 430.3V437.1M328.5 430.4V439.3M329 427.3V440.5M329.5 427.2V440.2M330 430.5V437.6M330.5 427.0V440.1M331 429.2V437.2M331.5 429.5V438.1M332 429.2V438.6M332.5 429.3V439.3M333 428.8V440.3M333.5 426.1V438.9M334 429.4V439.4M334.5 430.5V438.0M335 428.7V438.9M335.5 423.9V442.1M336 428.1V438.9M336.5 425.6V442.8M337 428.3V439.7M337.5 426.6V438.2M338 426.4V441.3M338.5 429.2V439.7M339 425.3V442.0M339.5 424.7V443.1M340 427.6V440.4M340.5 427.2V439.5M341 427.4V438.6M341.5 428.9V439.4M342 428.8V438.2M342.5 429.8V438.7M343 427.5V442.0M343.5 427.3V438.3M344 428.2V443.0M344.5 427.0V440.3M345 427.2V441.2M345.5 429.8V438.9M346 430.0V437.7M346.5 426.2V444.7M347 429.1V441.0M347.5 429.2V440.4M348 426.8V438.7M348.5 426.9V440.6M349 425.1V443.1M349.5 427.0V441.8M350 427.4V438.3M350.5 426.3V442.4M351 427.6V440.1M351.5 427.6V440.4M352 428.5V439.6M352.5 429.7V438.5M353 429.0V442.1M353.5 430.3V438.3M354 430.0V439.7M354.5 428.8V438.9M355 430.1V437.4M355.5 425.9V443.2M356 426.9V439.5M356.5 424.6V443.3M357 429.4V441.1M357.5 427.2V440.5M358 427.1V439.4M358.5 424.8V442.1M359 423.6V442.4M359.5 426.3V443.8M360 426.2V442.6M360.5 425.4V443.1M361 424.1V445.1M361.5 423.9V442.9M362 423.4V445.7M362.5 429.0V441.8M363 427.6V440.8M363.5 430.2V438.0M364 428.4V438.3M364.5 429.6V438.8M365 424.1V442.8M365.5 426.2V439.8M366 426.4V440.8M366.5 429.6V437.9M367 426.3V442.4M367.5 426.0V440.0M368 428.6V440.7M368.5 429.0V439.3M369 428.3V443.5M369.5 430.3V438.2M370 430.1V438.1M370.5 428.6V438.6M371 428.0V439.6M371.5 429.6V440.0M372 424.3V443.4M372.5 423.5V446.9M373 430.0V439.3M373.5 425.8V439.2M374 426.3V441.6M374.5 426.0V442.8M375 426.0V444.1M375.5 425.4V443.9M376 430.2V438.3M376.5 427.8V439.7M377 428.9V438.4M377.5 429.9V438.0M378 426.8V441.9M378.5 427.1V439.2M379 425.2V442.2M379.5 429.2V438.5M380 429.3V438.5M380.5 430.7V437.1M381 425.9V441.7M381.5 428.8V439.9M382 428.5V440.4M382.5 426.6V441.9M383 423.9V442.1M383.5 429.6V438.2M384 430.0V437.5M384.5 429.2V437.4M385 424.9V442.1M385.5 424.6V441.5M386 428.1V440.6M386.5 429.3V439.5M387 425.6V445.4M387.5 426.8V442.2M388 428.9V438.6M388.5 428.7V440.0M389 429.4V437.9M389.5 426.3V441.4M390 426.4V445.0M390.5 428.6V440.5M391 424.2V442.4M391.5 427.0V441.2M392 429.3V440.1M392.5 426.6V440.9M393 427.3V440.2M393.5 429.0V438.5M394 430.0V437.8M394.5 429.3V439.4M395 429.6V438.2M395.5 425.6V441.3M396 427.9V439.4M396.5 427.8V440.0M397 428.2V439.7M397.5 429.2V440.1M398 428.4V439.3M398.5 430.0V441.1M399 429.4V438.3M399.5 431.1V437.6M400 428.5V439.6M400.5 427.5V438.4M401 421.9V443.7M401.5 427.2V440.9M402 426.8V439.9M402.5 426.6V441.1M403 428.6V437.9M403.5 428.2V440.2M404 421.1V443.7M404.5 424.9V443.0M405 426.9V444.3M405.5 426.7V443.6M406 423.1V445.7M406.5 429.1V439.4M407 429.6V441.0M407.5 428.0V439.2M408 423.9V443.5M408.5 427.0V440.6M409 430.2V437.6M409.5 428.5V439.8M410 427.1V439.4M410.5 429.1V439.6M411 425.4V441.1M411.5 429.3V439.2M412 425.3V440.7M412.5 424.4V443.7M413 427.2V442.4M413.5 425.7V440.6M414 422.2V444.9M414.5 425.9V442.9M415 427.4V441.3M415.5 426.6V442.0M416 425.9V443.8M416.5 423.7V443.2M417 425.3V439.4M417.5 427.9V438.4M418 430.4V439.2M418.5 427.8V439.3M419 430.0V440.1M419.5 429.5V437.8M420 428.6V438.1M420.5 429.5V438.6M421 424.4V440.6M421.5 429.6V437.7M422 423.0V442.7M422.5 429.4V439.3M423 430.1V438.5M423.5 429.7V439.1M424 429.2V437.3M424.5 430.7V438.6M425 429.5V438.2M425.5 428.9V440.3M426 429.2V439.9M426.5 429.9V438.9M427 430.0V439.6M427.5 429.8V438.8M428 422.7V440.1M428.5 429.4V438.7M429 429.0V439.9M429.5 426.4V439.1M430 431.0V437.2M430.5 429.6V438.4M431 429.4V438.3M431.5 429.7V439.1M432 425.9V441.1M432.5 427.3V441.4M433 424.7V444.3M433.5 425.6V441.3M434 423.9V443.6M434.5 427.5V442.4M435 427.0V442.4M435.5 427.7V439.2M436 430.7V437.2M436.5 428.6V439.7M437 428.1V440.1M437.5 428.1V439.8M438 426.5V439.9M438.5 430.0V439.1M439 425.9V439.6M439.5 427.4V442.6M440 429.4V438.4M440.5 427.4V442.0M441 430.1V439.3M441.5 427.3V441.1M442 426.2V440.5M442.5 424.1V442.8M443 426.1V440.8M443.5 429.6V440.2M444 427.8V441.5M444.5 427.8V442.1M445 423.0V444.4M445.5 425.2V443.3M446 427.2V439.8M446.5 427.4V440.7M447 425.9V442.1M447.5 426.6V441.5M448 429.0V440.4M448.5 426.9V441.0M449 429.7V437.0M449.5 428.3V441.0M450 425.6V443.6M450.5 429.3V438.0M451 427.5V441.8M451.5 419.5V449.4M452 424.1V442.6M452.5 425.3V442.1M453 427.0V441.0M453.5 426.9V441.2M454 426.1V440.4M454.5 427.3V441.7M455 428.5V440.0M455.5 426.4V438.2M456 429.7V437.1M456.5 429.5V437.7M457 428.7V440.0M457.5 428.1V439.3M458 425.6V443.4M458.5 427.1V441.3M459 427.3V442.2M459.5 425.8V439.8M460 428.1V439.8M460.5 428.5V440.0M461 428.6V439.3M461.5 428.9V439.2M462 428.0V441.2M462.5 426.0V439.0M463 429.3V440.1M463.5 429.0V440.0M464 422.3V444.7M464.5 426.5V441.5M465 428.6V440.2M465.5 426.6V441.9M466 426.2V442.9M466.5 426.0V440.0M467 428.8V442.8M467.5 427.3V442.4M468 428.8V441.3M468.5 423.0V443.3M469 427.5V441.1M469.5 427.9V441.6M470 428.5V440.2M470.5 426.6V441.6M471 425.3V441.9M471.5 429.9V440.0M472 423.4V442.2M472.5 422.7V442.1M473 427.9V439.5M473.5 424.7V444.1M474 423.9V441.6M474.5 423.2V440.6M475 423.7V442.6M475.5 421.0V449.1M476 422.3V442.0M476.5 423.7V446.2M477 425.4V441.4M477.5 428.7V441.0M478 423.4V446.9M478.5 426.2V440.1M479 423.4V444.6M479.5 425.6V444.2M480 425.3V445.5M480.5 418.1V448.1M481 420.5V443.9M481.5 417.2V452.6M482 426.0V441.6M482.5 425.3V441.6M483 423.5V443.5M483.5 420.8V447.8M484 420.3V446.0M484.5 427.3V440.8M485 426.0V442.4M485.5 427.6V442.9M486 424.5V447.3M486.5 418.3V450.9M487 413.7V456.7M487.5 421.1V447.8M488 423.6V442.6M488.5 427.5V442.6M489 427.9V440.3M489.5 429.5V438.4M490 428.1V441.0M490.5 428.3V439.0M491 430.3V439.3M491.5 430.4V437.3M492 428.5V440.9M492.5 427.6V438.9M493 424.7V440.9M493.5 427.6V442.4M494 427.0V441.7M494.5 430.1V438.0M495 426.1V439.6M495.5 426.1V441.1M496 428.4V439.6M496.5 430.5V437.9M497 425.3V444.4M497.5 423.5V440.6M498 427.3V439.5M498.5 430.3V438.3M499 430.5V438.1M499.5 425.6V442.2M500 426.9V441.4M500.5 425.1V443.2M501 425.3V440.1M501.5 422.9V444.0M502 426.5V445.4M502.5 427.8V441.2M503 428.4V439.4M503.5 426.1V447.6M504 429.3V444.9M504.5 430.0V438.8M505 423.9V446.8M505.5 427.0V441.3M506 426.0V442.9M506.5 425.8V441.2M507 422.7V447.2M507.5 425.6V441.7M508 429.7V442.5M508.5 425.8V443.2M509 428.5V439.8M509.5 426.2V439.1M510 426.4V440.6M510.5 430.3V439.9M511 426.1V442.9M511.5 419.9V444.2M512 420.5V453.1M512.5 424.8V443.7M513 421.9V448.2M513.5 426.1V441.1M514 419.2V445.3M514.5 417.0V446.8M515 425.4V441.5M515.5 420.8V447.4M516 426.6V444.2M516.5 426.2V444.4M517 427.2V441.2M517.5 424.8V445.9M518 422.8V442.9M518.5 424.0V445.0M519 424.6V445.3M519.5 426.9V442.6M520 423.7V444.4M520.5 423.5V443.1M521 420.4V446.0M521.5 423.7V446.1M522 425.3V442.5M522.5 419.2V450.4M523 424.4V444.9M523.5 424.7V443.2M524 425.4V444.8M524.5 426.2V444.4M525 426.2V444.7M525.5 427.2V441.3M526 420.6V448.4M526.5 428.1V441.3M527 425.6V443.0M527.5 422.3V445.3M528 427.8V438.9M528.5 429.2V439.9M529 426.2V441.5M529.5 423.4V443.4M530 423.5V443.3M530.5 427.9V441.1M531 423.9V443.0M531.5 418.3V450.7M532 426.5V444.0M532.5 423.7V442.4M533 426.3V443.7M533.5 425.7V439.8M534 419.8V452.5M534.5 423.5V445.8M535 422.0V443.9M535.5 427.2V443.7M536 422.9V442.8M536.5 427.4V441.9M537 423.4V442.5M537.5 424.2V447.4M538 426.7V440.3M538.5 423.1V445.6M539 427.2V447.3M539.5 423.3V444.9M540 426.5V444.3M540.5 425.6V442.4M541 425.4V441.9M541.5 425.4V440.7M542 426.2V441.4M542.5 426.9V442.7M543 426.4V440.6M543.5 420.9V444.8M544 426.2V441.4M544.5 422.0V445.4M545 425.9V441.8M545.5 426.2V444.8M546 423.3V444.0M546.5 423.3V445.2M547 427.2V441.5M547.5 422.8V442.4M548 426.6V444.5M548.5 424.4V444.6M549 416.9V446.1M549.5 421.7V445.8M550 416.7V447.3M550.5 417.0V455.7M551 422.8V443.8M551.5 419.1V446.7M552 426.8V442.5M552.5 425.5V441.4M553 421.2V444.6M553.5 420.5V452.2M554 421.7V447.1M554.5 426.0V443.2M555 427.3V442.1M555.5 425.1V442.2M556 419.1V444.2M556.5 424.9V445.9M557 418.5V449.3M557.5 420.1V443.0M558 420.7V442.5M558.5 423.1V443.5M559 420.8V448.5M559.5 423.4V446.0M560 422.4V452.0M560.5 422.5V443.1M561 420.5V445.5M561.5 424.0V446.1M562 425.1V447.6M562.5 423.7V446.6M563 420.5V442.8M563.5 422.3V451.3M564 423.1V444.2M564.5 421.2V449.4M565 423.5V445.6M565.5 426.0V444.2M566 422.4V443.7M566.5 416.7V449.4M567 425.0V442.2M567.5 424.7V441.5M568 417.6V451.4M568.5 426.8V445.0M569 420.6V447.1M569.5 419.6V448.2M570 423.8V444.7M570.5 426.2V444.2M571 424.7V442.1M571.5 427.5V440.3M572 422.2V448.5M572.5 421.8V443.6M573 425.9V442.9M573.5 420.3V449.3M574 414.7V447.9M574.5 417.9V449.0M575 413.7V449.9M575.5 421.8V451.2M576 428.8V445.1M576.5 415.2V450.1M577 418.8V451.5M577.5 427.3V441.1M578 424.8V444.0M578.5 421.7V447.4M579 415.4V450.4M579.5 420.9V445.8M580 419.9V445.3M580.5 424.1V447.9M581 415.8V458.0M581.5 414.1V450.5M582 415.7V452.6M582.5 413.7V448.5M583 418.9V450.4M583.5 420.5V443.8M584 410.1V453.7M584.5 419.2V450.4M585 416.4V444.3M585.5 421.4V449.2M586 418.1V451.3M586.5 408.4V454.5M587 417.0V450.9M587.5 418.8V450.3M588 408.8V455.0M588.5 407.0V457.3M589 415.2V452.0M589.5 408.8V459.4M590 419.1V452.1M590.5 405.5V457.3M591 415.5V456.3M591.5 423.4V447.3M592 406.7V467.0M592.5 418.9V452.8M593 408.8V457.8M593.5 421.8V452.9M594 418.4V447.1M594.5 410.6V453.5M595 413.7V458.2M595.5 424.0V441.9M596 415.7V449.4M596.5 428.0V440.1M597 418.4V447.4M597.5 420.3V444.8M598 424.9V442.5M598.5 422.4V447.9M599 423.9V442.1M599.5 423.2V445.6M600 419.7V445.6M600.5 428.2V440.4M601 427.4V439.3M601.5 428.2V441.0M602 428.2V440.6M602.5 426.1V438.3M603 426.9V440.4M603.5 426.1V440.0M604 421.8V444.9M604.5 426.2V442.2M605 429.2V442.7M605.5 428.0V440.0M606 427.1V440.0M606.5 423.9V444.6M607 422.9V446.6M607.5 427.9V441.2M608 427.2V439.5M608.5 427.6V440.8M609 424.1V446.6M609.5 422.3V444.9M610 419.1V449.6M610.5 425.4V445.3M611 415.0V455.6M611.5 412.6V454.3M612 422.7V441.4M612.5 417.6V448.6M613 421.2V443.8M613.5 420.2V443.1M614 429.3V439.7M614.5 428.2V440.4M615 428.4V439.7M615.5 427.6V441.2M616 428.0V440.5M616.5 427.4V441.6M617 426.2V442.9M617.5 427.1V440.8M618 424.9V440.8M618.5 426.5V442.1M619 428.8V439.2M619.5 428.8V438.1M620 426.7V442.0M620.5 428.0V439.0M621 427.6V442.5M621.5 424.4V446.4M622 424.1V445.4M622.5 417.2V449.0M623 428.1V441.3M623.5 427.0V443.6M624 425.8V442.7M624.5 427.2V440.9M625 429.6V439.4M625.5 429.3V436.7M626 427.6V441.1M626.5 428.2V439.2M627 426.8V441.5M627.5 426.6V441.7M628 425.1V441.3M628.5 428.6V440.0M629 427.0V438.7M629.5 426.4V440.5M630 426.2V440.5M630.5 428.2V440.4M631 422.2V448.5M631.5 420.8V443.8M632 426.1V441.4M632.5 426.1V442.4M633 425.7V442.1M633.5 427.6V441.6M634 422.6V452.2M634.5 423.5V447.7M635 427.3V441.3M635.5 426.3V443.2M636 427.2V439.2M636.5 424.3V443.7M637 426.9V442.7M637.5 429.5V441.4M638 422.6V445.7M638.5 420.6V447.0M639 423.0V442.9M639.5 428.5V439.3M640 427.0V441.0M640.5 429.7V439.1M641 427.2V439.7M641.5 429.1V438.7M642 427.9V440.6M642.5 424.6V441.7M643 426.0V441.3M643.5 427.9V440.5M644 428.3V439.5M644.5 428.5V438.7M645 428.1V438.5M645.5 427.4V441.0" fill="none" stroke="#0000ff" stroke-width="0.5" stroke-opacity="0.55"/>
<path d="M43.5 429.3V439.8M44 430.5V438.9M44.5 429.9V438.2M45 429.2V439.4M45.5 429.8V440.1M46 428.4V439.1M46.5 428.6V439.4M47 428.1V439.0M47.5 428.3V439.5M48 428.5V439.0M48.5 429.5V437.9M49 429.5V439.0M49.5 429.9V438.0M50 429.9V437.8M50.5 430.5V437.5M51 430.1V439.7M51.5 429.8V437.2M52 430.2V437.0M52.5 429.7V437.6M53 429.8V437.3M53.5 429.6V437.8M54 428.8V439.2M54.5 429.5V439.7M55 429.9V437.9M55.5 428.9V439.3M56 427.5V439.3M56.5 427.3V439.4M57 428.1V439.6M57.5 429.5V438.3M58 429.2V439.1M58.5 430.0V439.6M59 429.8V438.6M59.5 428.0V438.8M60 429.3V440.2M60.5 429.6V438.5M61 429.3V437.3M61.5 430.1V437.7M62 430.3V439.1M62.5 428.7V438.5M63 428.1V439.1M63.5 429.7V439.1M64 429.9V438.4M64.5 428.7V440.1M65 429.5V438.7M65.5 428.4V440.1M66 429.5V439.2M66.5 429.1V438.9M67 428.7V439.4M67.5 429.5V439.6M68 428.1V440.0M68.5 430.0V438.0M69 429.8V437.7M69.5 430.1V438.7M70 430.7V438.1M70.5 429.1V439.0M71 429.8V437.6M71.5 429.5V439.0M72 429.5V438.5M72.5 428.8V438.1M73 430.1V438.7M73.5 428.9V437.3M74 429.2V438.7M74.5 428.9V439.3M75 428.2V439.7M75.5 428.0V438.5M76 429.5V439.7M76.5 428.6V438.3M77 429.3V440.5M77.5 429.6V439.3M78 428.6V439.5M78.5 427.2V438.7M79 429.3V439.2M79.5 429.8V438.5M80 429.8V439.0M80.5 429.2V439.8M81 430.3V439.0M81.5 429.0V438.4M82 428.6V439.5M82.5 428.7V439.8M83 428.8V440.2M83.5 430.5V439.5M84 428.2V440.4M84.5 427.3V439.8M85 427.8V439.6M85.5 428.2V439.7M86 427.8V440.4M86.5 428.1V439.5M87 427.6V439.7M87.5 429.8V439.3M88 429.1V439.4M88.5 428.0V439.8M89 428.7V440.7M89.5 428.9V439.7M90 429.1V439.5M90.5 427.3V440.4M91 428.4V439.2M91.5 429.3V440.1M92 428.5V439.3M92.5 429.4V438.9M93 429.3V438.8M93.5 428.1V440.4M94 429.6V439.1M94.5 428.7V438.2M95 427.4V440.3M95.5 429.5V438.8M96 429.8V439.9M96.5 430.1V439.5M97 428.4V438.7M97.5 429.1V438.4M98 429.0V438.8M98.5 428.9V440.4M99 428.6V437.2M99.5 429.8V437.9M100 429.1V439.7M100.5 426.7V439.8M101 428.1V439.2M101.5 428.7V441.2M102 428.7V441.1M102.5 428.2V440.7M103 427.4V439.8M103.5 426.9V439.6M104 429.3V440.9M104.5 429.2V438.9M105 429.0V439.9M105.5 427.4V439.6M106 428.2V439.1M106.5 428.2V440.5M107 429.8V439.2M107.5 428.0V438.5M108 428.1V439.9M108.5 429.3V439.6M109 429.4V439.5M109.5 429.7V439.6M110 428.4V439.3M110.5 426.7V438.9M111 428.9V440.6M111.5 427.7V439.4M112 428.0V438.5M112.5 428.4V438.6M113 428.6V440.4M113.5 429.6V438.8M114 428.5V440.5M114.5 427.6V438.6M115 428.9V438.9M115.5 429.4V438.9M116 430.5V439.5M116.5 428.1V438.6M117 429.7V439.0M117.5 429.7V439.0M118 427.3V440.5M118.5 428.7V439.7M119 428.0V440.2M119.5 428.4V438.2M120 428.7V438.5M120.5 428.9V439.0M121 428.9V438.5M121.5 428.0V438.6M122 429.0V437.9M122.5 428.5V438.6M123 429.1V438.8M123.5 429.3V438.2M124 428.2V438.6M124.5 429.9V439.1M125 429.2V438.7M125.5 428.7V439.2M126 429.1V439.5M126.5 428.6V439.5M127 428.6V438.6M127.5 429.1V439.4M128 428.4V439.2M128.5 429.7V437.9M129 429.9V438.0M129.5 429.6V439.5M130 430.1V439.2M130.5 429.6V439.0M131 428.8V438.6M131.5 429.9V439.4M132 428.4V439.1M132.5 427.3V439.5M133 426.7V441.3M133.5 425.6V442.4M134 427.8V441.5M134.5 428.2V440.5M135 426.9V441.5M135.5 427.1V439.4M136 428.8V440.4M136.5 427.7V439.8M137 427.6V440.6M137.5 428.5V441.5M138 426.9V439.9M138.5 427.7V441.0M139 425.2V444.6M139.5 426.9V441.3M140 427.8V441.7M140.5 424.4V443.6M141 426.0V441.3M141.5 425.7V442.7M142 428.4V442.1M142.5 426.6V441.9M143 427.1V441.4M143.5 426.6V439.9M144 425.0V439.4M144.5 428.0V441.5M145 424.7V443.8M145.5 425.6V441.8M146 426.3V442.3M146.5 428.2V440.9M147 426.2V440.7M147.5 427.7V439.6M148 426.1V442.1M148.5 425.8V442.8M149 428.3V439.8M149.5 427.8V440.6M150 426.8V441.2M150.5 426.5V440.3M151 429.3V439.1M151.5 429.3V439.9M152 429.9V440.2M152.5 426.6V440.3M153 428.5V438.9M153.5 427.9V438.6M154 428.2V439.4M154.5 428.2V439.5M155 428.5V438.8M155.5 428.2V439.5M156 428.6V439.1M156.5 429.0V439.6M157 428.4V439.1M157.5 427.4V439.5M158 428.4V440.8M158.5 429.3V440.5M159 428.2V439.2M159.5 428.3V438.7M160 428.6V437.7M160.5 428.1V439.5M161 429.7V439.5M161.5 428.8V440.1M162 427.9V438.8M162.5 429.3V439.2M163 429.7V439.1M163.5 429.5V436.7M164 428.3V439.9M164.5 429.2V439.7M165 429.6V438.7M165.5 429.4V438.9M166 430.3V438.5M166.5 428.8V438.3M167 429.2V439.5M167.5 428.6V438.2M168 428.4V439.3M168.5 428.7V437.6M169 429.1V438.2M169.5 429.4V437.9M170 430.1V438.5M170.5 429.1V440.0M171 428.7V440.6M171.5 427.5V440.7M172 430.2V438.2M172.5 428.9V439.4M173 430.2V439.3M173.5 429.1V439.2M174 429.7V437.9M174.5 429.0V438.8M175 428.7V440.6M175.5 426.6V441.9M176 425.5V441.9M176.5 423.6V445.2M177 425.7V443.4M177.5 427.5V442.9M178 426.7V440.4M178.5 422.0V443.5M179 426.2V442.9M179.5 425.1V447.3M180 425.2V442.5M180.5 426.6V441.9M181 425.1V440.3M181.5 427.3V444.9M182 426.9V443.1M182.5 425.6V442.1M183 427.3V442.9M183.5 425.2V442.8M184 425.2V441.8M184.5 424.8V440.8M185 422.3V445.3M185.5 424.8V445.7M186 424.4V443.4M186.5 423.5V443.5M187 424.4V442.1M187.5 427.5V441.5M188 428.4V443.3M188.5 425.8V441.5M189 424.5V441.4M189.5 424.3V442.7M190 427.3V442.8M190.5 423.2V442.2M191 425.2V444.1M191.5 425.9V443.3M192 428.1V443.0M192.5 426.2V440.7M193 426.0V441.1M193.5 429.6V441.4M194 426.9V439.6M194.5 429.7V439.2M195 428.9V441.8M195.5 429.7V440.9M196 427.6V442.9M196.5 428.3V439.5M197 429.2V439.6M197.5 429.5V442.5M198 426.1V443.1M198.5 425.7V441.1M199 428.0V443.9M199.5 426.2V443.4M200 427.8V442.7M200.5 427.7V441.2M201 425.2V441.2M201.5 426.9V441.0M202 427.6V440.8M202.5 427.4V440.8M203 425.2V445.7M203.5 424.8V444.2M204 426.3V442.4M204.5 424.0V442.5M205 427.1V440.2M205.5 426.1V441.5M206 427.0V442.4M206.5 429.1V443.7M207 426.5V441.3M207.5 425.2V441.0M208 425.8V440.9M208.5 426.3V441.9M209 425.3V440.2M209.5 425.6V441.5M210 425.5V441.5M210.5 428.0V443.3M211 426.8V444.1M211.5 425.1V442.1M212 421.6V442.4M212.5 425.9V442.6M213 429.2V442.4M213.5 426.4V445.7M214 427.4V444.8M214.5 427.6V442.0M215 423.8V442.3M215.5 426.7V442.5M216 425.2V444.0M216.5 425.6V443.7M217 423.3V442.6M217.5 428.7V439.7M218 427.6V440.5M218.5 427.3V438.5M219 429.7V439.5M219.5 429.0V440.2M220 429.9V438.1M220.5 429.3V438.9M221 427.3V441.4M221.5 428.1V438.8M222 428.5V439.6M222.5 429.2V439.8M223 428.8V438.8M223.5 428.9V438.9M224 428.5V440.2M224.5 428.5V439.6M225 429.1V440.9M225.5 426.4V440.7M226 428.4V441.8M226.5 427.0V442.3M227 427.3V441.3M227.5 426.9V441.7M228 427.8V440.5M228.5 428.4V440.6M229 427.2V440.3M229.5 426.3V439.8M230 426.7V441.3M230.5 426.6V439.1M231 426.8V441.2M231.5 428.1V440.9M232 428.4V439.7M232.5 427.9V439.8M233 428.4V439.9M233.5 426.8V439.6M234 425.8V441.1M234.5 426.3V441.1M235 428.2V440.6M235.5 427.8V440.1M236 429.6V439.3M236.5 428.8V439.5M237 427.4V442.4M237.5 428.1V441.0M238 428.5V440.1M238.5 428.2V438.7M239 428.6V439.0M239.5 427.0V439.4M240 428.8V440.3M240.5 427.7V438.8M241 429.3V439.4M241.5 428.1V439.5M242 428.6V439.8M242.5 429.5V439.2M243 429.5V438.3M243.5 429.9V438.1M244 429.5V437.7M244.5 429.2V438.3M245 429.4V438.3M245.5 428.6V438.2M246 429.3V438.2M246.5 429.6V439.7M247 428.1V438.7M247.5 428.0V438.7M248 429.0V438.6M248.5 429.1V438.7M249 429.5V437.6M249.5 428.9V439.4M250 429.9V438.3M250.5 429.8V438.4M251 428.5V438.8M251.5 429.7V438.8M252 429.1V439.2M252.5 428.8V439.1M253 430.5V439.3M253.5 429.3V438.2M254 429.3V438.5M254.5 428.6V438.7M255 429.0V438.2M255.5 429.3V438.2M256 429.2V439.3M256.5 429.5V439.0M257 428.6V439.7M257.5 428.4V438.4M258 429.7V439.7M258.5 429.2V439.6M259 429.5V439.8M259.5 429.0V439.6M260 429.6V439.0M260.5 428.6V438.9M261 428.8V438.5M261.5 427.8V438.9M262 427.7V439.6M262.5 429.3V439.2M263 428.5V440.1M263.5 428.4V439.2M264 428.2V440.0M264.5 429.7V438.4M265 429.0V439.4M265.5 428.1V439.2M266 429.3V438.9M266.5 429.7V438.7M267 428.9V439.2M267.5 429.0V438.8M268 429.6V439.3M268.5 428.9V438.9M269 427.6V439.8M269.5 429.3V438.3M270 429.1V437.9M270.5 428.9V439.5M271 429.0V438.8M271.5 429.2V439.0M272 429.0V438.7M272.5 427.7V438.3M273 430.3V438.9M273.5 428.9V438.5M274 428.2V439.6M274.5 429.8V438.6M275 428.6V437.9M275.5 429.1V439.2M276 428.6V438.5M276.5 429.6V438.0M277 428.5V439.2M277.5 428.2V438.8M278 430.0V438.4M278.5 430.3V439.3M279 429.7V438.7M279.5 429.6V439.6M280 429.1V439.8M280.5 427.6V440.2M281 427.2V438.3M281.5 429.2V438.4M282 429.4V437.6M282.5 428.4V438.8M283 429.1V438.1M283.5 429.1V438.7M284 430.2V437.7M284.5 430.2V437.6M285 429.1V439.7M285.5 428.7V439.4M286 428.9V437.7M286.5 428.5V440.0M287 429.3V438.0M287.5 429.6V439.6M288 428.5V439.7M288.5 430.0V438.8M289 428.6V439.2M289.5 429.3V438.3M290 428.1V438.7M290.5 429.3V439.3M291 429.6V439.3M291.5 429.7V437.9M292 429.2V438.2M292.5 429.6V438.6M293 429.9V438.9M293.5 430.2V437.9M294 430.4V438.1M294.5 429.6V438.3M295 430.4V438.0M295.5 429.7V438.2M296 429.5V438.3M296.5 431.1V438.1M297 430.2V437.3M297.5 430.0V437.8M298 430.4V437.6M298.5 430.0V438.1M299 431.1V438.6M299.5 429.7V438.2M300 428.8V437.5M300.5 428.4V439.9M301 429.5V439.3M301.5 427.2V441.2M302 428.9V439.4M302.5 427.8V440.1M303 429.2V440.2M303.5 428.0V438.4M304 429.1V438.7M304.5 429.2V439.6M305 428.9V439.5M305.5 428.6V440.3M306 428.5V439.7M306.5 429.0V438.9M307 428.5V437.3M307.5 429.9V438.9M308 430.5V438.7M308.5 430.0V437.3M309 430.2V438.2M309.5 429.7V437.8M310 430.1V437.7M310.5 430.0V438.1M311 428.8V438.9M311.5 430.3V438.2M312 431.1V437.9M312.5 429.9V437.8M313 429.4V437.3M313.5 429.7V438.2M314 430.1V437.3M314.5 429.0V439.2M315 429.9V438.0M315.5 429.5V439.1M316 430.5V439.5M316.5 428.7V438.7M317 429.8V439.1M317.5 430.4V438.4M318 430.6V438.8M318.5 429.1V438.8M319 428.5V438.6M319.5 428.5V438.3M320 429.9V439.1M320.5 430.8V439.2M321 429.8V436.6M321.5 429.7V437.9M322 428.8V438.0M322.5 429.6V438.1M323 429.9V438.5M323.5 429.6V438.6M324 429.7V438.8M324.5 430.2V438.7M325 429.3V438.1M325.5 428.8V439.5M326 429.0V437.9M326.5 428.5V438.6M327 429.6V439.3M327.5 429.0V439.3M328 429.4V438.8M328.5 429.4V437.8M329 429.6V439.4M329.5 428.8V438.7M330 429.9V438.8M330.5 429.3V439.2M331 429.0V438.5M331.5 428.9V439.0M332 429.3V438.1M332.5 429.1V438.8M333 428.4V439.8M333.5 428.4V439.0M334 430.0V440.3M334.5 430.3V437.6M335 429.6V438.8M335.5 428.3V438.9M336 429.4V440.2M336.5 429.6V441.2M337 427.8V439.1M337.5 428.0V439.9M338 428.9V440.2M338.5 428.9V439.1M339 427.4V439.6M339.5 428.5V438.2M340 428.5V439.3M340.5 428.4V438.7M341 429.4V439.4M341.5 429.1V438.6M342 429.9V438.0M342.5 429.6V439.0M343 428.9V439.7M343.5 428.0V439.4M344 427.9V437.6M344.5 429.0V439.6M345 427.5V438.4M345.5 429.6V439.4M346 430.3V437.8M346.5 429.1V438.3M347 428.9V438.3M347.5 430.3V438.5M348 429.7V439.0M348.5 428.9V438.6M349 428.6V438.5M349.5 428.0V438.6M350 429.6V438.8M350.5 429.1V438.6M351 429.4V439.0M351.5 428.5V439.7M352 428.4V439.9M352.5 427.6V438.0M353 430.3V439.0M353.5 430.5V437.8M354 430.1V439.2M354.5 430.0V438.5M355 429.2V437.6M355.5 428.7V439.5M356 426.2V441.0M356.5 427.6V441.3M357 428.0V439.9M357.5 427.0V439.9M358 426.0V439.6M358.5 426.8V440.1M359 426.9V440.6M359.5 428.0V440.5M360 428.1V440.3M360.5 428.3V438.3M361 429.3V439.0M361.5 427.1V441.2M362 429.2V439.5M362.5 429.0V439.6M363 428.3V439.1M363.5 429.3V438.4M364 429.4V438.6M364.5 430.8V438.4M365 427.7V438.1M365.5 429.4V439.0M366 429.4V438.8M366.5 430.2V439.6M367 428.8V438.5M367.5 431.0V438.0M368 430.0V437.9M368.5 430.3V438.4M369 429.8V438.0M369.5 428.7V438.0M370 430.3V437.4M370.5 428.6V439.2M371 429.2V438.5M371.5 427.6V439.2M372 428.6V440.3M372.5 427.1V440.5M373 427.5V439.6M373.5 428.0V440.3M374 428.5V439.9M374.5 428.8V439.8M375 427.8V438.9M375.5 427.5V438.2M376 428.1V440.2M376.5 430.4V440.2M377 430.2V439.0M377.5 429.0V439.2M378 428.2V439.2M378.5 428.4V438.8M379 427.9V439.7M379.5 428.5V438.9M380 429.7V438.5M380.5 429.2V438.9M381 429.0V439.5M381.5 428.7V438.9M382 428.5V438.8M382.5 426.0V439.5M383 428.0V438.0M383.5 428.8V439.0M384 429.5V438.7M384.5 429.2V439.3M385 428.8V440.0M385.5 427.8V439.3M386 428.3V439.7M386.5 428.1V440.4M387 428.5V439.1M387.5 427.5V439.3M388 429.9V439.8M388.5 429.0V440.3M389 428.4V439.1M389.5 428.4V438.8M390 428.8V440.2M390.5 427.8V441.7M391 427.0V441.2M391.5 428.5V439.9M392 429.2V439.4M392.5 430.4V439.7M393 428.9V439.0M393.5 429.0V438.6M394 430.3V438.6M394.5 428.4V438.4M395 429.1V439.0M395.5 429.2V438.6M396 428.9V439.0M396.5 429.3V437.1M397 429.3V438.5M397.5 429.8V438.3M398 430.2V436.7M398.5 430.3V438.0M399 429.5V437.5M399.5 429.0V438.3M400 428.9V439.2M400.5 428.6V438.6M401 428.7V438.2M401.5 428.7V439.2M402 427.9V440.0M402.5 429.4V438.5M403 429.7V439.8M403.5 429.0V439.4M404 428.8V438.7M404.5 428.0V439.5M405 427.4V442.5M405.5 428.2V438.2M406 428.1V441.6M406.5 428.2V440.2M407 427.9V439.8M407.5 429.4V438.8M408 429.1V440.4M408.5 428.8V440.5M409 427.2V439.7M409.5 429.0V439.1M410 427.6V439.6M410.5 429.1V440.1M411 429.1V439.7M411.5 428.5V439.6M412 429.0V440.2M412.5 427.7V440.4M413 428.3V441.3M413.5 428.7V438.4M414 427.7V443.0M414.5 426.9V439.7M415 427.3V441.0M415.5 429.2V440.6M416 427.4V438.8M416.5 429.4V440.5M417 429.7V439.2M417.5 428.2V440.4M418 428.3V438.0M418.5 428.7V439.4M419 429.5V439.2M419.5 430.3V438.1M420 429.8V439.1M420.5 428.4V439.2M421 428.6V439.8M421.5 430.3V438.7M422 429.1V438.4M422.5 429.1V438.7M423 429.0V438.8M423.5 430.0V438.8M424 429.1V438.3M424.5 429.7V438.6M425 430.3V438.1M425.5 429.2V438.0M426 429.3V437.8M426.5 430.4V438.9M427 429.3V438.3M427.5 430.1V438.5M428 429.5V438.1M428.5 428.7V438.7M429 429.8V438.3M429.5 429.9V438.9M430 428.6V438.9M430.5 428.8V439.3M431 428.6V438.7M431.5 427.6V439.8M432 425.4V439.3M432.5 427.7V440.3M433 427.5V440.2M433.5 429.1V438.0M434 426.3V439.5M434.5 428.4V441.2M435 428.8V439.5M435.5 428.4V439.3M436 429.5V438.8M436.5 429.3V438.7M437 428.5V439.6M437.5 429.3V440.0M438 427.7V440.1M438.5 429.6V437.7M439 428.1V438.6M439.5 428.9V438.9M440 429.3V436.5M440.5 428.8V439.5M441 430.0V440.7M441.5 428.9V438.3M442 429.5V439.8M442.5 427.5V439.4M443 428.5V441.4M443.5 427.9V439.4M444 429.3V438.1M444.5 427.9V438.1M445 427.8V439.8M445.5 428.4V439.5M446 427.4V440.4M446.5 429.5V439.6M447 429.0V439.0M447.5 427.9V440.5M448 426.5V440.6M448.5 429.6V438.7M449 430.0V439.8M449.5 427.9V439.3M450 428.0V439.1M450.5 428.3V439.0M451 427.6V440.9M451.5 427.6V439.8M452 428.9V440.1M452.5 428.4V438.6M453 427.7V439.9M453.5 428.1V440.6M454 429.6V438.8M454.5 429.8V440.2M455 429.6V439.5M455.5 428.8V437.7M456 428.4V437.7M456.5 428.7V439.7M457 427.6V439.0M457.5 427.4V439.4M458 428.0V439.6M458.5 428.3V439.6M459 428.6V439.1M459.5 428.6V438.9M460 429.4V438.6M460.5 428.5V439.6M461 429.4V440.5M461.5 428.8V438.4M462 429.5V439.8M462.5 428.6V439.4M463 428.6V438.1M463.5 428.4V439.0M464 427.7V439.7M464.5 429.0V440.5M465 428.9V439.7M465.5 429.9V439.8M466 427.9V440.2M466.5 427.9V439.1M467 428.3V439.5M467.5 428.5V440.1M468 428.7V438.4M468.5 426.3V439.3M469 427.4V440.3M469.5 427.5V440.0M470 428.0V440.7M470.5 428.6V439.1M471 429.7V439.8M471.5 428.6V438.3M472 427.8V441.0M472.5 428.5V441.1M473 427.5V442.1M473.5 428.2V438.4M474 426.9V438.5M474.5 428.0V440.7M475 428.9V440.9M475.5 427.9V441.1M476 428.6V441.3M476.5 427.9V441.0M477 427.9V440.5M477.5 425.9V439.0M478 425.7V440.2M478.5 427.5V441.5M479 426.4V440.4M479.5 428.3V442.2M480 425.8V444.5M480.5 423.3V446.7M481 424.5V441.4M481.5 426.4V440.6M482 425.1V440.7M482.5 426.6V444.0M483 427.1V442.8M483.5 424.0V439.5M484 423.8V440.2M484.5 425.7V441.8M485 425.8V441.2M485.5 426.6V443.3M486 427.1V441.1M486.5 427.2V443.8M487 427.5V441.4M487.5 426.5V439.9M488 427.1V440.5M488.5 428.5V440.8M489 426.9V440.0M489.5 428.8V439.0M490 430.2V437.2M490.5 428.3V439.2M491 428.7V438.7M491.5 428.6V438.2M492 427.8V439.3M492.5 428.5V439.4M493 426.7V438.8M493.5 429.4V439.9M494 427.5V437.5M494.5 427.9V440.4M495 429.2V439.7M495.5 429.2V439.4M496 429.8V438.7M496.5 430.3V438.2M497 428.1V438.6M497.5 428.7V440.1M498 428.6V439.0M498.5 428.7V438.3M499 428.9V439.3M499.5 428.3V440.6M500 428.4V439.7M500.5 426.8V440.4M501 427.0V440.2M501.5 427.3V439.9M502 428.1V440.7M502.5 428.4V439.2M503 427.5V440.7M503.5 427.8V441.1M504 425.6V441.8M504.5 427.0V440.8M505 427.9V439.1M505.5 426.5V439.7M506 427.9V441.1M506.5 428.7V438.4M507 429.6V438.2M507.5 428.5V440.5M508 428.3V439.4M508.5 427.2V438.1M509 429.4V438.3M509.5 427.1V439.5M510 428.1V438.4M510.5 428.6V440.5M511 428.4V440.8M511.5 427.7V439.8M512 427.0V443.3M512.5 427.9V440.1M513 427.8V440.2M513.5 427.9V444.1M514 425.3V439.5M514.5 425.9V446.4M515 427.6V440.3M515.5 422.9V441.1M516 423.9V441.5M516.5 427.5V436.5M517 426.8V441.8M517.5 427.2V438.3M518 425.3V442.2M518.5 426.5V444.2M519 425.0V441.7M519.5 429.0V442.2M520 427.2V442.6M520.5 430.0V443.9M521 426.6V441.0M521.5 428.2V442.3M522 427.4V440.4M522.5 428.2V439.6M523 425.5V441.4M523.5 427.9V439.8M524 427.8V439.8M524.5 425.4V440.9M525 426.3V440.2M525.5 428.0V440.4M526 425.8V438.6M526.5 426.1V442.7M527 426.3V440.6M527.5 427.2V440.2M528 426.6V440.4M528.5 425.4V442.8M529 423.4V443.0M529.5 425.9V440.1M530 427.6V441.7M530.5 426.8V442.4M531 428.1V440.9M531.5 425.0V441.0M532 425.8V441.3M532.5 428.9V442.0M533 427.3V440.5M533.5 426.0V439.1M534 426.4V440.6M534.5 425.6V442.3M535 424.1V440.6M535.5 426.3V440.2M536 426.7V440.7M536.5 426.8V441.8M537 427.4V441.4M537.5 427.1V441.8M538 425.9V441.4M538.5 426.7V441.3M539 426.1V442.9M539.5 426.1V443.0M540 428.6V440.5M540.5 425.7V439.5M541 426.1V439.6M541.5 427.1V439.8M542 426.5V442.1M542.5 425.8V440.8M543 424.8V442.7M543.5 426.8V439.3M544 428.5V440.5M544.5 426.4V443.1M545 425.8V441.4M545.5 430.0V439.4M546 425.1V441.4M546.5 425.7V440.0M547 427.2V441.9M547.5 426.6V443.0M548 427.8V443.2M548.5 424.4V443.7M549 428.4V441.7M549.5 426.9V441.2M550 425.5V443.2M550.5 427.5V444.3M551 425.6V440.0M551.5 426.6V442.1M552 426.3V441.4M552.5 426.3V443.4M553 426.0V440.0M553.5 426.9V440.0M554 424.0V441.3M554.5 425.7V442.4M555 427.5V441.4M555.5 426.3V440.4M556 425.9V441.9M556.5 428.0V440.9M557 426.9V440.1M557.5 427.5V442.4M558 425.9V440.9M558.5 425.5V439.3M559 425.6V441.0M559.5 426.4V441.3M560 423.8V443.0M560.5 425.9V443.0M561 426.2V442.5M561.5 425.0V442.1M562 426.0V441.9M562.5 426.1V440.5M563 428.9V444.8M563.5 425.4V444.8M564 424.9V445.8M564.5 424.7V441.5M565 426.1V443.0M565.5 425.8V441.5M566 424.7V441.5M566.5 427.0V444.8M567 423.0V441.8M567.5 424.7V443.8M568 424.0V441.7M568.5 421.3V445.9M569 424.6V443.7M569.5 423.7V445.7M570 425.7V444.3M570.5 427.6V439.5M571 422.5V440.7M571.5 426.5V444.3M572 426.5V444.1M572.5 426.4V441.1M573 424.6V446.5M573.5 424.4V447.2M574 426.0V447.8M574.5 421.4V451.4M575 420.3V445.9M575.5 424.8V442.4M576 422.9V440.9M576.5 426.1V444.8M577 418.6V444.2M577.5 425.9V442.1M578 425.2V439.8M578.5 427.0V443.3M579 423.7V445.2M579.5 423.8V442.4M580 425.7V445.7M580.5 424.3V441.8M581 421.8V444.3M581.5 426.2V441.1M582 425.2V438.9M582.5 422.4V444.7M583 420.5V445.4M583.5 418.8V449.6M584 426.3V443.7M584.5 422.9V445.8M585 418.7V444.3M585.5 416.2V449.0M586 421.2V445.3M586.5 419.7V439.7M587 420.5V443.9M587.5 420.4V443.9M588 419.5V449.4M588.5 422.1V448.4M589 418.7V447.5M589.5 419.3V443.7M590 423.5V450.3M590.5 417.8V442.1M591 417.3V448.7M591.5 420.2V450.2M592 428.0V447.9M592.5 428.0V444.4M593 423.2V446.8M593.5 425.1V437.0M594 421.1V445.7M594.5 419.4V447.4M595 423.3V439.4M595.5 420.7V446.0M596 421.6V436.5M596.5 426.2V446.0M597 424.9V443.9M597.5 427.9V442.5M598 426.1V441.0M598.5 427.6V443.7M599 426.2V441.3M599.5 429.7V438.6M600 425.7V439.0M600.5 428.2V439.4M601 429.5V439.2M601.5 428.5V440.5M602 428.2V439.5M602.5 428.5V439.5M603 429.0V438.8M603.5 428.0V441.8M604 426.2V440.3M604.5 426.6V441.9M605 427.5V440.4M605.5 429.2V438.8M606 427.9V439.3M606.5 428.3V440.6M607 426.0V440.0M607.5 429.1V440.5M608 429.5V439.7M608.5 427.2V442.0M609 428.8V442.3M609.5 426.9V441.0M610 425.4V444.8M610.5 425.2V443.3M611 425.1V440.0M611.5 423.6V443.8M612 421.8V444.6M612.5 425.7V444.8M613 426.8V441.2M613.5 428.4V441.1M614 426.7V440.9M614.5 428.0V438.9M615 426.9V439.6M615.5 428.4V437.9M616 426.4V439.9M616.5 428.8V439.7M617 427.2V440.3M617.5 428.3V439.3M618 429.9V438.9M618.5 428.2V440.4M619 428.3V440.5M619.5 428.3V439.5M620 427.8V439.5M620.5 427.2V440.9M621 427.8V440.2M621.5 428.6V440.0M622 427.0V440.5M622.5 426.8V439.3M623 427.9V440.2M623.5 427.6V440.3M624 430.4V439.0M624.5 428.9V438.0M625 429.5V439.5M625.5 429.6V439.0M626 429.4V437.7M626.5 429.2V438.5M627 428.5V439.2M627.5 428.3V439.7M628 428.1V438.3M628.5 428.7V438.5M629 429.4V439.9M629.5 428.9V440.5M630 428.2V439.5M630.5 428.7V439.6M631 426.8V439.2M631.5 426.7V440.0M632 427.4V439.5M632.5 427.4V440.5M633 428.8V439.0M633.5 429.3V440.2M634 426.7V439.5M634.5 427.0V440.5M635 428.7V437.9M635.5 427.7V438.8M636 428.1V437.0M636.5 428.9V440.0M637 427.0V439.8M637.5 426.8V440.9M638 427.6V438.8M638.5 425.9V440.5M639 425.5V441.5M639.5 427.4V441.3M640 427.4V438.7M640.5 429.3V441.4M641 430.2V439.1M641.5 428.5V437.8M642 429.7V439.1M642.5 429.0V440.9M643 429.7V438.9M643.5 429.1V438.7M644 428.7V439.7M644.5 427.5V439.5M645 429.0V439.2M645.5 429.6V438.2" fill="none" stroke="#0000ff" stroke-width="1.0" stroke-opacity="1.0"/>
<g stroke="#0000ff" fill="none"><path d="M122.3 416.57V439.12" stroke-width="0.7" stroke-opacity="0.55"/><path d="M134.1 399.15V444.25" stroke-width="0.7" stroke-opacity="0.55"/><path d="M140 399.15V455.52" stroke-width="0.7" stroke-opacity="0.55"/><path d="M145.3 401.2V449.38" stroke-width="0.7" stroke-opacity="0.55"/><path d="M191 413.5V463.73" stroke-width="0.7" stroke-opacity="0.55"/><path d="M186 408.38V454.5" stroke-width="0.7" stroke-opacity="0.55"/><path d="M199 408.38V454.5" stroke-width="0.7" stroke-opacity="0.55"/><path d="M232.5 423.75V454.5" stroke-width="0.7" stroke-opacity="0.55"/><path d="M340.4 382.75V444.25" stroke-width="0.7" stroke-opacity="0.55"/><path d="M365.1 385.82V444.25" stroke-width="0.7" stroke-opacity="0.55"/><path d="M403.4 397.1V449.38" stroke-width="0.7" stroke-opacity="0.55"/><path d="M428.4 380.7V439.12" stroke-width="0.7" stroke-opacity="0.55"/><path d="M467.2 405.3V444.25" stroke-width="0.7" stroke-opacity="0.55"/><path d="M483.2 402.23V444.25" stroke-width="0.7" stroke-opacity="0.55"/><path d="M485.5 401.2V444.25" stroke-width="0.7" stroke-opacity="0.55"/><path d="M521.2 394.54V444.25" stroke-width="0.7" stroke-opacity="0.55"/><path d="M553.5 413.5V466.8" stroke-width="0.7" stroke-opacity="0.55"/><path d="M563.9 374.55V464.75" stroke-width="0.7" stroke-opacity="0.55"/><path d="M586.4 386.85V495.5" stroke-width="0.7" stroke-opacity="0.55"/><path d="M588.4 362.25V464.75" stroke-width="0.7" stroke-opacity="0.55"/><path d="M591.5 378.14V459.62" stroke-width="0.7" stroke-opacity="0.55"/><path d="M609.7 396.07V481.15" stroke-width="0.7" stroke-opacity="0.55"/><path d="M624.3 411.45V439.12" stroke-width="0.7" stroke-opacity="0.55"/><path d="M644.5 416.57V444.25" stroke-width="0.7" stroke-opacity="0.55"/></g>
</g>
<rect x="43.5" y="331.5" width="602.0" height="205.0" fill="none" stroke="#b4b4b4" stroke-width="1"/>
<path d="M118.5 536.5v-6M118.5 331.5v6M194.5 536.5v-6M194.5 331.5v6M269.5 536.5v-6M269.5 331.5v6M344.5 536.5v-6M344.5 331.5v6M419.5 536.5v-6M419.5 331.5v6M494.5 536.5v-6M494.5 331.5v6M570.5 536.5v-6M570.5 331.5v6M43.5 485.5h6M645.5 485.5h-6M43.5 434.5h6M645.5 434.5h-6M43.5 382.5h6M645.5 382.5h-6" stroke="#999" stroke-width="1" fill="none"/>
<text x="43.2" y="550.7" text-anchor="middle">00:00</text>
<text x="118.45" y="550.7" text-anchor="middle">03:00</text>
<text x="193.7" y="550.7" text-anchor="middle">06:00</text>
<text x="268.95" y="550.7" text-anchor="middle">09:00</text>
<text x="344.2" y="550.7" text-anchor="middle">12:00</text>
<text x="419.45" y="550.7" text-anchor="middle">15:00</text>
<text x="494.7" y="550.7" text-anchor="middle">18:00</text>
<text x="569.95" y="550.7" text-anchor="middle">21:00</text>
<text x="645.2" y="550.7" text-anchor="middle">00:00</text>
<text x="39.6" y="541" text-anchor="end">-1</text>
<text x="39.6" y="489.75" text-anchor="end">-0.5</text>
<text x="39.6" y="438.5" text-anchor="end">0</text>
<text x="39.6" y="387.25" text-anchor="end">0.5</text>
<text x="39.6" y="336" text-anchor="end">1</text>
<text class="b" transform="translate(9.4 434) rotate(-90)" text-anchor="middle">Y (nT)</text>
<g clip-path="url(#cl2)">
<path d="M43.5 739.5V744.0M44.5 732.9V739.5M45 735.0V739.5M45.5 730.0V739.5M47 734.8V739.5M47.5 735.8V742.4M49 739.5V743.9M49.5 739.5V749.7M50 728.3V739.5M50.5 739.5V746.6M53 726.1V739.5M54.5 734.1V739.5M56 739.5V745.2M57 737.9V739.5M58 733.3V739.5M58.5 736.1V739.5M59 730.1V739.5M59.5 734.6V743.7M60 736.1V739.5M61.5 739.5V747.0M63 735.4V739.5M63.5 739.5V742.9M64 739.5V744.4M66 739.5V742.9M67 731.6V739.5M67.5 739.5V745.2M68 732.0V739.5M68.5 735.2V739.5M69 727.5V739.5M70 733.5V739.5M70.5 739.5V743.5M72 733.6V739.5M72.5 731.4V739.5M73.5 732.8V739.5M74 736.5V739.5M75 734.0V739.5M75.5 739.5V746.1M76 733.9V739.5M76.5 736.3V739.5M78 734.7V739.5M78.5 727.7V739.5M79 730.9V739.5M80 739.5V747.7M80.5 734.1V743.1M82 739.5V746.6M82.5 734.4V739.5M83.5 735.2V739.5M84 730.9V745.3M84.5 731.6V739.5M85 734.6V739.5M86 739.5V757.7M87.5 734.4V739.5M88 732.2V739.5M88.5 739.5V750.0M89 739.5V744.8M90 739.5V747.8M91.5 739.5V745.0M92.5 739.5V744.0M93 739.5V744.9M96.5 734.8V739.5M97.5 739.5V743.9M98.5 739.5V746.0M99 725.2V739.5M99.5 739.5V745.4M100.5 735.1V739.5M101 733.2V739.5M101.5 731.7V744.6M102.5 732.3V748.8M107 728.4V739.5M108 739.5V746.6M109.5 739.5V742.4M110 739.5V744.6M112 732.3V739.5M113 735.5V743.7M113.5 739.5V747.7M114 736.0V739.5M114.5 735.9V739.5M115 739.5V741.2M115.5 734.2V745.1M116 739.5V744.0M118 739.5V746.4M118.5 735.0V739.5M120.5 737.6V741.5M121.5 736.1V739.5M122.5 739.5V750.9M123 734.4V739.5M125 739.5V745.7M126.5 735.0V739.5M128.5 736.1V739.5M129 735.2V742.8M129.5 735.5V739.5M130.5 739.5V744.9M131 734.7V739.5M131.5 736.3V739.5M132.5 735.8V742.9M133 739.5V742.7M135 736.6V739.5M135.5 732.2V739.5M136.5 727.5V748.3M137 739.5V748.2M137.5 736.3V743.3M138 739.5V741.7M138.5 734.2V744.8M139 733.0V739.5M139.5 730.5V739.5M141 732.7V746.0M141.5 739.5V746.3M142 735.6V739.5M142.5 739.5V745.0M145 737.0V741.3M146 735.5V739.5M146.5 736.8V739.5M147.5 739.5V742.2M149 733.8V745.0M149.5 734.9V739.5M150.5 734.8V742.1M151.5 739.5V744.2M153.5 736.2V739.5M154 737.5V739.5M155 736.3V739.5M156 737.3V739.5M157 739.5V741.8M158.5 733.4V739.5M159 739.5V742.5M160 732.7V739.5M160.5 736.6V739.5M162 735.5V739.5M163 737.0V741.8M163.5 733.8V739.5M164 739.5V744.8M166 734.4V745.3M166.5 736.7V739.5M170.5 733.3V745.2M171.5 733.7V739.5M172 739.5V745.8M173.5 732.6V739.5M175 739.5V747.6M175.5 739.5V743.4M176 736.6V739.5M176.5 739.5V742.7M177 736.0V743.0M177.5 729.1V746.9M178 739.5V743.5M179.5 733.8V739.5M181 739.5V744.0M182.5 733.6V739.5M183 739.5V745.1M183.5 739.5V743.2M184.5 736.4V739.5M186 739.5V744.0M187.5 735.1V739.5M189.5 733.4V739.5M190 733.0V739.5M192 739.5V743.5M193.5 736.3V742.1M194.5 736.0V739.5M196 735.2V739.5M197 739.5V742.4M197.5 739.5V743.4M199.5 739.5V742.3M200 733.6V743.2M200.5 738.3V739.5M201 739.5V743.1M201.5 739.5V745.8M202.5 739.5V742.4M205 739.5V742.6M206 739.5V747.9M206.5 739.5V745.3M208 735.8V739.5M208.5 739.5V743.5M209 737.2V742.2M210 736.6V739.5M212 739.5V744.0M212.5 735.5V744.1M213 739.5V744.8M214 736.7V739.5M214.5 736.5V739.5M216 734.2V739.5M217 735.9V739.5M217.5 739.5V741.5M220 739.5V748.7M220.5 739.5V743.1M222 739.5V746.6M222.5 731.8V745.6M223 736.3V739.5M225.5 737.7V741.2M226 735.3V739.5M226.5 735.8V739.5M227 739.5V741.4M227.5 739.5V743.5M228 734.9V739.5M229 739.5V743.1M231 734.9V739.5M232 734.9V739.5M232.5 737.3V739.5M233 739.5V744.5M233.5 735.3V739.5M234 739.5V743.8M236 733.1V745.0M236.5 735.1V739.5M239 735.6V739.5M239.5 733.2V739.5M243.5 737.3V742.2M244 737.7V739.5M244.5 735.9V739.5M245 736.9V739.5M245.5 736.5V739.5M246 739.5V743.6M246.5 735.3V739.5M247 735.9V739.5M249 739.5V743.6M249.5 737.6V739.5M250 733.0V739.5M250.5 730.5V739.5M251.5 739.5V744.9M252.5 739.5V742.2M253 739.5V742.6M254.5 735.7V739.5M256 739.5V747.8M257 735.7V739.5M259.5 739.5V746.5M260 739.5V744.5M261 733.5V739.5M261.5 732.9V745.0M262 739.5V743.2M262.5 735.9V739.5M263 739.5V744.9M264 735.0V739.5M264.5 735.8V744.1M265 734.9V739.5M265.5 739.5V744.8M266 737.3V739.5M266.5 739.5V743.9M267 739.5V745.8M268.5 739.5V745.0M269.5 733.9V739.5M270 734.8V739.5M272 739.5V743.8M273.5 734.9V739.5M275 739.5V744.8M276 736.7V739.5M276.5 736.6V739.5M277.5 736.9V741.6M278.5 733.6V739.5M279 735.2V739.5M279.5 736.4V739.5M280 739.5V742.4M281 739.5V742.2M281.5 739.5V744.8M282 739.5V744.1M282.5 733.2V739.5M283.5 739.5V743.3M286 737.2V742.2M287 736.7V739.5M288.5 739.5V746.5M289 735.8V739.5M289.5 737.4V741.4M292 739.5V742.8M294 735.8V739.5M295.5 737.0V739.5M296 733.4V739.5M296.5 739.5V742.5M298 739.5V747.8M298.5 739.5V743.1M299 739.5V742.2M299.5 739.5V744.8M300.5 735.7V739.5M301 737.9V739.5M303 739.5V742.6M304.5 735.1V739.5M305 734.4V739.5M306 736.0V742.0M306.5 736.2V742.4M307 736.1V739.5M308 737.5V739.5M309 735.3V739.5M309.5 738.6V740.8M310 736.7V739.5M311.5 739.5V742.6M312 739.5V743.2M312.5 737.6V739.5M313.5 739.5V747.6M314 739.5V747.1M314.5 735.5V739.5M315 734.5V739.5M315.5 739.5V744.8M317.5 739.5V746.2M319 731.9V739.5M319.5 736.6V739.5M323.5 736.7V739.5M325 739.5V743.3M325.5 739.5V742.3M326.5 736.4V739.5M327 736.5V739.5M328 737.0V739.5M329 739.5V745.0M331 736.4V739.5M331.5 734.9V744.5M332 735.3V739.5M335 734.0V743.4M335.5 739.5V742.4M337 736.1V743.1M338 739.5V742.5M339.5 737.4V739.5M340 739.5V743.3M340.5 739.5V742.3M341.5 734.6V739.5M342.5 739.5V744.2M345 730.0V739.5M345.5 739.5V743.4M347 736.1V739.5M348.5 739.5V744.6M350 739.5V745.4M351 735.7V739.5M355 735.3V746.9M355.5 739.5V743.8M357.5 733.7V739.5M358 735.4V739.5M358.5 735.7V739.5M360 735.5V739.5M362.5 736.6V742.6M363 739.5V742.8M364.5 739.5V743.7M366 737.0V739.5M367.5 734.9V746.9M368.5 736.5V739.5M369 732.2V744.9M369.5 732.4V739.5M370 739.5V746.2M371 734.6V739.5M372 735.0V739.5M373 739.5V746.3M373.5 739.5V741.9M375.5 736.6V742.9M376.5 731.5V739.5M377 739.5V742.6M379 739.5V742.9M379.5 732.1V743.8M380 739.5V746.1M381 736.5V739.5M382 739.5V748.4M383.5 739.5V743.7M388 739.5V744.6M389 739.5V744.2M390 739.5V744.3M390.5 739.5V742.3M391 739.5V744.4M392 732.3V745.1M392.5 739.5V741.5M393 739.5V744.2M394 737.9V739.5M394.5 735.7V739.5M395 739.5V742.7M395.5 739.5V744.7M397 735.7V742.7M398 739.5V743.5M399.5 739.5V744.3M400 739.5V745.1M401 735.4V739.5M401.5 735.0V744.9M402 733.3V739.5M403 736.0V744.2M404 739.5V743.4M404.5 732.5V745.6M406.5 739.5V743.8M407.5 733.3V743.8M408 734.4V739.5M408.5 739.5V743.4M409 733.5V739.5M410 739.5V743.3M410.5 736.5V739.5M411 739.5V742.7M412.5 735.8V739.5M413 739.5V743.1M414 736.8V741.8M414.5 735.3V739.5M415 739.5V749.1M415.5 739.5V743.2M417.5 739.5V747.2M418 736.0V743.8M418.5 732.5V744.2M419.5 733.1V739.5M420 739.5V742.7M421 737.2V739.5M421.5 737.0V742.0M422.5 739.5V743.4M423 737.7V739.5M423.5 739.5V742.5M425 736.6V739.5M425.5 736.4V739.5M428 739.5V742.8M429 735.1V739.5M430 739.5V742.7M431 730.1V746.3M432 739.5V741.9M432.5 736.4V739.5M434 734.1V746.6M437 739.5V744.1M439 739.5V743.8M440.5 739.5V742.1M442 739.5V748.4M443 735.3V739.5M444.5 735.8V739.5M445.5 735.6V739.5M447 735.9V742.7M447.5 739.5V743.5M450.5 739.5V743.2M452.5 739.5V743.4M453 739.5V744.1M454 739.5V745.3M454.5 739.5V743.2M457 732.5V739.5M457.5 739.5V745.8M458 739.5V745.3M458.5 733.7V739.5M459 733.8V746.3M459.5 739.5V743.9M460 734.7V739.5M460.5 735.8V739.5M461.5 735.5V739.5M462 739.5V744.9M462.5 739.5V746.9M463 734.9V739.5M464 735.6V739.5M464.5 739.5V744.8M465 739.5V745.6M466 734.4V739.5M466.5 734.7V739.5M467.5 739.5V746.1M469.5 739.5V744.7M470 731.4V739.5M470.5 739.5V743.5M471 739.5V745.5M472 731.3V739.5M473 736.5V742.0M476.5 739.5V747.0M477 739.5V743.0M477.5 739.5V744.7M479.5 739.5V744.1M480 739.5V742.1M483.5 732.9V739.5M484.5 734.7V743.5M486 733.4V744.4M487 739.5V744.2M488.5 736.0V739.5M489.5 730.8V747.4M492.5 733.6V743.4M493 734.1V739.5M493.5 737.1V739.5M494 735.0V739.5M494.5 739.5V746.5M495 739.5V744.8M495.5 734.7V743.4M497 737.7V742.1M497.5 739.5V742.8M498.5 736.8V739.5M499.5 733.8V743.0M501 739.5V743.6M502 734.6V743.9M502.5 734.6V743.4M504 732.9V739.5M505.5 734.3V744.5M506 739.5V744.6M506.5 739.5V748.9M507.5 734.2V739.5M508 729.8V752.4M509 731.1V739.5M509.5 739.5V746.2M510 739.5V744.9M510.5 739.5V749.3M511.5 734.7V743.0M513.5 729.3V739.5M514 731.4V739.5M515 739.5V750.7M515.5 739.5V750.2M517 724.7V739.5M518 739.5V749.0M518.5 730.7V747.6M519 729.3V746.7M520 739.5V746.1M520.5 730.2V739.5M522 739.5V746.9M523 733.4V747.4M523.5 731.0V745.1M524.5 739.5V748.1M526.5 739.5V744.3M527.5 739.5V743.4M528 739.5V751.5M529 734.3V739.5M530 730.6V739.5M530.5 739.5V754.1M532.5 739.5V746.4M533.5 733.3V739.5M534 734.6V739.5M535 731.6V739.5M536 735.0V739.5M537 735.4V739.5M538.5 734.5V739.5M540.5 733.5V739.5M541 735.3V739.5M541.5 739.5V744.0M542.5 735.6V744.9M543 739.5V745.7M543.5 739.5V744.2M544 733.9V739.5M544.5 735.1V739.5M546 739.5V745.0M547.5 734.3V739.5M548 732.8V739.5M548.5 739.5V750.8M549.5 739.5V748.5M550 731.4V739.5M551 728.4V739.5M551.5 724.8V739.5M552 723.6V739.5M552.5 739.5V749.4M553 726.6V739.5M553.5 739.5V749.3M554 739.5V750.8M554.5 726.9V739.5M555 739.5V745.8M555.5 731.0V739.5M556 729.1V750.5M558.5 728.6V750.5M559 730.6V739.5M561.5 739.5V749.5M562.5 730.0V739.5M563 739.5V751.6M563.5 727.0V749.2M564 739.5V744.2M564.5 731.8V747.7M565.5 739.5V754.1M566 739.5V747.1M566.5 733.5V739.5M568 729.8V739.5M568.5 739.5V748.9M569 725.7V739.5M569.5 731.0V739.5M571 739.5V749.7M571.5 723.1V739.5M572.5 730.0V755.2M573 727.8V739.5M574.5 728.4V739.5M575 728.3V749.9M576.5 739.5V753.6M577 739.5V747.7M577.5 739.5V750.0M578 730.8V739.5M579.5 739.5V750.5M580.5 720.1V754.0M584 730.5V739.5M585 727.3V751.4M585.5 731.1V739.5M586 723.1V739.5M586.5 729.0V752.6M588 729.4V739.5M589 725.4V749.1M589.5 731.3V739.5M590 739.5V747.9M591 739.5V743.9M591.5 727.8V749.7M592 729.6V739.5M593 739.5V748.9M594 731.1V745.5M595 731.2V739.5M595.5 739.5V752.8M596.5 722.0V739.5M598 739.5V749.6M599 725.7V739.5M600 739.5V755.8M600.5 739.5V764.3M601.5 739.5V747.4M602.5 727.1V739.5M604 739.5V751.6M605 729.5V754.4M605.5 728.4V748.6M607 739.5V748.6M607.5 739.5V745.6M608 734.4V739.5M608.5 733.4V744.2M609 739.5V748.2M610 724.4V739.5M610.5 733.5V739.5M611 739.5V747.5M612 733.7V739.5M612.5 735.9V739.5M615.5 739.5V747.1M617 739.5V742.7M618 736.9V739.5M618.5 739.5V744.1M620.5 739.5V751.4M621.5 729.6V747.7M622 735.1V739.5M623.5 737.3V739.5M624 739.5V746.9M625 739.5V748.1M625.5 739.5V750.3M626 736.1V739.5M627 734.0V739.5M627.5 739.5V744.0M628.5 734.3V739.5M631 735.9V743.8M631.5 734.2V739.5M632 736.1V739.5M633 736.6V743.1M633.5 733.5V739.5M634 736.4V739.5M634.5 739.5V743.8M635.5 735.6V739.5M636.5 739.5V742.7M637 737.2V742.4M637.5 734.5V739.5M638 739.5V745.6M638.5 732.7V739.5M641 739.5V743.2M641.5 739.5V744.3M642.5 739.5V746.2M643 734.5V739.5M643.5 739.5V742.9M644.5 739.5V743.7" fill="none" stroke="#0000ff" stroke-width="0.6" stroke-opacity="0.5"/>
<path d="M43.5 735.9V742.4M44 737.3V741.7M44.5 737.0V743.1M45 737.3V742.6M45.5 736.3V742.6M46 737.6V741.0M46.5 737.2V741.5M47 736.4V742.3M47.5 737.5V741.6M48 735.8V744.7M48.5 736.8V742.8M49 736.6V742.7M49.5 735.1V743.0M50 734.5V745.5M50.5 736.7V742.4M51 735.3V744.1M51.5 735.9V742.5M52 736.7V742.4M52.5 734.9V743.6M53 730.6V747.5M53.5 737.7V741.4M54 737.0V741.7M54.5 735.8V742.8M55 736.5V743.3M55.5 736.8V742.4M56 735.9V743.5M56.5 736.8V742.5M57 738.4V740.5M57.5 735.6V742.7M58 735.1V744.1M58.5 737.2V741.5M59 732.1V747.2M59.5 736.9V741.9M60 737.3V741.1M60.5 735.6V743.3M61 737.6V741.2M61.5 733.8V745.4M62 735.8V742.6M62.5 736.6V743.2M63 736.4V742.1M63.5 737.6V742.0M64 736.0V742.6M64.5 736.3V743.2M65 735.6V742.8M65.5 737.0V742.1M66 736.7V742.0M66.5 733.5V744.9M67 733.9V745.8M67.5 736.3V742.5M68 734.5V746.0M68.5 736.2V742.3M69 733.8V744.5M69.5 736.2V742.9M70 736.5V742.0M70.5 736.1V742.3M71 737.3V741.7M71.5 736.5V742.9M72 736.3V742.2M72.5 735.0V743.0M73 734.7V743.5M73.5 733.8V744.4M74 737.6V741.3M74.5 737.1V743.1M75 736.3V742.8M75.5 734.7V743.5M76 736.6V742.7M76.5 737.8V741.2M77 737.9V741.5M77.5 735.9V743.3M78 736.4V743.2M78.5 733.6V744.9M79 734.1V745.2M79.5 736.9V742.9M80 736.4V742.3M80.5 736.7V742.1M81 737.6V741.7M81.5 736.4V742.7M82 735.7V744.8M82.5 735.9V742.6M83 737.6V741.7M83.5 736.9V743.2M84 734.7V744.0M84.5 735.5V744.9M85 736.4V743.3M85.5 737.2V741.7M86 731.4V746.5M86.5 735.2V743.7M87 737.2V742.5M87.5 736.3V743.0M88 734.6V743.4M88.5 734.2V744.3M89 736.8V743.9M89.5 735.1V743.4M90 734.1V744.2M90.5 733.8V744.0M91 736.0V742.4M91.5 736.1V742.6M92 737.1V742.1M92.5 736.9V741.3M93 736.6V743.2M93.5 736.0V742.4M94 736.1V744.0M94.5 736.4V742.9M95 735.8V743.2M95.5 737.5V741.4M96 736.0V743.4M96.5 736.2V743.0M97 733.2V744.3M97.5 736.8V742.5M98 734.2V743.5M98.5 736.6V742.4M99 734.6V744.5M99.5 736.5V743.0M100 736.2V742.9M100.5 736.4V741.9M101 735.6V743.7M101.5 735.0V743.3M102 735.5V744.1M102.5 733.7V745.6M103 734.2V744.9M103.5 735.4V743.4M104 735.8V742.9M104.5 736.0V742.5M105 737.4V741.5M105.5 737.6V741.4M106 735.5V743.8M106.5 734.7V744.0M107 735.5V743.3M107.5 734.2V744.1M108 736.1V742.6M108.5 731.8V746.8M109 735.8V743.1M109.5 737.4V741.8M110 737.2V742.7M110.5 734.1V744.4M111 737.6V741.2M111.5 734.3V745.0M112 734.5V743.1M112.5 737.4V741.3M113 737.0V742.6M113.5 736.3V743.0M114 737.3V741.3M114.5 737.9V741.1M115 738.4V740.3M115.5 735.6V742.8M116 737.9V741.9M116.5 737.6V741.9M117 737.3V741.6M117.5 737.3V741.0M118 735.9V742.8M118.5 737.7V742.2M119 735.9V741.7M119.5 737.1V741.8M120 737.5V741.6M120.5 738.3V741.2M121 737.8V740.8M121.5 736.9V742.2M122 734.4V743.4M122.5 734.4V744.5M123 735.9V742.7M123.5 736.0V742.7M124 736.2V742.6M124.5 737.7V741.4M125 735.6V745.4M125.5 735.8V744.1M126 737.5V741.8M126.5 736.5V741.4M127 735.0V744.8M127.5 738.0V741.2M128 736.7V742.5M128.5 736.8V742.6M129 737.7V741.7M129.5 736.2V741.5M130 736.9V742.3M130.5 736.4V742.5M131 735.8V742.9M131.5 736.8V741.7M132 737.6V741.6M132.5 737.5V741.3M133 737.7V741.5M133.5 737.4V741.1M134 738.7V740.5M134.5 737.5V741.5M135 737.7V740.9M135.5 734.4V744.6M136 735.1V743.1M136.5 733.4V744.9M137 735.3V743.4M137.5 737.4V741.3M138 738.0V741.5M138.5 737.0V742.1M139 735.4V743.3M139.5 734.0V743.2M140 736.9V742.4M140.5 736.7V742.9M141 735.7V744.4M141.5 736.4V743.3M142 737.2V741.7M142.5 736.9V742.0M143 734.8V744.1M143.5 736.1V742.2M144 736.4V743.1M144.5 737.7V741.6M145 738.5V740.6M145.5 737.4V741.0M146 737.1V741.5M146.5 737.6V741.9M147 737.5V741.5M147.5 738.4V741.1M148 737.6V741.2M148.5 737.0V741.2M149 736.0V743.7M149.5 737.6V741.9M150 737.0V742.2M150.5 737.4V741.4M151 737.4V741.7M151.5 737.5V741.7M152 737.2V741.3M152.5 738.6V740.7M153 738.2V740.7M153.5 738.0V741.3M154 738.0V741.1M154.5 736.7V742.3M155 736.8V741.8M155.5 736.3V743.5M156 738.0V741.5M156.5 737.5V741.8M157 738.1V741.0M157.5 737.0V741.6M158 736.5V742.7M158.5 735.9V744.1M159 737.9V741.4M159.5 736.9V742.4M160 735.1V743.4M160.5 737.5V741.5M161 736.7V742.4M161.5 734.2V743.5M162 736.3V742.1M162.5 737.4V741.9M163 737.7V741.3M163.5 736.4V742.8M164 736.3V741.9M164.5 737.5V741.5M165 738.0V741.0M165.5 737.4V742.3M166 736.0V742.7M166.5 737.1V741.3M167 734.8V744.5M167.5 736.8V742.4M168 734.5V743.4M168.5 738.1V740.9M169 737.3V741.9M169.5 737.4V741.6M170 736.7V741.7M170.5 735.1V743.1M171 736.0V742.7M171.5 737.2V742.3M172 735.8V742.6M172.5 737.7V741.6M173 736.5V741.9M173.5 735.6V743.7M174 737.2V742.1M174.5 737.7V742.3M175 736.1V742.3M175.5 736.2V741.9M176 737.7V741.4M176.5 738.3V741.5M177 737.7V741.6M177.5 734.1V744.5M178 736.1V742.5M178.5 737.4V741.3M179 737.7V741.5M179.5 735.7V743.6M180 738.1V740.4M180.5 737.1V741.3M181 737.0V742.6M181.5 736.6V741.5M182 737.8V741.4M182.5 735.2V743.6M183 735.6V742.9M183.5 737.1V741.4M184 735.7V742.3M184.5 737.3V741.8M185 734.8V744.5M185.5 735.7V743.7M186 736.5V742.3M186.5 736.5V741.7M187 737.6V741.7M187.5 737.4V741.7M188 736.0V742.0M188.5 736.4V742.1M189 736.9V742.2M189.5 734.8V744.0M190 736.8V743.0M190.5 736.4V743.1M191 735.9V743.5M191.5 738.0V740.6M192 737.8V740.8M192.5 737.2V742.2M193 738.2V740.7M193.5 738.1V740.9M194 735.5V742.5M194.5 737.4V741.2M195 737.9V740.8M195.5 737.9V741.2M196 737.7V741.5M196.5 737.7V741.2M197 737.3V742.1M197.5 737.3V742.0M198 737.7V741.1M198.5 737.3V741.6M199 736.4V742.0M199.5 738.2V740.6M200 736.7V741.8M200.5 738.9V740.0M201 737.8V741.5M201.5 737.1V741.3M202 737.5V742.0M202.5 737.5V741.3M203 738.2V741.2M203.5 736.8V741.6M204 736.1V742.1M204.5 736.0V743.0M205 737.6V741.4M205.5 735.9V742.4M206 733.5V745.9M206.5 735.9V743.0M207 736.7V742.3M207.5 734.1V744.7M208 737.0V742.0M208.5 737.2V741.8M209 738.1V740.7M209.5 737.4V741.7M210 737.7V741.4M210.5 736.5V742.1M211 737.6V741.5M211.5 737.3V741.5M212 735.7V742.8M212.5 737.2V741.2M213 737.4V742.3M213.5 737.1V741.6M214 737.5V741.5M214.5 737.9V741.1M215 736.3V742.7M215.5 737.6V741.9M216 735.8V742.3M216.5 734.8V743.9M217 737.0V742.4M217.5 737.5V741.4M218 737.1V741.2M218.5 735.8V742.7M219 735.9V742.1M219.5 737.2V742.3M220 734.8V746.3M220.5 737.3V742.3M221 737.2V743.4M221.5 735.5V743.7M222 735.2V743.4M222.5 736.2V742.7M223 738.0V740.7M223.5 736.8V741.9M224 737.0V742.9M224.5 737.9V741.3M225 736.9V742.1M225.5 738.7V740.5M226 737.0V742.1M226.5 737.5V741.4M227 738.4V740.6M227.5 737.7V742.1M228 737.0V742.1M228.5 737.6V741.8M229 737.3V742.3M229.5 737.8V740.8M230 737.5V742.1M230.5 735.6V743.6M231 736.5V741.9M231.5 735.3V742.7M232 736.1V742.8M232.5 737.8V740.9M233 736.7V743.0M233.5 737.8V741.5M234 737.3V741.5M234.5 737.1V742.0M235 737.3V741.5M235.5 736.4V742.4M236 735.1V743.1M236.5 737.2V742.4M237 736.7V742.9M237.5 736.6V741.8M238 736.9V741.9M238.5 736.6V741.7M239 736.5V742.6M239.5 737.3V743.3M240 735.6V744.1M240.5 736.4V742.3M241 736.6V741.5M241.5 736.3V745.0M242 737.3V741.8M242.5 736.4V742.6M243 737.0V741.4M243.5 737.6V741.2M244 738.2V740.5M244.5 737.7V741.7M245 737.9V740.9M245.5 737.4V742.0M246 737.3V742.1M246.5 737.2V741.9M247 737.8V741.3M247.5 734.6V743.7M248 736.8V742.0M248.5 737.5V741.3M249 737.0V741.9M249.5 738.1V740.5M250 736.8V742.4M250.5 734.6V744.2M251 736.4V742.4M251.5 737.0V742.4M252 737.5V741.3M252.5 737.8V741.3M253 737.7V741.0M253.5 736.1V743.2M254 737.1V742.4M254.5 736.6V742.8M255 734.8V743.0M255.5 737.2V742.0M256 736.8V743.0M256.5 737.1V741.5M257 737.1V742.5M257.5 736.4V742.7M258 736.6V742.5M258.5 734.9V743.1M259 734.2V747.5M259.5 735.7V743.3M260 736.3V743.2M260.5 736.8V742.2M261 735.7V743.2M261.5 736.0V743.5M262 737.7V741.7M262.5 737.4V741.3M263 737.0V742.6M263.5 737.0V743.4M264 737.0V742.4M264.5 736.7V742.2M265 737.2V741.8M265.5 737.1V741.1M266 737.6V741.0M266.5 737.4V741.4M267 736.4V742.5M267.5 735.9V742.1M268 736.8V741.9M268.5 736.3V743.3M269 737.2V742.1M269.5 737.0V741.7M270 737.0V742.1M270.5 737.1V741.7M271 737.8V741.1M271.5 737.6V741.8M272 737.2V741.2M272.5 736.2V741.9M273 736.0V743.0M273.5 736.8V742.8M274 737.9V740.9M274.5 736.1V743.1M275 735.7V742.9M275.5 737.2V741.2M276 737.7V741.5M276.5 737.8V741.1M277 737.7V741.2M277.5 738.0V740.8M278 735.4V744.1M278.5 735.9V743.0M279 737.5V742.1M279.5 737.5V741.5M280 737.9V740.9M280.5 738.0V740.7M281 737.9V741.0M281.5 737.0V742.3M282 735.8V742.4M282.5 737.1V743.1M283 736.0V742.8M283.5 736.8V741.7M284 737.8V741.4M284.5 736.7V741.5M285 736.3V742.1M285.5 736.1V743.2M286 738.2V740.8M286.5 737.2V741.9M287 737.6V741.6M287.5 737.6V741.9M288 737.5V742.1M288.5 736.1V742.8M289 737.6V741.2M289.5 738.3V741.1M290 737.4V741.5M290.5 738.2V740.5M291 737.6V741.4M291.5 737.7V741.5M292 737.7V741.1M292.5 736.4V742.2M293 736.7V741.8M293.5 735.5V742.7M294 737.0V742.0M294.5 735.4V742.6M295 737.4V741.2M295.5 737.4V740.9M296 736.5V742.3M296.5 737.2V740.9M297 735.2V744.8M297.5 736.9V742.1M298 736.0V742.7M298.5 737.4V741.7M299 737.2V741.4M299.5 736.6V743.1M300 737.8V741.1M300.5 737.3V742.0M301 738.6V740.2M301.5 738.4V740.6M302 737.4V741.1M302.5 736.2V743.0M303 737.0V741.5M303.5 736.9V742.3M304 737.2V741.6M304.5 737.1V741.6M305 737.3V741.9M305.5 737.3V741.5M306 738.1V741.0M306.5 737.5V741.9M307 737.9V741.1M307.5 737.4V741.7M308 738.2V740.9M308.5 736.7V741.6M309 738.2V741.6M309.5 738.9V740.2M310 737.6V741.6M310.5 737.4V741.5M311 738.4V740.9M311.5 737.4V741.9M312 737.0V741.7M312.5 738.3V740.9M313 737.8V741.4M313.5 735.8V744.4M314 736.6V742.5M314.5 737.5V741.4M315 737.2V742.2M315.5 736.5V742.6M316 736.9V741.4M316.5 737.9V740.8M317 737.5V742.0M317.5 736.4V743.5M318 734.5V744.3M318.5 736.4V742.0M319 736.3V742.6M319.5 737.5V741.9M320 735.9V742.7M320.5 737.2V742.9M321 736.6V742.3M321.5 736.7V742.5M322 737.1V741.5M322.5 736.8V742.5M323 737.5V741.3M323.5 738.0V740.9M324 736.0V743.1M324.5 735.8V742.4M325 736.3V742.4M325.5 737.9V741.7M326 738.1V741.1M326.5 737.4V741.2M327 738.3V741.6M327.5 737.0V741.9M328 737.8V741.2M328.5 737.8V742.0M329 736.2V742.1M329.5 737.1V741.6M330 737.5V741.0M330.5 737.8V741.4M331 737.1V741.4M331.5 737.3V741.6M332 737.1V742.8M332.5 738.1V740.7M333 737.8V741.4M333.5 736.6V741.9M334 737.5V741.4M334.5 738.1V741.2M335 736.9V741.5M335.5 737.2V741.5M336 737.4V741.2M336.5 738.1V740.9M337 737.5V741.4M337.5 737.4V741.4M338 737.7V741.8M338.5 738.4V740.9M339 738.1V741.3M339.5 738.4V740.4M340 736.7V742.0M340.5 737.9V740.9M341 738.0V741.1M341.5 737.3V742.5M342 737.6V742.0M342.5 737.1V742.2M343 737.5V741.1M343.5 736.7V742.4M344 738.6V740.7M344.5 736.9V741.9M345 734.5V743.7M345.5 736.9V742.2M346 735.9V743.0M346.5 736.8V742.5M347 737.7V741.1M347.5 735.0V744.1M348 737.0V742.5M348.5 737.1V741.6M349 736.5V741.9M349.5 735.3V744.0M350 737.2V742.2M350.5 734.7V744.9M351 736.9V741.8M351.5 736.6V742.4M352 735.1V744.3M352.5 736.2V744.0M353 737.8V741.0M353.5 736.9V741.7M354 736.7V742.4M354.5 736.5V742.4M355 735.5V742.1M355.5 737.0V742.1M356 736.2V743.0M356.5 735.8V743.3M357 737.1V742.3M357.5 735.8V741.7M358 737.1V741.8M358.5 736.7V742.1M359 737.6V742.0M359.5 737.0V742.6M360 737.1V742.4M360.5 735.9V742.9M361 737.9V741.0M361.5 737.6V741.8M362 733.7V744.3M362.5 737.6V740.9M363 737.1V741.6M363.5 737.2V741.7M364 737.0V742.0M364.5 737.5V741.4M365 736.0V743.2M365.5 732.6V745.9M366 738.2V740.8M366.5 736.6V742.2M367 735.9V742.8M367.5 735.9V743.2M368 737.5V741.5M368.5 737.9V741.1M369 735.4V743.7M369.5 735.8V743.8M370 736.2V742.4M370.5 736.8V741.9M371 736.6V742.2M371.5 736.4V742.1M372 736.8V742.7M372.5 737.8V741.6M373 735.3V743.8M373.5 738.0V741.1M374 737.9V741.7M374.5 736.1V742.5M375 736.1V742.2M375.5 737.6V741.1M376 737.2V741.6M376.5 736.8V741.9M377 737.8V742.2M377.5 735.3V743.0M378 737.1V743.1M378.5 737.2V741.3M379 737.0V741.8M379.5 736.7V742.8M380 735.8V743.6M380.5 737.3V741.5M381 737.3V741.1M381.5 737.1V742.6M382 734.5V746.7M382.5 737.1V742.4M383 738.0V741.1M383.5 737.8V741.4M384 735.1V743.8M384.5 735.9V742.8M385 736.5V742.2M385.5 736.9V742.0M386 736.1V742.9M386.5 735.8V742.9M387 738.4V740.9M387.5 736.2V742.5M388 736.3V742.7M388.5 737.1V741.9M389 737.0V742.0M389.5 735.7V744.5M390 736.1V742.8M390.5 737.5V741.1M391 737.5V741.5M391.5 736.2V743.0M392 736.7V742.4M392.5 738.5V740.9M393 737.8V742.5M393.5 738.0V741.2M394 738.6V740.6M394.5 737.1V741.9M395 737.4V741.4M395.5 736.6V742.0M396 735.4V743.6M396.5 737.2V741.5M397 737.3V741.1M397.5 737.5V741.1M398 737.3V742.0M398.5 736.3V742.0M399 737.2V741.3M399.5 736.1V742.3M400 736.8V741.5M400.5 736.6V742.9M401 737.2V742.2M401.5 737.2V741.9M402 736.8V742.9M402.5 736.8V742.2M403 737.6V742.1M403.5 736.6V742.8M404 737.1V741.9M404.5 737.0V742.2M405 737.0V742.5M405.5 737.3V742.2M406 735.4V743.3M406.5 736.8V742.5M407 736.9V742.3M407.5 735.8V742.8M408 736.9V742.2M408.5 737.5V742.3M409 734.9V744.8M409.5 736.5V742.3M410 737.2V741.9M410.5 737.3V742.1M411 737.2V741.9M411.5 736.7V742.7M412 736.9V741.2M412.5 737.4V741.2M413 737.8V741.4M413.5 738.1V741.2M414 738.2V740.7M414.5 737.0V741.9M415 735.5V744.3M415.5 737.0V742.2M416 737.3V742.2M416.5 737.7V741.8M417 736.9V741.7M417.5 736.0V742.5M418 737.5V741.5M418.5 736.2V743.3M419 737.6V741.5M419.5 736.0V743.0M420 737.0V742.3M420.5 736.8V743.3M421 737.5V741.0M421.5 737.5V740.9M422 737.8V742.0M422.5 736.3V742.1M423 738.5V740.6M423.5 737.9V741.2M424 738.1V741.1M424.5 738.0V740.9M425 738.2V740.7M425.5 737.6V741.7M426 736.2V742.7M426.5 736.4V742.5M427 737.9V741.0M427.5 737.7V741.8M428 737.6V741.6M428.5 735.5V743.2M429 737.0V741.9M429.5 737.6V741.7M430 737.0V742.6M430.5 737.7V741.2M431 735.2V744.5M431.5 736.3V742.4M432 738.3V740.7M432.5 738.0V741.0M433 737.3V741.8M433.5 737.0V743.0M434 736.1V743.1M434.5 737.0V742.1M435 737.1V741.9M435.5 736.1V742.9M436 737.9V741.4M436.5 736.9V741.6M437 736.0V743.3M437.5 735.8V742.6M438 737.2V741.6M438.5 736.9V741.7M439 737.5V742.2M439.5 737.5V742.1M440 736.1V743.4M440.5 737.6V741.2M441 736.7V742.1M441.5 737.3V741.9M442 735.5V742.9M442.5 738.5V740.9M443 736.6V742.3M443.5 737.2V741.4M444 735.4V743.4M444.5 737.3V741.7M445 735.3V744.8M445.5 736.9V742.5M446 735.5V743.6M446.5 737.1V742.3M447 737.5V741.6M447.5 737.6V741.4M448 737.2V742.2M448.5 737.3V741.6M449 736.0V741.8M449.5 737.4V742.7M450 738.0V741.2M450.5 737.2V741.2M451 737.9V741.1M451.5 737.1V741.8M452 735.5V743.6M452.5 738.3V740.6M453 736.0V742.5M453.5 737.4V742.1M454 736.3V742.3M454.5 737.3V741.3M455 736.6V742.6M455.5 735.3V744.1M456 736.3V742.8M456.5 736.1V743.2M457 736.1V744.0M457.5 735.9V744.0M458 735.3V742.8M458.5 736.4V743.8M459 735.7V744.1M459.5 736.2V743.1M460 735.6V744.0M460.5 737.2V742.5M461 736.8V741.7M461.5 736.5V742.8M462 735.6V743.6M462.5 735.6V742.9M463 735.6V742.7M463.5 736.6V742.2M464 736.9V742.1M464.5 736.7V741.8M465 736.3V743.5M465.5 736.8V742.1M466 735.6V743.1M466.5 737.1V743.5M467 735.8V743.1M467.5 735.9V743.0M468 737.3V742.4M468.5 735.3V743.1M469 737.8V741.5M469.5 736.4V742.1M470 735.4V743.8M470.5 737.9V741.3M471 736.3V743.1M471.5 737.1V741.6M472 735.8V744.1M472.5 738.6V740.5M473 738.0V741.0M473.5 736.8V741.7M474 737.4V741.8M474.5 734.8V743.8M475 736.0V743.2M475.5 737.2V742.1M476 736.4V742.7M476.5 735.1V743.5M477 737.5V741.6M477.5 737.4V741.7M478 736.0V744.6M478.5 735.8V743.5M479 737.1V742.5M479.5 737.1V742.7M480 737.0V741.7M480.5 736.4V742.9M481 737.0V741.9M481.5 736.9V743.3M482 738.5V740.7M482.5 737.2V742.1M483 736.1V742.2M483.5 736.5V742.6M484 736.6V741.8M484.5 736.3V743.4M485 737.6V742.2M485.5 737.1V742.1M486 735.8V742.7M486.5 736.5V742.1M487 736.8V743.1M487.5 737.0V742.1M488 736.8V742.3M488.5 737.3V741.3M489 737.6V741.8M489.5 735.7V742.8M490 735.9V743.7M490.5 735.5V743.4M491 734.3V746.3M491.5 736.7V742.6M492 736.6V742.2M492.5 737.2V742.6M493 737.2V742.3M493.5 738.1V740.9M494 736.5V742.5M494.5 734.0V743.8M495 736.1V742.2M495.5 736.7V743.1M496 734.9V743.9M496.5 737.2V742.1M497 738.2V740.5M497.5 737.5V741.9M498 736.4V742.5M498.5 737.2V742.0M499 736.3V742.2M499.5 737.0V741.8M500 736.8V742.4M500.5 737.3V741.5M501 737.2V741.8M501.5 738.5V740.6M502 736.6V743.4M502.5 736.8V742.3M503 736.1V742.5M503.5 736.0V743.2M504 736.0V742.9M504.5 736.5V742.2M505 735.0V744.0M505.5 736.5V742.0M506 736.4V742.9M506.5 732.3V746.4M507 735.8V744.2M507.5 734.9V744.3M508 733.9V746.7M508.5 736.6V743.2M509 733.3V745.4M509.5 736.5V742.6M510 735.7V742.6M510.5 734.3V744.6M511 730.3V745.4M511.5 736.4V742.1M512 732.7V746.5M512.5 733.0V745.0M513 735.1V743.6M513.5 733.9V744.0M514 734.2V743.7M514.5 733.0V744.2M515 735.3V743.9M515.5 735.1V743.3M516 729.0V749.5M516.5 732.7V745.7M517 729.7V746.7M517.5 733.0V746.3M518 734.2V745.0M518.5 734.6V746.6M519 734.8V743.6M519.5 735.8V742.3M520 734.8V743.7M520.5 732.7V746.0M521 735.5V744.5M521.5 733.5V746.9M522 735.0V743.6M522.5 731.9V746.2M523 735.3V743.5M523.5 735.8V743.8M524 735.8V744.2M524.5 734.0V745.0M525 736.4V742.6M525.5 737.6V741.6M526 737.5V741.8M526.5 736.8V742.5M527 735.4V744.3M527.5 737.3V741.2M528 732.9V745.8M528.5 735.5V742.7M529 735.3V743.1M529.5 736.7V742.3M530 734.7V743.8M530.5 729.7V748.1M531 734.1V745.1M531.5 735.7V743.0M532 734.5V743.2M532.5 733.7V744.2M533 731.4V747.3M533.5 736.2V742.1M534 737.3V742.0M534.5 736.1V743.8M535 734.8V743.5M535.5 736.5V741.8M536 736.4V741.9M536.5 734.8V744.3M537 736.8V742.6M537.5 736.5V742.0M538 737.8V741.1M538.5 736.4V742.2M539 734.2V744.8M539.5 736.2V742.8M540 736.3V742.3M540.5 736.8V742.0M541 736.9V742.6M541.5 735.9V743.1M542 735.4V744.6M542.5 736.4V741.8M543 734.4V743.2M543.5 737.0V742.4M544 735.5V742.5M544.5 736.7V742.2M545 736.1V743.3M545.5 735.5V742.9M546 735.5V743.0M546.5 738.0V740.7M547 735.2V743.4M547.5 736.4V742.0M548 735.2V742.8M548.5 734.9V744.4M549 735.1V743.8M549.5 735.2V744.4M550 735.9V743.1M550.5 733.6V743.7M551 734.2V743.9M551.5 732.7V749.9M552 727.2V750.1M552.5 733.4V743.9M553 730.4V748.3M553.5 736.2V743.5M554 735.7V743.8M554.5 730.4V746.0M555 735.0V744.2M555.5 732.5V746.4M556 731.3V749.5M556.5 732.7V744.7M557 731.0V747.5M557.5 733.4V744.7M558 733.7V745.7M558.5 733.4V746.8M559 734.3V745.1M559.5 734.3V744.3M560 733.7V747.4M560.5 729.7V748.8M561 731.8V746.6M561.5 732.3V746.9M562 732.4V748.7M562.5 732.7V746.2M563 730.4V748.5M563.5 732.7V747.2M564 736.2V742.5M564.5 734.5V744.1M565 733.1V744.8M565.5 732.5V745.2M566 733.4V745.0M566.5 735.1V743.6M567 735.4V743.2M567.5 734.8V743.7M568 730.3V745.8M568.5 734.4V745.3M569 731.1V745.5M569.5 733.6V744.3M570 732.6V746.3M570.5 732.8V745.5M571 733.7V744.5M571.5 728.5V747.7M572 733.4V745.9M572.5 731.5V747.9M573 729.8V748.7M573.5 734.8V746.5M574 735.2V742.5M574.5 733.5V747.3M575 733.9V746.0M575.5 734.0V745.4M576 732.0V745.3M576.5 732.2V748.0M577 732.6V745.8M577.5 731.4V747.6M578 735.3V745.0M578.5 736.7V743.2M579 726.8V752.0M579.5 732.3V746.2M580 735.2V746.0M580.5 729.3V749.3M581 730.1V748.6M581.5 735.1V743.8M582 732.2V747.3M582.5 732.7V745.6M583 735.4V744.6M583.5 733.2V749.2M584 734.2V746.0M584.5 737.0V742.6M585 732.1V747.4M585.5 733.3V746.8M586 727.3V753.8M586.5 731.2V745.5M587 734.2V744.0M587.5 732.9V744.9M588 733.6V746.3M588.5 732.6V746.5M589 735.0V745.7M589.5 735.5V743.5M590 733.6V745.2M590.5 736.0V743.2M591 736.4V743.5M591.5 732.5V745.4M592 734.3V744.3M592.5 731.2V748.9M593 732.5V745.9M593.5 733.3V745.7M594 735.2V743.8M594.5 733.1V745.4M595 734.4V745.1M595.5 732.5V746.2M596 733.8V745.4M596.5 733.8V748.1M597 731.3V745.9M597.5 734.6V745.6M598 731.5V745.4M598.5 732.4V746.5M599 731.2V745.6M599.5 734.2V744.8M600 729.1V749.9M600.5 732.4V747.5M601 732.8V745.7M601.5 734.7V745.7M602 731.7V748.5M602.5 730.9V750.4M603 736.1V743.2M603.5 733.1V746.2M604 733.1V747.7M604.5 736.3V743.0M605 734.6V743.7M605.5 732.5V746.0M606 734.2V743.8M606.5 736.6V742.0M607 734.3V744.3M607.5 736.1V742.7M608 737.3V742.3M608.5 736.2V742.3M609 735.1V743.0M609.5 734.0V744.0M610 733.2V744.0M610.5 735.9V742.5M611 735.8V743.6M611.5 732.4V744.6M612 736.0V744.6M612.5 737.4V741.8M613 734.7V743.8M613.5 731.1V746.7M614 737.6V741.5M614.5 735.6V744.9M615 735.7V742.3M615.5 733.8V744.2M616 737.1V742.1M616.5 735.8V742.8M617 737.2V741.9M617.5 736.5V742.9M618 737.7V741.9M618.5 737.4V741.2M619 738.0V741.1M619.5 735.0V743.6M620 737.1V742.1M620.5 733.7V745.8M621 736.1V742.6M621.5 733.7V744.5M622 736.3V742.6M622.5 737.8V741.6M623 737.2V741.5M623.5 737.9V740.8M624 734.3V743.8M624.5 735.8V742.0M625 735.5V743.1M625.5 733.5V745.1M626 737.0V741.6M626.5 736.2V742.2M627 737.5V742.2M627.5 737.1V742.0M628 737.1V742.3M628.5 736.9V742.2M629 737.4V742.2M629.5 737.6V741.6M630 737.9V741.7M630.5 736.0V743.6M631 737.6V741.4M631.5 737.2V741.7M632 737.9V741.5M632.5 737.4V741.5M633 737.2V741.5M633.5 735.2V744.5M634 737.5V741.4M634.5 736.7V742.9M635 736.1V743.1M635.5 737.5V741.5M636 736.6V742.6M636.5 737.5V741.0M637 737.9V741.4M637.5 737.3V741.8M638 736.6V743.1M638.5 736.0V743.8M639 736.8V742.7M639.5 731.8V745.2M640 734.5V742.8M640.5 737.6V741.9M641 737.6V741.0M641.5 737.7V742.0M642 737.0V742.7M642.5 736.7V742.0M643 735.1V743.3M643.5 738.2V740.5M644 736.5V742.3M644.5 737.9V741.4M645 736.4V742.4M645.5 735.6V743.3" fill="none" stroke="#0000ff" stroke-width="0.5" stroke-opacity="0.55"/>
<path d="M43.5 737.2V741.4M44 737.0V742.6M44.5 737.4V741.6M45 737.5V741.2M45.5 737.0V741.7M46 737.3V741.6M46.5 736.7V742.1M47 736.5V742.3M47.5 737.1V741.9M48 736.7V741.4M48.5 737.2V742.4M49 736.1V741.8M49.5 736.7V742.6M50 737.0V743.4M50.5 735.9V741.8M51 737.2V741.9M51.5 736.1V742.1M52 737.1V741.9M52.5 736.9V743.2M53 736.3V741.5M53.5 736.8V742.2M54 736.8V742.4M54.5 737.4V741.2M55 736.8V742.1M55.5 736.8V742.1M56 736.6V741.8M56.5 736.6V742.4M57 738.0V741.5M57.5 736.6V742.5M58 736.1V741.5M58.5 736.9V742.4M59 737.2V741.8M59.5 736.7V742.0M60 736.9V741.2M60.5 736.6V742.3M61 736.4V741.9M61.5 736.6V742.6M62 735.8V742.5M62.5 736.7V742.0M63 736.6V742.3M63.5 737.0V742.0M64 736.4V741.3M64.5 736.9V742.3M65 736.5V741.6M65.5 737.1V742.4M66 736.8V742.2M66.5 737.2V742.3M67 736.0V742.9M67.5 736.8V742.2M68 736.6V742.4M68.5 736.9V743.0M69 736.5V741.0M69.5 736.6V741.9M70 736.9V742.2M70.5 736.9V742.4M71 737.4V742.7M71.5 736.6V742.8M72 737.5V741.9M72.5 736.7V742.4M73 737.1V742.5M73.5 737.0V742.4M74 736.9V742.5M74.5 737.4V742.7M75 736.8V741.9M75.5 737.0V742.3M76 737.7V742.0M76.5 736.8V741.6M77 737.0V741.9M77.5 736.9V742.4M78 737.5V741.5M78.5 736.5V742.3M79 737.4V742.6M79.5 736.3V742.7M80 736.5V742.5M80.5 736.7V741.6M81 737.3V741.8M81.5 736.9V742.2M82 736.9V741.7M82.5 737.2V742.4M83 737.1V741.9M83.5 737.1V742.2M84 737.0V742.4M84.5 737.5V742.4M85 736.8V742.1M85.5 736.5V742.6M86 736.7V742.0M86.5 737.8V742.1M87 736.2V742.6M87.5 736.9V741.8M88 737.1V741.9M88.5 735.6V742.4M89 737.4V742.9M89.5 737.3V741.8M90 736.2V742.8M90.5 736.8V741.8M91 736.9V742.1M91.5 736.8V741.8M92 737.1V741.7M92.5 736.8V742.1M93 736.1V743.0M93.5 736.0V741.8M94 736.3V742.3M94.5 737.3V742.2M95 735.8V742.4M95.5 736.9V741.8M96 736.4V743.1M96.5 737.4V742.6M97 736.0V742.9M97.5 736.7V741.9M98 736.7V741.4M98.5 736.8V741.7M99 736.3V742.0M99.5 736.8V741.7M100 736.6V742.3M100.5 736.2V742.2M101 737.6V741.8M101.5 737.2V742.2M102 736.7V742.7M102.5 735.7V742.1M103 736.2V742.8M103.5 736.4V742.2M104 737.4V742.0M104.5 737.2V741.6M105 736.0V742.7M105.5 736.6V742.3M106 737.0V742.5M106.5 735.9V743.1M107 736.6V742.8M107.5 736.5V742.4M108 736.9V743.0M108.5 736.6V742.3M109 737.1V743.0M109.5 736.3V742.5M110 737.2V742.8M110.5 737.3V742.3M111 736.4V742.3M111.5 737.3V741.8M112 737.2V741.6M112.5 737.4V742.0M113 737.7V742.0M113.5 737.5V741.9M114 737.7V742.2M114.5 737.3V741.3M115 737.2V741.3M115.5 737.2V742.3M116 737.8V741.3M116.5 737.3V740.8M117 737.8V741.5M117.5 737.0V741.7M118 737.2V740.9M118.5 737.5V741.6M119 737.2V741.5M119.5 737.5V741.8M120 737.7V740.9M120.5 737.7V741.6M121 737.4V741.7M121.5 736.7V741.9M122 737.3V742.3M122.5 737.2V741.7M123 737.1V741.6M123.5 737.1V741.4M124 737.3V741.3M124.5 737.8V741.7M125 737.2V741.5M125.5 737.2V741.8M126 737.0V741.6M126.5 737.5V741.6M127 737.3V741.9M127.5 737.3V741.3M128 737.7V741.2M128.5 737.6V741.6M129 737.4V741.7M129.5 737.2V741.5M130 737.0V742.0M130.5 737.7V741.5M131 737.4V741.9M131.5 737.9V741.2M132 737.4V741.2M132.5 737.6V741.4M133 737.7V741.2M133.5 738.2V741.2M134 737.6V741.1M134.5 737.4V741.4M135 737.5V741.8M135.5 737.6V741.3M136 737.8V741.7M136.5 737.4V741.4M137 737.7V741.6M137.5 737.9V741.2M138 737.6V741.4M138.5 737.3V741.1M139 737.0V741.6M139.5 737.1V742.2M140 737.3V741.8M140.5 737.2V741.5M141 737.4V741.8M141.5 737.5V741.3M142 737.5V741.3M142.5 737.7V741.7M143 737.2V742.3M143.5 738.0V742.1M144 737.4V741.7M144.5 737.7V741.7M145 737.8V741.2M145.5 737.8V740.8M146 737.7V741.8M146.5 737.7V741.4M147 737.6V741.2M147.5 737.8V741.3M148 737.6V741.5M148.5 737.7V741.2M149 737.7V740.9M149.5 737.7V741.5M150 737.4V741.5M150.5 737.3V741.5M151 737.6V741.0M151.5 737.9V741.4M152 737.7V741.6M152.5 737.7V741.1M153 738.1V741.3M153.5 738.0V741.3M154 738.0V741.4M154.5 737.9V740.9M155 737.8V741.4M155.5 737.7V741.1M156 737.9V741.2M156.5 737.6V740.9M157 737.8V741.2M157.5 737.9V741.2M158 737.7V741.4M158.5 737.5V741.4M159 737.5V741.8M159.5 737.1V741.5M160 736.9V741.2M160.5 737.6V742.1M161 737.3V741.7M161.5 737.5V741.6M162 737.5V741.4M162.5 736.9V741.8M163 737.1V741.1M163.5 737.5V741.2M164 737.0V741.6M164.5 737.6V741.5M165 737.7V741.7M165.5 737.2V741.9M166 737.5V741.5M166.5 737.4V741.4M167 736.9V741.4M167.5 737.0V741.7M168 737.1V741.1M168.5 737.4V741.4M169 737.6V741.7M169.5 737.6V741.7M170 737.5V741.4M170.5 737.6V741.3M171 737.9V741.5M171.5 737.4V742.1M172 737.5V741.5M172.5 737.6V741.9M173 737.5V741.9M173.5 737.4V741.9M174 737.6V741.7M174.5 737.9V741.5M175 738.1V741.7M175.5 737.2V741.7M176 737.4V741.4M176.5 737.5V741.6M177 737.6V741.4M177.5 737.3V741.3M178 737.6V741.5M178.5 738.0V741.3M179 737.4V741.2M179.5 737.6V741.2M180 737.8V741.2M180.5 737.8V741.4M181 737.8V741.5M181.5 737.6V741.8M182 737.3V741.4M182.5 737.5V742.1M183 737.5V741.4M183.5 737.3V742.0M184 736.9V741.2M184.5 737.5V741.7M185 736.6V741.3M185.5 737.4V741.5M186 737.2V741.9M186.5 737.8V742.0M187 737.1V741.4M187.5 737.1V741.8M188 737.3V740.9M188.5 737.6V741.8M189 737.2V741.7M189.5 737.4V741.9M190 737.4V741.6M190.5 737.7V741.7M191 737.7V741.6M191.5 737.6V741.5M192 737.1V741.1M192.5 737.6V741.0M193 737.7V741.3M193.5 737.7V741.4M194 737.5V741.0M194.5 737.8V741.3M195 737.7V741.1M195.5 737.7V741.1M196 737.7V741.4M196.5 737.8V740.8M197 737.9V741.0M197.5 738.1V740.9M198 737.7V741.1M198.5 738.0V741.1M199 737.6V741.1M199.5 737.9V741.4M200 738.0V740.6M200.5 738.0V741.1M201 738.0V741.4M201.5 738.0V741.3M202 737.7V741.4M202.5 737.9V741.2M203 737.4V741.2M203.5 737.2V741.6M204 737.1V741.9M204.5 737.2V741.6M205 737.6V741.6M205.5 737.3V741.6M206 736.9V742.3M206.5 736.9V741.4M207 737.1V741.6M207.5 737.5V741.8M208 737.9V741.8M208.5 737.7V741.7M209 738.2V741.0M209.5 737.5V741.3M210 737.5V740.8M210.5 737.7V741.2M211 737.7V740.9M211.5 738.1V741.3M212 737.9V741.2M212.5 737.6V741.0M213 737.6V740.9M213.5 737.6V741.2M214 737.8V741.2M214.5 737.7V741.1M215 738.0V741.2M215.5 737.5V742.1M216 737.4V741.7M216.5 737.0V742.1M217 737.0V741.6M217.5 737.4V742.2M218 737.2V742.6M218.5 737.6V741.4M219 737.5V742.2M219.5 737.0V742.4M220 737.5V741.9M220.5 737.1V741.6M221 736.7V741.6M221.5 737.2V741.9M222 737.1V742.1M222.5 737.3V742.0M223 736.7V741.7M223.5 737.4V741.1M224 737.1V741.8M224.5 737.8V741.1M225 737.6V741.6M225.5 737.3V741.6M226 737.6V741.3M226.5 737.3V741.2M227 737.3V741.1M227.5 737.6V741.8M228 737.4V741.8M228.5 737.5V741.3M229 737.6V741.4M229.5 737.2V742.1M230 737.5V741.8M230.5 737.0V741.9M231 737.2V742.2M231.5 737.4V742.1M232 737.0V742.0M232.5 736.7V742.4M233 737.5V741.6M233.5 737.0V741.6M234 736.9V741.9M234.5 737.2V741.6M235 737.3V742.0M235.5 737.7V741.5M236 737.1V741.8M236.5 737.6V741.3M237 737.6V741.9M237.5 737.2V742.5M238 737.7V741.5M238.5 737.1V741.8M239 737.8V741.7M239.5 737.3V741.4M240 737.7V742.0M240.5 737.4V741.4M241 738.0V741.6M241.5 737.6V741.7M242 737.7V741.3M242.5 737.7V741.2M243 737.5V741.0M243.5 737.8V741.3M244 737.6V741.4M244.5 737.8V740.9M245 737.4V741.2M245.5 737.7V740.9M246 738.0V741.3M246.5 737.8V741.2M247 737.6V741.6M247.5 737.6V741.4M248 737.2V741.6M248.5 737.5V741.6M249 737.5V741.8M249.5 737.7V741.8M250 737.2V741.4M250.5 737.6V742.0M251 737.7V741.6M251.5 737.7V741.4M252 737.5V741.3M252.5 737.7V740.8M253 737.6V741.5M253.5 737.6V741.5M254 737.4V741.6M254.5 737.2V741.5M255 737.5V741.6M255.5 737.5V742.1M256 737.6V741.9M256.5 737.5V741.6M257 737.3V741.5M257.5 737.0V741.2M258 737.8V741.3M258.5 737.4V741.6M259 737.4V742.2M259.5 737.2V741.8M260 737.1V741.4M260.5 737.4V741.4M261 737.0V741.8M261.5 737.5V742.1M262 737.1V741.4M262.5 736.8V741.6M263 737.5V741.3M263.5 738.0V741.8M264 737.3V741.9M264.5 737.2V741.9M265 737.6V742.2M265.5 737.3V742.1M266 737.6V741.3M266.5 738.1V740.9M267 737.4V741.1M267.5 737.3V741.5M268 737.8V741.8M268.5 737.5V741.3M269 737.6V741.9M269.5 737.3V740.8M270 737.8V741.3M270.5 737.7V741.4M271 737.5V741.0M271.5 737.5V741.1M272 737.7V741.6M272.5 737.4V742.1M273 737.0V741.9M273.5 737.4V741.5M274 737.5V741.8M274.5 737.4V741.5M275 737.2V741.1M275.5 737.3V742.0M276 737.5V741.6M276.5 737.1V741.4M277 737.4V741.4M277.5 738.0V741.4M278 737.6V741.7M278.5 737.7V741.5M279 737.2V741.5M279.5 736.7V741.8M280 737.2V741.6M280.5 737.1V741.6M281 737.7V741.6M281.5 736.8V741.7M282 736.7V742.1M282.5 737.0V741.9M283 737.4V741.7M283.5 737.0V741.9M284 737.1V741.3M284.5 736.7V741.8M285 737.5V742.1M285.5 737.1V741.4M286 736.8V741.3M286.5 737.3V741.2M287 737.3V741.1M287.5 737.1V741.3M288 737.3V741.3M288.5 737.3V741.9M289 737.7V741.0M289.5 737.6V741.1M290 738.0V741.2M290.5 737.9V741.3M291 738.3V740.9M291.5 737.3V741.5M292 737.2V741.7M292.5 737.7V741.2M293 737.7V741.4M293.5 738.1V741.3M294 737.6V741.6M294.5 737.4V741.6M295 737.3V741.5M295.5 737.2V741.8M296 737.6V741.5M296.5 736.9V741.8M297 737.3V741.9M297.5 737.4V741.7M298 737.6V741.2M298.5 737.7V741.7M299 737.6V741.2M299.5 737.5V741.1M300 737.8V741.1M300.5 737.9V741.6M301 737.8V741.6M301.5 737.6V741.3M302 737.4V741.2M302.5 737.3V741.2M303 737.5V741.4M303.5 737.2V741.8M304 737.6V741.7M304.5 737.7V741.3M305 737.7V741.2M305.5 737.6V741.0M306 737.7V740.8M306.5 738.1V741.2M307 738.0V741.1M307.5 737.7V741.4M308 737.9V741.1M308.5 737.9V741.2M309 737.9V741.1M309.5 737.8V741.2M310 737.7V741.2M310.5 737.6V741.3M311 737.9V741.3M311.5 738.0V741.1M312 738.0V741.2M312.5 737.4V740.9M313 737.5V740.9M313.5 737.4V741.4M314 737.3V741.6M314.5 737.0V741.6M315 736.8V741.6M315.5 737.5V741.2M316 737.9V741.2M316.5 737.2V741.6M317 737.8V741.7M317.5 737.1V741.3M318 737.1V742.0M318.5 737.4V741.6M319 737.0V741.3M319.5 737.0V742.1M320 737.3V741.8M320.5 737.3V741.8M321 737.1V741.6M321.5 737.5V741.6M322 737.8V740.5M322.5 737.7V741.9M323 737.9V741.0M323.5 737.7V741.3M324 737.9V741.4M324.5 737.8V741.6M325 737.3V741.2M325.5 737.9V741.7M326 737.5V741.7M326.5 737.6V741.5M327 737.6V741.1M327.5 737.4V741.6M328 737.7V741.3M328.5 737.4V741.7M329 738.0V741.2M329.5 737.2V741.3M330 737.8V741.1M330.5 737.3V741.5M331 737.8V741.3M331.5 737.9V741.2M332 737.6V741.6M332.5 737.7V741.6M333 737.7V741.2M333.5 738.0V741.6M334 737.5V741.5M334.5 738.1V741.1M335 737.7V741.5M335.5 737.6V741.3M336 737.8V741.5M336.5 737.8V741.3M337 737.5V741.5M337.5 737.7V741.2M338 737.7V741.5M338.5 737.6V741.1M339 737.6V741.4M339.5 737.9V741.1M340 738.0V741.4M340.5 738.0V740.8M341 738.1V741.1M341.5 737.5V741.5M342 737.7V741.6M342.5 737.9V741.5M343 737.5V741.0M343.5 738.0V741.4M344 737.9V741.0M344.5 737.3V741.6M345 737.6V741.9M345.5 737.4V741.4M346 737.5V741.4M346.5 737.4V741.6M347 737.1V741.6M347.5 737.5V741.5M348 737.4V742.0M348.5 737.2V741.7M349 737.7V741.6M349.5 737.8V741.5M350 737.4V742.0M350.5 737.5V741.3M351 737.3V741.6M351.5 737.4V741.7M352 738.1V741.2M352.5 737.4V741.5M353 737.8V741.5M353.5 737.5V741.6M354 737.7V741.2M354.5 737.7V740.8M355 738.2V741.6M355.5 737.6V741.2M356 737.8V741.4M356.5 736.8V741.6M357 737.7V741.7M357.5 737.5V741.9M358 737.6V741.5M358.5 738.2V741.3M359 737.1V741.5M359.5 737.5V741.3M360 737.4V741.6M360.5 737.4V741.8M361 737.4V741.8M361.5 737.2V741.5M362 737.2V741.4M362.5 737.1V741.5M363 737.1V741.7M363.5 737.4V741.8M364 737.4V741.9M364.5 737.1V742.0M365 737.7V741.7M365.5 737.2V741.4M366 737.4V741.4M366.5 736.0V741.8M367 737.2V742.3M367.5 736.7V742.4M368 737.2V741.7M368.5 737.1V742.3M369 737.3V741.6M369.5 737.0V741.7M370 737.3V741.6M370.5 737.3V741.9M371 736.9V741.8M371.5 737.1V741.8M372 737.0V741.6M372.5 737.0V741.7M373 737.6V741.7M373.5 737.3V741.5M374 737.3V741.7M374.5 737.6V741.7M375 737.5V741.4M375.5 737.1V742.0M376 737.3V741.6M376.5 737.4V741.7M377 737.8V741.7M377.5 737.8V741.4M378 737.6V741.6M378.5 737.8V741.4M379 737.3V741.2M379.5 737.6V741.6M380 737.3V741.3M380.5 737.5V741.7M381 737.2V741.9M381.5 737.2V741.8M382 736.5V742.0M382.5 737.7V741.5M383 737.8V741.3M383.5 737.6V741.8M384 737.4V741.8M384.5 737.2V742.0M385 737.0V741.8M385.5 737.3V741.8M386 737.6V741.8M386.5 736.9V741.4M387 737.4V741.6M387.5 737.7V741.6M388 737.2V742.1M388.5 737.3V742.1M389 736.1V742.8M389.5 737.2V741.8M390 737.2V742.1M390.5 737.0V742.0M391 738.1V741.0M391.5 737.2V741.5M392 736.9V741.9M392.5 737.1V741.7M393 737.4V741.4M393.5 737.1V741.7M394 737.5V741.6M394.5 737.8V742.0M395 737.2V741.4M395.5 737.5V741.6M396 737.4V741.3M396.5 738.4V741.4M397 737.7V741.5M397.5 737.7V741.1M398 738.1V741.3M398.5 737.7V741.3M399 737.4V741.2M399.5 737.3V741.6M400 737.7V741.3M400.5 737.4V741.3M401 737.5V741.7M401.5 737.6V741.6M402 737.5V741.2M402.5 737.2V741.7M403 736.9V741.7M403.5 737.8V741.7M404 737.5V741.9M404.5 736.9V741.7M405 737.0V742.3M405.5 737.3V741.8M406 737.8V741.7M406.5 737.4V741.6M407 737.1V741.6M407.5 737.1V741.8M408 737.0V741.9M408.5 736.6V741.9M409 737.1V741.9M409.5 737.1V742.4M410 736.9V742.3M410.5 737.2V742.0M411 737.1V741.8M411.5 737.6V741.6M412 736.9V741.3M412.5 737.2V741.7M413 737.4V741.3M413.5 737.6V741.4M414 737.8V741.1M414.5 737.6V741.5M415 737.6V741.4M415.5 737.7V741.8M416 736.8V741.8M416.5 737.3V741.5M417 737.8V741.9M417.5 737.8V741.0M418 737.6V741.2M418.5 737.7V741.4M419 737.4V741.1M419.5 737.5V742.0M420 737.7V741.5M420.5 737.5V741.5M421 737.7V741.5M421.5 737.5V741.0M422 737.4V741.9M422.5 738.2V740.9M423 738.0V741.0M423.5 738.2V741.1M424 737.9V741.3M424.5 738.0V741.0M425 737.8V741.3M425.5 738.0V741.2M426 738.0V741.4M426.5 737.5V741.3M427 737.5V741.2M427.5 737.3V742.3M428 736.8V741.6M428.5 737.1V741.3M429 737.0V741.4M429.5 736.8V741.9M430 737.1V741.2M430.5 737.2V741.6M431 737.6V741.5M431.5 737.6V741.5M432 737.4V741.7M432.5 737.4V741.6M433 737.6V742.3M433.5 737.1V741.9M434 737.5V742.2M434.5 736.8V742.1M435 737.8V741.3M435.5 737.3V741.3M436 737.4V741.1M436.5 737.5V741.1M437 737.7V741.4M437.5 737.7V741.6M438 737.4V741.2M438.5 737.1V741.5M439 737.4V741.4M439.5 737.6V741.8M440 737.6V741.4M440.5 737.6V741.5M441 737.1V741.5M441.5 737.2V741.2M442 737.6V741.6M442.5 737.6V741.4M443 737.7V741.6M443.5 737.3V741.4M444 737.5V741.6M444.5 737.5V742.1M445 737.2V741.7M445.5 737.3V742.2M446 736.9V741.3M446.5 737.2V741.6M447 737.7V741.6M447.5 737.8V741.6M448 737.5V741.5M448.5 737.8V741.5M449 737.1V740.9M449.5 737.3V741.3M450 737.5V741.9M450.5 737.2V741.1M451 737.0V741.5M451.5 737.0V741.4M452 737.3V741.9M452.5 736.5V741.6M453 737.0V742.1M453.5 736.3V742.7M454 736.5V742.5M454.5 736.9V742.2M455 736.5V742.5M455.5 736.7V742.1M456 736.6V742.2M456.5 736.9V742.6M457 737.1V742.5M457.5 736.3V742.3M458 736.8V742.2M458.5 736.2V742.5M459 736.3V741.5M459.5 736.2V742.3M460 737.0V742.4M460.5 736.8V741.9M461 736.5V742.0M461.5 737.0V741.6M462 737.1V741.5M462.5 737.3V741.6M463 737.2V742.0M463.5 737.4V742.0M464 737.0V741.7M464.5 737.3V741.8M465 737.4V741.2M465.5 737.1V741.7M466 737.0V742.0M466.5 737.5V742.0M467 737.0V742.1M467.5 736.8V741.8M468 736.8V741.8M468.5 737.2V741.5M469 737.2V741.8M469.5 736.9V742.9M470 736.7V742.4M470.5 736.5V742.4M471 736.9V742.3M471.5 737.2V741.8M472 737.2V742.0M472.5 737.1V741.7M473 736.8V741.1M473.5 737.8V741.9M474 737.4V741.2M474.5 737.3V741.6M475 737.4V742.1M475.5 737.4V741.9M476 737.9V741.9M476.5 737.1V741.8M477 736.9V741.5M477.5 737.1V741.8M478 737.4V741.5M478.5 737.2V741.9M479 737.7V741.9M479.5 736.9V741.7M480 737.5V741.3M480.5 737.2V741.0M481 737.8V741.4M481.5 737.4V741.4M482 737.5V741.0M482.5 737.3V741.6M483 737.6V741.6M483.5 737.5V741.6M484 737.4V741.8M484.5 737.5V741.7M485 736.7V741.4M485.5 737.3V741.4M486 737.5V741.8M486.5 737.7V741.5M487 737.2V741.9M487.5 737.3V741.6M488 737.0V741.9M488.5 736.9V742.1M489 737.1V742.3M489.5 737.1V742.1M490 737.6V742.1M490.5 737.1V742.0M491 736.8V742.2M491.5 737.1V741.8M492 737.6V741.7M492.5 737.1V741.6M493 737.1V741.7M493.5 737.3V741.7M494 737.1V741.5M494.5 736.9V741.4M495 737.3V741.7M495.5 737.1V741.8M496 737.5V741.7M496.5 737.6V741.6M497 737.7V741.3M497.5 737.3V741.4M498 738.0V741.5M498.5 737.6V741.6M499 737.2V741.3M499.5 737.4V741.2M500 737.4V741.4M500.5 737.1V741.5M501 737.6V741.2M501.5 737.9V741.1M502 737.4V741.4M502.5 737.4V741.6M503 737.4V741.3M503.5 736.7V742.5M504 736.5V741.7M504.5 736.6V743.1M505 736.0V741.8M505.5 737.6V742.3M506 737.1V742.8M506.5 735.9V741.5M507 735.8V743.5M507.5 736.4V743.9M508 736.8V743.5M508.5 736.0V742.2M509 734.1V742.4M509.5 735.3V742.4M510 734.9V743.1M510.5 735.0V743.6M511 735.5V743.8M511.5 735.6V743.8M512 736.0V742.2M512.5 736.3V743.7M513 734.2V743.0M513.5 735.5V743.1M514 735.7V743.4M514.5 736.5V743.6M515 736.1V745.4M515.5 733.4V746.6M516 735.9V743.9M516.5 735.0V744.2M517 735.3V741.8M517.5 736.2V743.3M518 737.6V743.9M518.5 733.8V744.2M519 734.2V742.8M519.5 735.9V740.8M520 736.3V742.8M520.5 737.2V743.3M521 736.2V741.7M521.5 734.7V741.8M522 736.5V742.4M522.5 736.0V742.0M523 736.6V743.7M523.5 736.5V742.3M524 736.3V742.4M524.5 736.8V743.2M525 736.8V742.7M525.5 735.5V742.7M526 736.4V743.4M526.5 736.3V743.1M527 736.0V742.8M527.5 736.5V742.2M528 736.3V744.4M528.5 736.0V743.6M529 735.8V743.4M529.5 737.0V743.0M530 737.1V743.1M530.5 736.1V743.0M531 736.4V742.6M531.5 736.0V742.0M532 737.3V742.8M532.5 736.5V742.5M533 736.7V742.9M533.5 736.0V742.7M534 737.3V741.9M534.5 738.0V741.4M535 737.6V742.1M535.5 737.1V742.4M536 736.9V741.1M536.5 737.3V741.3M537 738.0V742.1M537.5 736.7V741.2M538 737.3V741.6M538.5 737.9V742.7M539 736.5V742.1M539.5 736.9V741.8M540 737.4V742.0M540.5 737.0V741.9M541 737.5V742.2M541.5 737.4V742.2M542 736.1V742.9M542.5 736.9V742.0M543 736.8V742.3M543.5 736.4V742.0M544 737.4V742.3M544.5 736.7V741.6M545 736.7V742.7M545.5 737.1V742.6M546 736.9V742.5M546.5 737.1V741.8M547 737.4V742.1M547.5 737.0V742.3M548 737.1V743.4M548.5 737.1V743.0M549 737.3V742.3M549.5 737.0V742.0M550 736.4V742.4M550.5 736.1V742.6M551 736.4V743.1M551.5 735.3V744.0M552 734.8V742.8M552.5 735.6V744.1M553 736.3V744.6M553.5 735.5V743.1M554 737.4V742.5M554.5 736.4V743.0M555 736.0V744.0M555.5 735.5V744.8M556 735.3V742.3M556.5 732.9V743.9M557 735.6V745.7M557.5 736.0V742.8M558 735.1V741.7M558.5 735.7V745.0M559 736.1V742.9M559.5 735.5V741.3M560 735.9V743.6M560.5 734.7V744.3M561 734.7V744.9M561.5 735.7V743.4M562 735.2V743.9M562.5 733.8V742.6M563 734.6V744.6M563.5 734.2V744.0M564 736.4V741.8M564.5 736.3V742.7M565 735.2V743.6M565.5 736.1V742.3M566 734.5V744.3M566.5 736.6V743.0M567 736.6V743.8M567.5 737.6V742.5M568 736.0V743.3M568.5 736.2V742.5M569 736.8V743.5M569.5 735.9V743.9M570 735.4V744.2M570.5 737.3V744.6M571 736.6V741.9M571.5 735.4V743.0M572 734.6V743.7M572.5 736.1V743.4M573 735.7V743.4M573.5 735.3V743.6M574 733.9V742.7M574.5 735.6V743.4M575 736.4V745.1M575.5 733.8V742.2M576 735.5V741.0M576.5 736.5V744.9M577 735.6V746.5M577.5 735.4V745.9M578 734.7V744.5M578.5 734.7V743.1M579 735.5V743.0M579.5 734.0V744.7M580 734.3V748.7M580.5 731.5V744.6M581 738.3V747.5M581.5 735.2V743.8M582 733.8V743.3M582.5 734.4V745.3M583 734.5V742.4M583.5 737.2V743.9M584 735.7V742.3M584.5 735.8V745.0M585 735.3V744.9M585.5 736.9V743.8M586 735.1V744.2M586.5 734.4V743.0M587 734.6V742.4M587.5 734.4V742.4M588 735.4V745.3M588.5 735.3V745.4M589 737.0V743.4M589.5 733.4V744.7M590 735.9V742.8M590.5 735.3V743.6M591 736.2V744.1M591.5 736.5V743.8M592 735.1V743.6M592.5 735.6V744.2M593 738.4V744.3M593.5 737.7V741.7M594 734.2V745.3M594.5 736.0V742.8M595 734.7V743.3M595.5 734.2V744.2M596 732.6V744.8M596.5 734.7V745.7M597 733.4V745.3M597.5 734.6V745.5M598 735.2V743.8M598.5 732.6V745.5M599 736.4V744.3M599.5 733.2V745.9M600 735.8V744.8M600.5 735.8V743.9M601 732.7V747.1M601.5 732.3V745.9M602 733.9V746.3M602.5 738.2V744.2M603 735.6V745.1M603.5 735.6V745.1M604 736.1V743.9M604.5 734.7V742.7M605 738.4V743.8M605.5 737.8V740.8M606 735.3V744.6M606.5 735.0V742.4M607 736.8V742.8M607.5 735.8V743.1M608 734.8V743.5M608.5 736.7V743.1M609 736.8V742.9M609.5 735.8V743.7M610 736.8V742.6M610.5 736.6V743.1M611 736.6V743.0M611.5 736.2V743.5M612 736.4V742.0M612.5 737.0V743.5M613 736.5V743.4M613.5 736.6V742.6M614 736.0V742.2M614.5 736.1V742.6M615 736.1V742.3M615.5 736.4V742.6M616 736.7V742.1M616.5 735.7V742.1M617 736.5V742.3M617.5 736.0V742.9M618 737.1V742.3M618.5 737.6V742.0M619 736.8V742.0M619.5 737.0V742.3M620 737.4V741.9M620.5 737.6V742.2M621 737.1V742.3M621.5 736.5V742.3M622 736.7V742.6M622.5 737.4V742.2M623 736.9V742.1M623.5 737.0V742.1M624 736.7V742.3M624.5 737.1V741.7M625 736.9V741.9M625.5 736.7V742.5M626 737.2V741.5M626.5 737.2V741.7M627 737.3V741.6M627.5 737.3V741.2M628 737.6V741.5M628.5 736.7V741.9M629 737.8V741.1M629.5 737.5V741.9M630 737.0V741.3M630.5 736.9V742.0M631 737.6V741.6M631.5 737.5V741.7M632 738.0V741.6M632.5 737.9V741.3M633 737.2V741.1M633.5 737.4V741.0M634 736.5V741.4M634.5 737.2V741.4M635 737.0V741.4M635.5 737.5V741.0M636 737.4V741.4M636.5 737.5V741.7M637 737.5V741.9M637.5 736.9V741.8M638 737.1V741.6M638.5 737.1V742.4M639 737.0V742.0M639.5 736.3V741.7M640 737.5V741.9M640.5 736.9V741.8M641 737.6V741.9M641.5 737.0V741.8M642 737.2V741.6M642.5 737.4V741.6M643 737.3V741.6M643.5 737.5V741.9M644 737.9V740.9M644.5 737.9V741.4M645 737.6V741.4M645.5 737.5V741.4" fill="none" stroke="#0000ff" stroke-width="1.0" stroke-opacity="1.0"/>
<g stroke="#0000ff" fill="none"><path d="M134.4 725.36V791.77" stroke-width="1.3" stroke-opacity="0.8"/><path d="M139.8 726.17V789.93" stroke-width="1.3" stroke-opacity="0.8"/><path d="M145.4 731.3V774.97" stroke-width="0.9" stroke-opacity="0.7"/><path d="M340.4 727.81V810.23" stroke-width="0.8" stroke-opacity="0.55"/><path d="M342.2 720.43V739.5" stroke-width="0.7" stroke-opacity="0.55"/><path d="M347 739.5V749.13" stroke-width="0.7" stroke-opacity="0.55"/><path d="M349.3 739.5V752.21" stroke-width="1.0" stroke-opacity="0.55"/><path d="M365.1 731.3V807.97" stroke-width="1.0" stroke-opacity="0.75"/><path d="M403.4 737.45V775.99" stroke-width="0.8" stroke-opacity="0.55"/><path d="M428.4 729.87V815.14" stroke-width="0.8" stroke-opacity="0.55"/><path d="M467.4 737.45V775.38" stroke-width="0.8" stroke-opacity="0.55"/><path d="M498 663.65V759.59" stroke-width="1.0" stroke-opacity="0.55"/><path d="M512.6 625.11V745.65" stroke-width="0.8" stroke-opacity="0.55"/><path d="M519.7 638.64V745.65" stroke-width="0.8" stroke-opacity="0.55"/><path d="M517.3 735.4V772.3" stroke-width="0.7" stroke-opacity="0.55"/><path d="M521.2 735.4V790.13" stroke-width="0.8" stroke-opacity="0.55"/><path d="M528 653.4V745.65" stroke-width="0.9" stroke-opacity="0.55"/><path d="M537.3 739.5V750.77" stroke-width="0.7" stroke-opacity="0.55"/><path d="M542.9 735.4V778.86" stroke-width="0.8" stroke-opacity="0.55"/><path d="M553.6 728.23V743.6" stroke-width="0.7" stroke-opacity="0.55"/><path d="M571.7 721.05V743.6" stroke-width="0.7" stroke-opacity="0.55"/><path d="M585.7 628.19V749.75" stroke-width="0.9" stroke-opacity="0.55"/><path d="M595.5 644.79V745.65" stroke-width="0.8" stroke-opacity="0.55"/><path d="M600 646.23V745.65" stroke-width="0.8" stroke-opacity="0.55"/><path d="M608.3 648.89V747.7" stroke-width="0.8" stroke-opacity="0.55"/><path d="M624.4 643.15V747.7" stroke-width="0.8" stroke-opacity="0.55"/></g>
</g>
<rect x="43.5" y="616.5" width="602.0" height="205.0" fill="none" stroke="#b4b4b4" stroke-width="1"/>
<path d="M118.5 821.5v-6M118.5 616.5v6M194.5 821.5v-6M194.5 616.5v6M269.5 821.5v-6M269.5 616.5v6M344.5 821.5v-6M344.5 616.5v6M419.5 821.5v-6M419.5 616.5v6M494.5 821.5v-6M494.5 616.5v6M570.5 821.5v-6M570.5 616.5v6M43.5 780.5h6M645.5 780.5h-6M43.5 739.5h6M645.5 739.5h-6M43.5 698.5h6M645.5 698.5h-6M43.5 657.5h6M645.5 657.5h-6" stroke="#999" stroke-width="1" fill="none"/>
<text x="43.2" y="835.7" text-anchor="middle">00:00</text>
<text x="118.45" y="835.7" text-anchor="middle">03:00</text>
<text x="193.7" y="835.7" text-anchor="middle">06:00</text>
<text x="268.95" y="835.7" text-anchor="middle">09:00</text>
<text x="344.2" y="835.7" text-anchor="middle">12:00</text>
<text x="419.45" y="835.7" text-anchor="middle">15:00</text>
<text x="494.7" y="835.7" text-anchor="middle">18:00</text>
<text x="569.95" y="835.7" text-anchor="middle">21:00</text>
<text x="645.2" y="835.7" text-anchor="middle">00:00</text>
<text x="39.6" y="826" text-anchor="end">-4</text>
<text x="39.6" y="785" text-anchor="end">-2</text>
<text x="39.6" y="744" text-anchor="end">0</text>
<text x="39.6" y="703" text-anchor="end">2</text>
<text x="39.6" y="662" text-anchor="end">4</text>
<text x="39.6" y="621" text-anchor="end">6</text>
<text class="b" transform="translate(20.1 719) rotate(-90)" text-anchor="middle">Z (nT)</text>
<g clip-path="url(#cr0)"><g filter="url(#jet)">
<rect x="826.2" y="36.0" width="623.5999999999999" height="225.5" fill="#000"/>
<polygon points="967.75,92 969.45,252 972.95,252 971.25,92" fill="url(#g0_0o)"/>
<polygon points="968.41,92 970.12,252 972.29,252 970.59,92" fill="url(#g0_0)"/>
<polygon shape-rendering="crispEdges" points="981,74 981,252 983.5,252 983.5,74" fill="url(#g0_1)"/>
<polygon points="989.55,66 989.55,252 993.05,252 993.05,66" fill="url(#g0_2o)"/>
<polygon points="990,66 990,252 992,252 992,66" fill="url(#g0_2)"/>
<polygon shape-rendering="crispEdges" points="1014,148 1014,252 1016.5,252 1016.5,148" fill="url(#g0_3)"/>
<polygon shape-rendering="crispEdges" points="1018,205 1018,252 1020.5,252 1020.5,205" fill="url(#g0_4)"/>
<polygon shape-rendering="crispEdges" points="1022.25,66 1022.25,169 1024.25,169 1024.25,66" fill="url(#g0_5)"/>
<polygon shape-rendering="crispEdges" points="1029.25,200 1029.25,252 1031.25,252 1031.25,200" fill="url(#g0_6)"/>
<polygon shape-rendering="crispEdges" points="1047.25,184 1047.25,235 1049.25,235 1049.25,184" fill="url(#g0_7)"/>
<polygon shape-rendering="crispEdges" points="1054.25,166 1054.25,252 1056.25,252 1056.25,166" fill="url(#g0_8)"/>
<polygon shape-rendering="crispEdges" points="1040.25,130 1040.25,179 1042.25,179 1042.25,130" fill="url(#g0_9)"/>
<polygon shape-rendering="crispEdges" points="1079.25,151 1079.25,184 1081.25,184 1081.25,151" fill="url(#g0_10)"/>
<polygon shape-rendering="crispEdges" points="1092.25,189 1092.25,252 1094.25,252 1094.25,189" fill="url(#g0_11)"/>
<polygon shape-rendering="crispEdges" points="1117,164 1117,252 1119.5,252 1119.5,164" fill="url(#g0_12)"/>
<polygon points="1126.45,164 1124.85,252 1128.35,252 1129.95,164" fill="url(#g0_13o)"/>
<polygon points="1127.12,164 1125.51,252 1127.68,252 1129.29,164" fill="url(#g0_13)"/>
<polygon shape-rendering="crispEdges" points="1131,205 1131,252 1133.5,252 1133.5,205" fill="url(#g0_14)"/>
<polygon shape-rendering="crispEdges" points="1136.25,160 1136.25,252 1138.25,252 1138.25,160" fill="url(#g0_15)"/>
<polygon shape-rendering="crispEdges" points="1145,153 1145,252 1147.5,252 1147.5,153" fill="url(#g0_16)"/>
<polygon shape-rendering="crispEdges" points="1162.25,205 1162.25,252 1164.25,252 1164.25,205" fill="url(#g0_17)"/>
<polygon shape-rendering="crispEdges" points="1172.25,205 1172.25,252 1174.25,252 1174.25,205" fill="url(#g0_18)"/>
<polygon shape-rendering="crispEdges" points="1183.25,200 1183.25,252 1185.25,252 1185.25,200" fill="url(#g0_19)"/>
<polygon shape-rendering="crispEdges" points="1192,184 1192,252 1194.5,252 1194.5,184" fill="url(#g0_20)"/>
<polygon shape-rendering="crispEdges" points="1203,174 1203,252 1205.5,252 1205.5,174" fill="url(#g0_21)"/>
<polygon points="1238.25,179 1240.35,252 1242.85,252 1240.75,179" fill="url(#g0_22)"/>
<polygon shape-rendering="crispEdges" points="1248.25,97 1248.25,153 1250.25,153 1250.25,97" fill="url(#g0_23)"/>
<polygon shape-rendering="crispEdges" points="1282.25,86 1282.25,252 1284.25,252 1284.25,86" fill="url(#g0_24)"/>
<polygon shape-rendering="crispEdges" points="1298.25,110 1298.25,171 1300.25,171 1300.25,110" fill="url(#g0_25)"/>
<polygon shape-rendering="crispEdges" points="1307.25,138 1307.25,184 1309.25,184 1309.25,138" fill="url(#g0_26)"/>
<polygon shape-rendering="crispEdges" points="1330.25,125 1330.25,205 1332.25,205 1332.25,125" fill="url(#g0_27)"/>
<polygon points="1347.75,66 1346.5,117 1344.05,190 1345.2,225 1346,252 1349,252 1349.2,225 1349.55,190 1350.5,117 1350.25,66" fill="url(#g0_28o)"/>
<polygon points="1348.22,66 1347.26,117 1345.1,190 1345.96,225 1346.57,252 1348.43,252 1348.44,225 1348.5,190 1349.74,117 1349.78,66" fill="url(#g0_28)"/>
<polygon shape-rendering="crispEdges" points="1355.25,184 1355.25,252 1357.25,252 1357.25,184" fill="url(#g0_29)"/>
<polygon shape-rendering="crispEdges" points="1375.25,125 1374.25,205 1373.25,252 1379.25,252 1378.25,205 1377.25,125" fill="url(#g0_30)"/>
<polygon shape-rendering="crispEdges" points="1369.05,44 1368.85,150 1368.55,252 1370.95,252 1370.65,150 1370.45,44" fill="url(#g0_31)"/>
<polygon points="1390.6,135 1390.6,252 1394.2,252 1394.2,135" fill="url(#g0_32o)"/>
<polygon points="1391,135 1391,252 1393,252 1393,135" fill="url(#g0_32)"/>
<polygon shape-rendering="crispEdges" points="1405.25,195 1405.25,252 1407.25,252 1407.25,195" fill="url(#g0_33)"/>
<polygon shape-rendering="crispEdges" points="1425.25,200 1425.25,252 1427.25,252 1427.25,200" fill="url(#g0_34)"/>
<polygon shape-rendering="crispEdges" points="1378.25,66 1378.25,143 1380.25,143 1380.25,66" fill="url(#g0_35)"/>
<polygon shape-rendering="crispEdges" points="1335.25,44 1335.25,70 1337.25,70 1337.25,44" fill="url(#g0_36)"/>
</g></g>
<path d="M911.5 251.5v-5M911.5 46v5M987.5 251.5v-5M987.5 46v5M1062.5 251.5v-5M1062.5 46v5M1138.5 251.5v-5M1138.5 46v5M1213.5 251.5v-5M1213.5 46v5M1288.5 251.5v-5M1288.5 46v5M1364.5 251.5v-5M1364.5 46v5M836.2 48.5h5M1439.8 48.5h-5M836.2 64.5h5M1439.8 64.5h-5M836.2 83.5h5M1439.8 83.5h-5M836.2 103.5h5M1439.8 103.5h-5M836.2 127.5h5M1439.8 127.5h-5M836.2 154.5h5M1439.8 154.5h-5M836.2 186.5h5M1439.8 186.5h-5M836.2 204.5h5M1439.8 204.5h-5M836.2 225.5h5M1439.8 225.5h-5M836.2 248.5h5M1439.8 248.5h-5" stroke="#000040" stroke-opacity="0.4" stroke-width="1" fill="none"/>
<text x="835.9" y="265.7" text-anchor="middle">00:00</text>
<text x="911.35" y="265.7" text-anchor="middle">03:00</text>
<text x="986.8" y="265.7" text-anchor="middle">06:00</text>
<text x="1062.25" y="265.7" text-anchor="middle">09:00</text>
<text x="1137.7" y="265.7" text-anchor="middle">12:00</text>
<text x="1213.15" y="265.7" text-anchor="middle">15:00</text>
<text x="1288.6" y="265.7" text-anchor="middle">18:00</text>
<text x="1364.05" y="265.7" text-anchor="middle">21:00</text>
<text x="1439.5" y="265.7" text-anchor="middle">00:00</text>
<text x="832.7" y="52.7" text-anchor="end">22</text>
<text x="832.7" y="69.38" text-anchor="end">20</text>
<text x="832.7" y="87.82" text-anchor="end">18</text>
<text x="832.7" y="108.43" text-anchor="end">16</text>
<text x="832.7" y="131.8" text-anchor="end">14</text>
<text x="832.7" y="158.77" text-anchor="end">12</text>
<text x="832.7" y="190.68" text-anchor="end">10</text>
<text x="832.7" y="209.12" text-anchor="end">9</text>
<text x="832.7" y="229.73" text-anchor="end">8</text>
<text x="832.7" y="253.1" text-anchor="end">7</text>
<text class="b" transform="translate(810.2 149) rotate(-90)" text-anchor="middle">freq (mHz)</text>
<rect x="1458.0" y="46.0" width="26.0" height="205.5" fill="url(#cb)"/>
<rect x="1458.5" y="46.5" width="25.0" height="205.0" fill="none" stroke="#5a3020" stroke-opacity="0.35" stroke-width="1"/>
<text x="1486.6" y="50.5">4</text>
<text x="1486.6" y="84.67">3</text>
<text x="1486.6" y="118.83">2</text>
<text x="1486.6" y="153">1</text>
<text x="1486.6" y="187.17">0</text>
<text x="1486.6" y="221.33">-1</text>
<text x="1486.6" y="255.5">-2</text>
<path d="M1458.5 80.5h3M1483.5 80.5h-3M1458.5 114.5h3M1483.5 114.5h-3M1458.5 148.5h3M1483.5 148.5h-3M1458.5 183.5h3M1483.5 183.5h-3M1458.5 217.5h3M1483.5 217.5h-3" stroke="#000" stroke-opacity="0.45" stroke-width="1" fill="none"/>
<text class="b" transform="translate(1518.8 148.8) rotate(-90)" text-anchor="middle">log<tspan font-size="9.8px" dy="6">2</tspan><tspan dy="-6">(nT</tspan><tspan font-size="9.8px" dy="-6.5">2</tspan><tspan dy="6.5">/Hz)</tspan></text>
<g clip-path="url(#cr1)"><g filter="url(#jet)">
<rect x="826.2" y="321.0" width="623.5999999999999" height="225.5" fill="#000"/>
<polygon shape-rendering="crispEdges" points="858.25,480 858.25,518 860.25,518 860.25,480" fill="url(#g1_0)"/>
<polygon points="929.25,420 931.75,537 934.25,537 931.75,420" fill="url(#g1_1)"/>
<polygon shape-rendering="crispEdges" points="940,500 940,537 942.5,537 942.5,500" fill="url(#g1_2)"/>
<polygon points="968.75,384 968.75,537 972.25,537 972.25,384" fill="url(#g1_3o)"/>
<polygon points="970,384 970,537 972,537 972,384" fill="url(#g1_3)"/>
<polygon points="979.75,410 979.75,537 983.25,537 983.25,410" fill="url(#g1_4o)"/>
<polygon points="981,410 981,537 983,537 983,410" fill="url(#g1_4)"/>
<polygon shape-rendering="crispEdges" points="985.25,425 985.25,490 987.25,490 987.25,425" fill="url(#g1_5)"/>
<polygon shape-rendering="crispEdges" points="989.25,340 989.25,423 991.25,423 991.25,340" fill="url(#g1_6)"/>
<polygon shape-rendering="crispEdges" points="991,454 991,537 993.5,537 993.5,454" fill="url(#g1_7)"/>
<polygon shape-rendering="crispEdges" points="1001.25,384 1001.25,495 1003.25,495 1003.25,384" fill="url(#g1_8)"/>
<polygon shape-rendering="crispEdges" points="1013.15,472 1013.15,534 1015.35,534 1015.35,472" fill="url(#g1_9)"/>
<polygon shape-rendering="crispEdges" points="1022.25,423 1022.25,505 1024.25,505 1024.25,423" fill="url(#g1_10)"/>
<polygon shape-rendering="crispEdges" points="1127.25,376 1127.25,518 1129.25,518 1129.25,376" fill="url(#g1_11)"/>
<polygon shape-rendering="crispEdges" points="1143.25,480 1143.25,537 1145.25,537 1145.25,480" fill="url(#g1_12)"/>
<polygon shape-rendering="crispEdges" points="1191.25,490 1191.25,526 1193.25,526 1193.25,490" fill="url(#g1_13)"/>
<polygon points="1299.35,376 1295.75,521 1298.25,521 1301.85,376" fill="url(#g1_14)"/>
<polygon points="1308.75,397 1310,505 1310.2,537 1315.2,537 1313,505 1311.25,397" fill="url(#g1_15o)"/>
<polygon points="1309.22,397 1310.57,505 1311.15,537 1314.25,537 1312.43,505 1310.78,397" fill="url(#g1_15)"/>
<polygon shape-rendering="crispEdges" points="1336,415 1336,537 1338.5,537 1338.5,415" fill="url(#g1_16)"/>
<polygon points="1346.3,413 1346.3,537 1349.3,537 1349.3,413" fill="url(#g1_17o)"/>
<polygon points="1347,413 1347,537 1349,537 1349,413" fill="url(#g1_17)"/>
<polygon shape-rendering="crispEdges" points="1351,449 1351,537 1353.5,537 1353.5,449" fill="url(#g1_18)"/>
<polygon shape-rendering="crispEdges" points="1374.25,395 1373.75,469 1372.5,537 1378,537 1376.75,469 1376.25,395" fill="url(#g1_19)"/>
<polygon points="1369.2,329 1368.61,415 1367.68,470 1367.6,537 1370.8,537 1371.18,470 1370.61,415 1370.6,329" fill="url(#g1_20o)"/>
<polygon points="1369.47,329 1368.99,415 1368.34,470 1368.21,537 1370.19,537 1370.51,470 1370.23,415 1370.33,329" fill="url(#g1_20)"/>
<polygon points="1390.7,405 1390.7,537 1394.1,537 1394.1,405" fill="url(#g1_21o)"/>
<polygon points="1391,405 1391,537 1393,537 1393,405" fill="url(#g1_21)"/>
<polygon shape-rendering="crispEdges" points="1346.25,346 1346.25,412 1348.25,412 1348.25,346" fill="url(#g1_22)"/>
<polygon shape-rendering="crispEdges" points="1330.25,438 1330.25,485 1332.25,485 1332.25,438" fill="url(#g1_23)"/>
</g></g>
<path d="M911.5 536.5v-5M911.5 331v5M987.5 536.5v-5M987.5 331v5M1062.5 536.5v-5M1062.5 331v5M1138.5 536.5v-5M1138.5 331v5M1213.5 536.5v-5M1213.5 331v5M1288.5 536.5v-5M1288.5 331v5M1364.5 536.5v-5M1364.5 331v5M836.2 333.5h5M1439.8 333.5h-5M836.2 349.5h5M1439.8 349.5h-5M836.2 368.5h5M1439.8 368.5h-5M836.2 388.5h5M1439.8 388.5h-5M836.2 412.5h5M1439.8 412.5h-5M836.2 439.5h5M1439.8 439.5h-5M836.2 471.5h5M1439.8 471.5h-5M836.2 489.5h5M1439.8 489.5h-5M836.2 510.5h5M1439.8 510.5h-5M836.2 533.5h5M1439.8 533.5h-5" stroke="#000040" stroke-opacity="0.4" stroke-width="1" fill="none"/>
<text x="835.9" y="550.7" text-anchor="middle">00:00</text>
<text x="911.35" y="550.7" text-anchor="middle">03:00</text>
<text x="986.8" y="550.7" text-anchor="middle">06:00</text>
<text x="1062.25" y="550.7" text-anchor="middle">09:00</text>
<text x="1137.7" y="550.7" text-anchor="middle">12:00</text>
<text x="1213.15" y="550.7" text-anchor="middle">15:00</text>
<text x="1288.6" y="550.7" text-anchor="middle">18:00</text>
<text x="1364.05" y="550.7" text-anchor="middle">21:00</text>
<text x="1439.5" y="550.7" text-anchor="middle">00:00</text>
<text x="832.7" y="337.7" text-anchor="end">22</text>
<text x="832.7" y="354.38" text-anchor="end">20</text>
<text x="832.7" y="372.82" text-anchor="end">18</text>
<text x="832.7" y="393.43" text-anchor="end">16</text>
<text x="832.7" y="416.8" text-anchor="end">14</text>
<text x="832.7" y="443.77" text-anchor="end">12</text>
<text x="832.7" y="475.68" text-anchor="end">10</text>
<text x="832.7" y="494.12" text-anchor="end">9</text>
<text x="832.7" y="514.73" text-anchor="end">8</text>
<text x="832.7" y="538.1" text-anchor="end">7</text>
<text class="b" transform="translate(810.2 434) rotate(-90)" text-anchor="middle">freq (mHz)</text>
<rect x="1458.0" y="331.0" width="26.0" height="205.5" fill="url(#cb)"/>
<rect x="1458.5" y="331.5" width="25.0" height="205.0" fill="none" stroke="#5a3020" stroke-opacity="0.35" stroke-width="1"/>
<text x="1486.6" y="335.5">4</text>
<text x="1486.6" y="369.67">3</text>
<text x="1486.6" y="403.83">2</text>
<text x="1486.6" y="438">1</text>
<text x="1486.6" y="472.17">0</text>
<text x="1486.6" y="506.33">-1</text>
<text x="1486.6" y="540.5">-2</text>
<path d="M1458.5 365.5h3M1483.5 365.5h-3M1458.5 399.5h3M1483.5 399.5h-3M1458.5 434.5h3M1483.5 434.5h-3M1458.5 468.5h3M1483.5 468.5h-3M1458.5 502.5h3M1483.5 502.5h-3" stroke="#000" stroke-opacity="0.45" stroke-width="1" fill="none"/>
<text class="b" transform="translate(1518.8 433.8) rotate(-90)" text-anchor="middle">log<tspan font-size="9.8px" dy="6">2</tspan><tspan dy="-6">(nT</tspan><tspan font-size="9.8px" dy="-6.5">2</tspan><tspan dy="6.5">/Hz)</tspan></text>
<g clip-path="url(#cr2)"><g filter="url(#jet)">
<rect x="826.2" y="606.0" width="623.5999999999999" height="225.5" fill="#000"/>
<polygon shape-rendering="crispEdges" points="858.25,754 858.25,806 860.25,806 860.25,754" fill="url(#g2_0)"/>
<polygon shape-rendering="crispEdges" points="885.25,713 885.25,790 887.25,790 887.25,713" fill="url(#g2_1)"/>
<polygon shape-rendering="crispEdges" points="890.25,661 890.25,803 892.25,803 892.25,661" fill="url(#g2_2)"/>
<polygon shape-rendering="crispEdges" points="893.25,692 893.25,765 895.25,765 895.25,692" fill="url(#g2_3)"/>
<polygon shape-rendering="crispEdges" points="928,748 928,822 930.5,822 930.5,748" fill="url(#g2_4)"/>
<polygon shape-rendering="crispEdges" points="926.1,614 925.95,660 925.65,690 925.65,760 925.25,790 924.75,822 928.75,822 928.25,790 927.85,760 927.85,690 927.55,660 927.4,614" fill="url(#g2_5)"/>
<polygon shape-rendering="crispEdges" points="931.05,614 930.95,690 930.75,720 930.65,822 932.85,822 932.75,720 932.55,690 932.45,614" fill="url(#g2_6)"/>
<polygon shape-rendering="crispEdges" points="936.25,614 936.25,780 936.15,822 938.35,822 938.25,780 938.25,614" fill="url(#g2_7)"/>
<polygon shape-rendering="crispEdges" points="971.25,759 971.25,790 973.25,790 973.25,759" fill="url(#g2_8)"/>
<polygon shape-rendering="crispEdges" points="1002.25,744 1002.25,759 1004.25,759 1004.25,744" fill="url(#g2_9)"/>
<polygon shape-rendering="crispEdges" points="1024.25,744 1024.25,777 1026.25,777 1026.25,744" fill="url(#g2_10)"/>
<polygon shape-rendering="crispEdges" points="1066.25,705 1066.25,796 1068.25,796 1068.25,705" fill="url(#g2_11)"/>
<polygon shape-rendering="crispEdges" points="1128.1,614 1128.05,700 1127.9,715 1127.75,745 1127.65,787 1126.85,822 1130.65,822 1129.85,787 1129.75,745 1129.6,715 1129.45,700 1129.4,614" fill="url(#g2_12)"/>
<polygon shape-rendering="crispEdges" points="1136.15,614 1136.15,822 1137.35,822 1137.35,614" fill="url(#g2_13)"/>
<polygon shape-rendering="crispEdges" points="1152.05,614 1151.95,680 1151.85,780 1151.55,822 1153.95,822 1153.65,780 1153.55,680 1153.45,614" fill="url(#g2_14)"/>
<polygon shape-rendering="crispEdges" points="1190.05,614 1190.05,822 1191.45,822 1191.45,614" fill="url(#g2_15)"/>
<polygon shape-rendering="crispEdges" points="1214.05,614 1213.95,700 1213.85,770 1213.35,822 1216.15,822 1215.65,770 1215.55,700 1215.45,614" fill="url(#g2_16)"/>
<polygon shape-rendering="crispEdges" points="1252.1,614 1252.1,770 1253.4,770 1253.4,614" fill="url(#g2_17)"/>
<polygon shape-rendering="crispEdges" points="1282.1,614 1282.05,660 1281.85,680 1281.7,780 1281,822 1284.5,822 1283.8,780 1283.65,680 1283.45,660 1283.4,614" fill="url(#g2_18)"/>
<polygon shape-rendering="crispEdges" points="1298,697 1298,822 1300.5,822 1300.5,697" fill="url(#g2_19)"/>
<polygon shape-rendering="crispEdges" points="1296.1,614 1296.05,680 1295.9,690 1295.8,762 1295.05,822 1298.45,822 1297.7,762 1297.6,690 1297.45,680 1297.4,614" fill="url(#g2_20)"/>
<polygon shape-rendering="crispEdges" points="1302.15,614 1302.15,822 1303.35,822 1303.35,614" fill="url(#g2_21)"/>
<polygon shape-rendering="crispEdges" points="1303.25,614 1303.25,752 1302.5,782 1301.5,822 1307,822 1306,782 1305.25,752 1305.25,614" fill="url(#g2_22)"/>
<polygon shape-rendering="crispEdges" points="1311.25,614 1311.25,770 1310.95,790 1310.65,822 1313.85,822 1313.55,790 1313.25,770 1313.25,614" fill="url(#g2_23)"/>
<polygon shape-rendering="crispEdges" points="1324.15,725 1324.15,790 1326.35,790 1326.35,725" fill="url(#g2_24)"/>
<polygon shape-rendering="crispEdges" points="1326.1,614 1326,725 1325.5,822 1328,822 1327.5,725 1327.4,614" fill="url(#g2_25)"/>
<polygon shape-rendering="crispEdges" points="1339.25,695 1339.25,772 1341.25,772 1341.25,695" fill="url(#g2_26)"/>
<polygon points="1346.7,637 1345.9,700 1346.9,775 1348.7,775 1347.7,700 1348.5,637" fill="url(#g2_27)"/>
<polygon shape-rendering="crispEdges" points="1352.15,614 1352.15,762 1353.35,762 1353.35,614" fill="url(#g2_28)"/>
<polygon shape-rendering="crispEdges" points="1368.25,614 1368.25,742 1368.15,787 1367.75,822 1370.75,822 1370.35,787 1370.25,742 1370.25,614" fill="url(#g2_29)"/>
<polygon shape-rendering="crispEdges" points="1378.25,614 1378.25,760 1377.95,790 1377.75,822 1380.75,822 1380.55,790 1380.25,760 1380.25,614" fill="url(#g2_30)"/>
<polygon shape-rendering="crispEdges" points="1385,682 1385,800 1387.5,800 1387.5,682" fill="url(#g2_31)"/>
<polygon points="1382.3,614 1383.9,822 1385.3,822 1383.7,614" fill="url(#g2_32)"/>
<polygon shape-rendering="crispEdges" points="1390.05,614 1389.95,700 1389.85,770 1389.25,822 1392.25,822 1391.65,770 1391.55,700 1391.45,614" fill="url(#g2_33)"/>
<polygon shape-rendering="crispEdges" points="1397.25,752 1397.25,822 1399.25,822 1399.25,752" fill="url(#g2_34)"/>
<polygon shape-rendering="crispEdges" points="1405.25,614 1405.25,775 1405.05,822 1407.45,822 1407.25,775 1407.25,614" fill="url(#g2_35)"/>
</g></g>
<path d="M911.5 821.5v-5M911.5 616v5M987.5 821.5v-5M987.5 616v5M1062.5 821.5v-5M1062.5 616v5M1138.5 821.5v-5M1138.5 616v5M1213.5 821.5v-5M1213.5 616v5M1288.5 821.5v-5M1288.5 616v5M1364.5 821.5v-5M1364.5 616v5M836.2 618.5h5M1439.8 618.5h-5M836.2 634.5h5M1439.8 634.5h-5M836.2 653.5h5M1439.8 653.5h-5M836.2 673.5h5M1439.8 673.5h-5M836.2 697.5h5M1439.8 697.5h-5M836.2 724.5h5M1439.8 724.5h-5M836.2 756.5h5M1439.8 756.5h-5M836.2 774.5h5M1439.8 774.5h-5M836.2 795.5h5M1439.8 795.5h-5M836.2 818.5h5M1439.8 818.5h-5" stroke="#000040" stroke-opacity="0.4" stroke-width="1" fill="none"/>
<text x="835.9" y="835.7" text-anchor="middle">00:00</text>
<text x="911.35" y="835.7" text-anchor="middle">03:00</text>
<text x="986.8" y="835.7" text-anchor="middle">06:00</text>
<text x="1062.25" y="835.7" text-anchor="middle">09:00</text>
<text x="1137.7" y="835.7" text-anchor="middle">12:00</text>
<text x="1213.15" y="835.7" text-anchor="middle">15:00</text>
<text x="1288.6" y="835.7" text-anchor="middle">18:00</text>
<text x="1364.05" y="835.7" text-anchor="middle">21:00</text>
<text x="1439.5" y="835.7" text-anchor="middle">00:00</text>
<text x="832.7" y="622.7" text-anchor="end">22</text>
<text x="832.7" y="639.38" text-anchor="end">20</text>
<text x="832.7" y="657.82" text-anchor="end">18</text>
<text x="832.7" y="678.43" text-anchor="end">16</text>
<text x="832.7" y="701.8" text-anchor="end">14</text>
<text x="832.7" y="728.77" text-anchor="end">12</text>
<text x="832.7" y="760.68" text-anchor="end">10</text>
<text x="832.7" y="779.12" text-anchor="end">9</text>
<text x="832.7" y="799.73" text-anchor="end">8</text>
<text x="832.7" y="823.1" text-anchor="end">7</text>
<text class="b" transform="translate(810.2 719) rotate(-90)" text-anchor="middle">freq (mHz)</text>
<rect x="1458.0" y="616.0" width="26.0" height="205.5" fill="url(#cb)"/>
<rect x="1458.5" y="616.5" width="25.0" height="205.0" fill="none" stroke="#5a3020" stroke-opacity="0.35" stroke-width="1"/>
<text x="1486.6" y="620.5">4</text>
<text x="1486.6" y="654.67">3</text>
<text x="1486.6" y="688.83">2</text>
<text x="1486.6" y="723">1</text>
<text x="1486.6" y="757.17">0</text>
<text x="1486.6" y="791.33">-1</text>
<text x="1486.6" y="825.5">-2</text>
<path d="M1458.5 650.5h3M1483.5 650.5h-3M1458.5 684.5h3M1483.5 684.5h-3M1458.5 718.5h3M1483.5 718.5h-3M1458.5 753.5h3M1483.5 753.5h-3M1458.5 787.5h3M1483.5 787.5h-3" stroke="#000" stroke-opacity="0.45" stroke-width="1" fill="none"/>
<text class="b" transform="translate(1518.8 718.8) rotate(-90)" text-anchor="middle">log<tspan font-size="9.8px" dy="6">2</tspan><tspan dy="-6">(nT</tspan><tspan font-size="9.8px" dy="-6.5">2</tspan><tspan dy="6.5">/Hz)</tspan></text>
</svg></body></html>
